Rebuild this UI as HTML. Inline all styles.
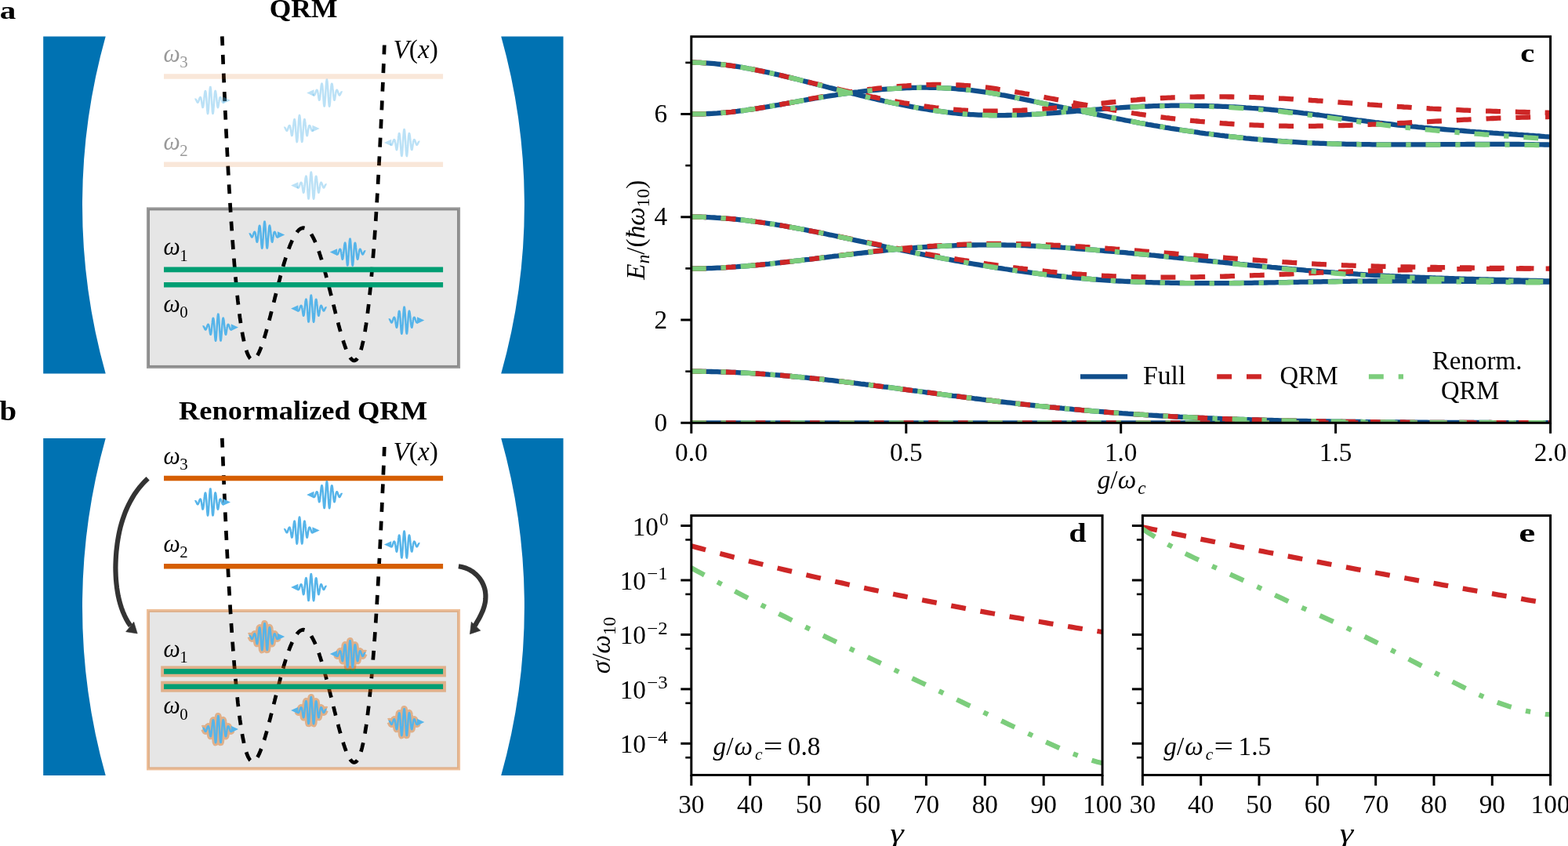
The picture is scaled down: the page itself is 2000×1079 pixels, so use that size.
<!DOCTYPE html>
<html><head><meta charset="utf-8"><title>Figure</title>
<style>html,body{margin:0;padding:0;background:#fff;overflow:hidden}svg{display:block}</style>
</head><body>
<svg width="2000" height="1079" viewBox="0 0 2000 1079" font-family='"Liberation Serif", "DejaVu Serif", serif' fill="#000">
<rect width="2000" height="1079" fill="#fff"/>
<g id="panel-a">
<path d="M55.2,46.5 L134.7,46.5 A793,793 0 0 0 134.7,476.4 L55.2,476.4 Z" fill="#0072B2"/>
<path d="M718.5,46.5 L639.2,46.5 A793,793 0 0 1 639.2,476.4 L718.5,476.4 Z" fill="#0072B2"/>
<rect x="189" y="266.4" width="396.05" height="201.5" fill="#E6E6E6" stroke="#000" stroke-opacity="0.4" stroke-width="4"/>
<path d="M283.3,46.3 L284,63 L284.6,79.3 L285.3,95.1 L285.9,110.5 L286.6,125.4 L287.2,139.9 L287.9,154 L288.5,167.8 L289.2,181.1 L289.8,194 L290.5,206.5 L291.1,218.6 L291.8,230.4 L292.4,241.7 L293.1,252.7 L293.7,263.4 L294.4,273.7 L295,283.7 L295.7,293.3 L296.3,302.5 L297,311.5 L297.6,320.1 L298.3,328.4 L298.9,336.4 L299.6,344.1 L300.2,351.4 L300.9,358.5 L301.5,365.3 L302.2,371.8 L302.8,378 L303.4,384 L304.1,389.6 L304.7,395 L305.4,400.2 L306,405.1 L306.7,409.7 L307.3,414.1 L308,418.3 L308.6,422.2 L309.3,425.9 L309.9,429.3 L310.6,432.6 L311.2,435.6 L311.9,438.4 L312.5,441.1 L313.2,443.5 L313.8,445.7 L314.5,447.7 L315.1,449.6 L315.8,451.2 L316.4,452.7 L317.1,454 L317.7,455.1 L318.4,456.1 L319,456.9 L319.7,457.6 L320.3,458.1 L321,458.4 L321.6,458.6 L322.3,458.7 L322.9,458.6 L323.6,458.4 L324.2,458.1 L324.9,457.7 L325.5,457.1 L326.2,456.4 L326.8,455.6 L327.5,454.7 L328.1,453.7 L328.8,452.6 L329.4,451.4 L330.1,450.1 L330.7,448.7 L331.3,447.3 L332,445.7 L332.6,444.1 L333.3,442.4 L333.9,440.6 L334.6,438.8 L335.2,436.8 L335.9,434.9 L336.5,432.8 L337.2,430.8 L337.8,428.6 L338.5,426.4 L339.1,424.2 L339.8,421.9 L340.4,419.6 L341.1,417.2 L341.7,414.8 L342.4,412.4 L343,409.9 L343.7,407.5 L344.3,405 L345,402.4 L345.6,399.9 L346.3,397.3 L346.9,394.8 L347.6,392.2 L348.2,389.6 L348.9,387 L349.5,384.4 L350.2,381.8 L350.8,379.2 L351.5,376.7 L352.1,374.1 L352.8,371.5 L353.4,368.9 L354.1,366.4 L354.7,363.8 L355.4,361.3 L356,358.8 L356.7,356.4 L357.3,353.9 L357.9,351.5 L358.6,349.1 L359.2,346.7 L359.9,344.4 L360.5,342 L361.2,339.8 L361.8,337.5 L362.5,335.3 L363.1,333.2 L363.8,331 L364.4,328.9 L365.1,326.9 L365.7,324.9 L366.4,323 L367,321.1 L367.7,319.2 L368.3,317.4 L369,315.6 L369.6,313.9 L370.3,312.3 L370.9,310.7 L371.6,309.2 L372.2,307.7 L372.9,306.2 L373.5,304.9 L374.2,303.6 L374.8,302.3 L375.5,301.1 L376.1,300 L376.8,298.9 L377.4,297.9 L378.1,297 L378.7,296.1 L379.4,295.3 L380,294.5 L380.7,293.9 L381.3,293.2 L382,292.7 L382.6,292.2 L383.3,291.8 L383.9,291.4 L384.6,291.2 L385.2,290.9 L385.8,290.8 L386.5,290.7 L387.1,290.7 L387.8,290.8 L388.4,290.9 L389.1,291.1 L389.7,291.3 L390.4,291.7 L391,292 L391.7,292.5 L392.3,293 L393,293.6 L393.6,294.3 L394.3,295 L394.9,295.8 L395.6,296.6 L396.2,297.6 L396.9,298.5 L397.5,299.6 L398.2,300.7 L398.8,301.9 L399.5,303.1 L400.1,304.4 L400.8,305.7 L401.4,307.1 L402.1,308.6 L402.7,310.1 L403.4,311.7 L404,313.3 L404.7,315 L405.3,316.8 L406,318.6 L406.6,320.4 L407.3,322.3 L407.9,324.2 L408.6,326.2 L409.2,328.2 L409.9,330.3 L410.5,332.4 L411.2,334.6 L411.8,336.8 L412.5,339 L413.1,341.3 L413.7,343.6 L414.4,345.9 L415,348.3 L415.7,350.7 L416.3,353.1 L417,355.6 L417.6,358 L418.3,360.5 L418.9,363.1 L419.6,365.6 L420.2,368.1 L420.9,370.7 L421.5,373.3 L422.2,375.9 L422.8,378.5 L423.5,381.1 L424.1,383.7 L424.8,386.3 L425.4,388.9 L426.1,391.5 L426.7,394.1 L427.4,396.7 L428,399.3 L428.7,401.8 L429.3,404.4 L430,406.9 L430.6,409.4 L431.3,411.9 L431.9,414.3 L432.6,416.8 L433.2,419.1 L433.9,421.5 L434.5,423.8 L435.2,426.1 L435.8,428.3 L436.5,430.5 L437.1,432.6 L437.8,434.7 L438.4,436.7 L439.1,438.7 L439.7,440.6 L440.3,442.4 L441,444.2 L441.6,445.9 L442.3,447.5 L442.9,449 L443.6,450.4 L444.2,451.8 L444.9,453 L445.5,454.2 L446.2,455.3 L446.8,456.3 L447.5,457.1 L448.1,457.9 L448.8,458.5 L449.4,459 L450.1,459.4 L450.7,459.7 L451.4,459.9 L452,459.9 L452.7,459.8 L453.3,459.5 L454,459.1 L454.6,458.5 L455.3,457.8 L455.9,457 L456.6,455.9 L457.2,454.7 L457.9,453.4 L458.5,451.8 L459.2,450.1 L459.8,448.2 L460.5,446.1 L461.1,443.8 L461.8,441.3 L462.4,438.6 L463.1,435.7 L463.7,432.6 L464.4,429.2 L465,425.7 L465.7,421.9 L466.3,417.9 L467,413.6 L467.6,409.1 L468.2,404.4 L468.9,399.4 L469.5,394.2 L470.2,388.6 L470.8,382.9 L471.5,376.8 L472.1,370.5 L472.8,363.9 L473.4,357 L474.1,349.8 L474.7,342.3 L475.4,334.5 L476,326.3 L476.7,317.9 L477.3,309.2 L478,300.1 L478.6,290.7 L479.3,280.9 L479.9,270.8 L480.6,260.4 L481.2,249.6 L481.9,238.4 L482.5,226.9 L483.2,215 L483.8,202.7 L484.5,190 L485.1,176.9 L485.8,163.5 L486.4,149.6 L487.1,135.3 L487.7,120.6 L488.4,105.5 L489,89.9 L489.7,73.9 L490.3,57.5" fill="none" stroke="#000" stroke-width="4.7" stroke-dasharray="11.9 11.75"/>
<line x1="209" x2="565.1" y1="97.5" y2="97.5" stroke="#D55E00" stroke-opacity="0.15" stroke-width="6.6"/>
<line x1="209" x2="565.1" y1="209.8" y2="209.8" stroke="#D55E00" stroke-opacity="0.15" stroke-width="6.6"/>
<line x1="209" x2="565.1" y1="343.9" y2="343.9" stroke="#009E73" stroke-width="6.6"/>
<line x1="209" x2="565.1" y1="363.2" y2="363.2" stroke="#009E73" stroke-width="6.6"/>
<path d="M248.6,126.8 L248.8,126.7 L249.1,126.7 L249.3,126.7 L249.6,126.8 L249.8,127 L250.1,127.3 L250.3,127.7 L250.6,128.2 L250.8,128.7 L251.1,129.3 L251.3,129.8 L251.6,130.2 L251.8,130.5 L252.1,130.7 L252.3,130.7 L252.6,130.5 L252.8,130.1 L253.1,129.6 L253.3,129 L253.6,128.2 L253.8,127.5 L254.1,126.7 L254.3,125.9 L254.6,125.3 L254.8,124.7 L255.1,124.3 L255.3,124.1 L255.6,124 L255.8,124.1 L256,124.5 L256.3,125.1 L256.5,125.9 L256.8,127.2 L257,128.6 L257.3,130.3 L257.5,132.1 L257.8,133.8 L258,135.3 L258.3,136.4 L258.5,137 L258.8,137 L259,136.5 L259.3,135.4 L259.5,133.8 L259.8,131.8 L260,129.4 L260.3,126.9 L260.5,124.4 L260.8,122 L261,119.8 L261.3,118 L261.5,116.7 L261.8,116.1 L262,116 L262.3,116.6 L262.5,117.8 L262.8,119.7 L263,122.3 L263.3,125.5 L263.5,129 L263.7,132.7 L264,136.3 L264.2,139.6 L264.5,142.3 L264.7,144.1 L265,145 L265.2,144.7 L265.5,143.5 L265.7,141.4 L266,138.5 L266.2,135 L266.5,131.1 L266.7,127 L267,123 L267.2,119.2 L267.5,116 L267.7,113.4 L268,111.7 L268.2,110.9 L268.5,111 L268.7,112.2 L269,114.2 L269.2,117 L269.5,120.5 L269.7,124.3 L270,128.4 L270.2,132.5 L270.5,136.2 L270.7,139.6 L270.9,142.2 L271.2,144 L271.4,144.9 L271.7,144.8 L271.9,143.6 L272.2,141.5 L272.4,138.6 L272.7,135.1 L272.9,131.4 L273.2,127.8 L273.4,124.4 L273.7,121.4 L273.9,119 L274.2,117.3 L274.4,116.3 L274.7,115.9 L274.9,116.2 L275.2,117.1 L275.4,118.6 L275.7,120.5 L275.9,122.8 L276.2,125.2 L276.4,127.8 L276.7,130.2 L276.9,132.5 L277.2,134.4 L277.4,135.8 L277.7,136.7 L277.9,137.1 L278.2,136.8 L278.4,136 L278.6,134.8 L278.9,133.2 L279.1,131.5 L279.4,129.7 L279.6,128.1 L279.9,126.7 L280.1,125.6 L280.4,124.8 L280.6,124.3 L280.9,124.1 L281.1,124 L281.4,124.2 L281.6,124.4 L281.9,124.9 L282.1,125.5 L282.4,126.2 L282.6,126.9 L282.9,127.7 L283.1,128.5 L283.4,129.2 L283.6,129.8 L283.9,130.3 L284.1,130.6 L284.4,130.7 L284.6,130.7 L284.9,130.5 L285.1,130.1 L285.4,129.6 L285.6,129.1" fill="none" stroke="#56B4E9" stroke-opacity="0.4" stroke-width="2.5" stroke-linejoin="round" stroke-linecap="butt"/><path d="M284.7,123.6 L294,127.9 L284.7,132.2Z" fill="#56B4E9" fill-opacity="0.4"/>
<path d="M436.6,117.5 L436.4,117.4 L436.1,117.4 L435.9,117.4 L435.6,117.5 L435.4,117.7 L435.1,118 L434.9,118.4 L434.6,118.9 L434.4,119.4 L434.1,120 L433.9,120.5 L433.6,120.9 L433.4,121.2 L433.1,121.4 L432.9,121.4 L432.6,121.2 L432.4,120.8 L432.1,120.3 L431.9,119.7 L431.6,118.9 L431.4,118.2 L431.1,117.4 L430.9,116.6 L430.6,116 L430.4,115.4 L430.1,115 L429.9,114.8 L429.6,114.7 L429.4,114.8 L429.2,115.2 L428.9,115.8 L428.7,116.6 L428.4,117.9 L428.2,119.3 L427.9,121 L427.7,122.8 L427.4,124.5 L427.2,126 L426.9,127.1 L426.7,127.7 L426.4,127.7 L426.2,127.2 L425.9,126.1 L425.7,124.5 L425.4,122.5 L425.2,120.1 L424.9,117.6 L424.7,115.1 L424.4,112.7 L424.2,110.5 L423.9,108.7 L423.7,107.4 L423.4,106.8 L423.2,106.7 L422.9,107.3 L422.7,108.5 L422.4,110.4 L422.2,113 L421.9,116.2 L421.7,119.7 L421.5,123.4 L421.2,127 L421,130.3 L420.7,133 L420.5,134.8 L420.2,135.7 L420,135.4 L419.7,134.2 L419.5,132.1 L419.2,129.2 L419,125.7 L418.7,121.8 L418.5,117.7 L418.2,113.7 L418,109.9 L417.7,106.7 L417.5,104.1 L417.2,102.4 L417,101.6 L416.7,101.7 L416.5,102.9 L416.2,104.9 L416,107.7 L415.7,111.2 L415.5,115 L415.2,119.1 L415,123.2 L414.7,126.9 L414.5,130.3 L414.3,132.9 L414,134.7 L413.8,135.6 L413.5,135.5 L413.3,134.3 L413,132.2 L412.8,129.3 L412.5,125.8 L412.3,122.1 L412,118.5 L411.8,115.1 L411.5,112.1 L411.3,109.7 L411,108 L410.8,107 L410.5,106.6 L410.3,106.9 L410,107.8 L409.8,109.3 L409.5,111.2 L409.3,113.5 L409,115.9 L408.8,118.5 L408.5,120.9 L408.3,123.2 L408,125.1 L407.8,126.5 L407.5,127.4 L407.3,127.8 L407,127.5 L406.8,126.7 L406.6,125.5 L406.3,123.9 L406.1,122.2 L405.8,120.4 L405.6,118.8 L405.3,117.4 L405.1,116.3 L404.8,115.5 L404.6,115 L404.3,114.8 L404.1,114.7 L403.8,114.9 L403.6,115.1 L403.3,115.6 L403.1,116.2 L402.8,116.9 L402.6,117.6 L402.3,118.4 L402.1,119.2 L401.8,119.9 L401.6,120.5 L401.3,121 L401.1,121.3 L400.8,121.4 L400.6,121.4 L400.3,121.2 L400.1,120.8 L399.8,120.3 L399.6,119.8" fill="none" stroke="#56B4E9" stroke-opacity="0.4" stroke-width="2.5" stroke-linejoin="round" stroke-linecap="butt"/><path d="M400.5,114.3 L391.2,118.6 L400.5,122.9Z" fill="#56B4E9" fill-opacity="0.4"/>
<path d="M362.3,162.9 L362.5,162.8 L362.8,162.8 L363,162.8 L363.3,162.9 L363.5,163.1 L363.8,163.4 L364,163.8 L364.3,164.3 L364.5,164.8 L364.8,165.4 L365,165.9 L365.3,166.3 L365.5,166.6 L365.8,166.8 L366,166.8 L366.3,166.6 L366.5,166.2 L366.8,165.7 L367,165.1 L367.3,164.3 L367.5,163.6 L367.8,162.8 L368,162 L368.3,161.4 L368.5,160.8 L368.8,160.4 L369,160.2 L369.3,160.1 L369.5,160.2 L369.7,160.6 L370,161.2 L370.2,162 L370.5,163.3 L370.7,164.7 L371,166.4 L371.2,168.2 L371.5,169.9 L371.7,171.4 L372,172.5 L372.2,173.1 L372.5,173.1 L372.7,172.6 L373,171.5 L373.2,169.9 L373.5,167.9 L373.7,165.5 L374,163 L374.2,160.5 L374.5,158.1 L374.7,155.9 L375,154.1 L375.2,152.8 L375.5,152.2 L375.7,152.1 L376,152.7 L376.2,153.9 L376.5,155.8 L376.7,158.4 L377,161.6 L377.2,165.1 L377.4,168.8 L377.7,172.4 L377.9,175.7 L378.2,178.4 L378.4,180.2 L378.7,181.1 L378.9,180.8 L379.2,179.6 L379.4,177.5 L379.7,174.6 L379.9,171.1 L380.2,167.2 L380.4,163.1 L380.7,159.1 L380.9,155.3 L381.2,152.1 L381.4,149.5 L381.7,147.8 L381.9,147 L382.2,147.1 L382.4,148.3 L382.7,150.3 L382.9,153.1 L383.2,156.6 L383.4,160.4 L383.7,164.5 L383.9,168.6 L384.2,172.3 L384.4,175.7 L384.6,178.3 L384.9,180.1 L385.1,181 L385.4,180.9 L385.6,179.7 L385.9,177.6 L386.1,174.7 L386.4,171.2 L386.6,167.5 L386.9,163.9 L387.1,160.5 L387.4,157.5 L387.6,155.1 L387.9,153.4 L388.1,152.4 L388.4,152 L388.6,152.3 L388.9,153.2 L389.1,154.7 L389.4,156.6 L389.6,158.9 L389.9,161.3 L390.1,163.9 L390.4,166.3 L390.6,168.6 L390.9,170.5 L391.1,171.9 L391.4,172.8 L391.6,173.2 L391.9,172.9 L392.1,172.1 L392.3,170.9 L392.6,169.3 L392.8,167.6 L393.1,165.8 L393.3,164.2 L393.6,162.8 L393.8,161.7 L394.1,160.9 L394.3,160.4 L394.6,160.2 L394.8,160.1 L395.1,160.3 L395.3,160.5 L395.6,161 L395.8,161.6 L396.1,162.3 L396.3,163 L396.6,163.8 L396.8,164.6 L397.1,165.3 L397.3,165.9 L397.6,166.4 L397.8,166.7 L398.1,166.8 L398.3,166.8 L398.6,166.6 L398.8,166.2 L399.1,165.7 L399.3,165.2" fill="none" stroke="#56B4E9" stroke-opacity="0.4" stroke-width="2.5" stroke-linejoin="round" stroke-linecap="butt"/><path d="M398.4,159.7 L407.7,164 L398.4,168.3Z" fill="#56B4E9" fill-opacity="0.4"/>
<path d="M535.3,180.9 L535.1,180.8 L534.8,180.8 L534.6,180.8 L534.3,180.9 L534.1,181.1 L533.8,181.4 L533.6,181.8 L533.3,182.3 L533.1,182.8 L532.8,183.4 L532.6,183.9 L532.3,184.3 L532.1,184.6 L531.8,184.8 L531.6,184.8 L531.3,184.6 L531.1,184.2 L530.8,183.7 L530.6,183.1 L530.3,182.3 L530.1,181.6 L529.8,180.8 L529.6,180 L529.3,179.4 L529.1,178.8 L528.8,178.4 L528.6,178.2 L528.3,178.1 L528.1,178.2 L527.9,178.6 L527.6,179.2 L527.4,180 L527.1,181.3 L526.9,182.7 L526.6,184.4 L526.4,186.2 L526.1,187.9 L525.9,189.4 L525.6,190.5 L525.4,191.1 L525.1,191.1 L524.9,190.6 L524.6,189.5 L524.4,187.9 L524.1,185.9 L523.9,183.5 L523.6,181 L523.4,178.5 L523.1,176.1 L522.9,173.9 L522.6,172.1 L522.4,170.8 L522.1,170.2 L521.9,170.1 L521.6,170.7 L521.4,171.9 L521.1,173.8 L520.9,176.4 L520.6,179.6 L520.4,183.1 L520.2,186.8 L519.9,190.4 L519.7,193.7 L519.4,196.4 L519.2,198.2 L518.9,199.1 L518.7,198.8 L518.4,197.6 L518.2,195.5 L517.9,192.6 L517.7,189.1 L517.4,185.2 L517.2,181.1 L516.9,177.1 L516.7,173.3 L516.4,170.1 L516.2,167.5 L515.9,165.8 L515.7,165 L515.4,165.1 L515.2,166.3 L514.9,168.3 L514.7,171.1 L514.4,174.6 L514.2,178.4 L513.9,182.5 L513.7,186.6 L513.4,190.3 L513.2,193.7 L513,196.3 L512.7,198.1 L512.5,199 L512.2,198.9 L512,197.7 L511.7,195.6 L511.5,192.7 L511.2,189.2 L511,185.5 L510.7,181.9 L510.5,178.5 L510.2,175.5 L510,173.1 L509.7,171.4 L509.5,170.4 L509.2,170 L509,170.3 L508.7,171.2 L508.5,172.7 L508.2,174.6 L508,176.9 L507.7,179.3 L507.5,181.9 L507.2,184.3 L507,186.6 L506.7,188.5 L506.5,189.9 L506.2,190.8 L506,191.2 L505.7,190.9 L505.5,190.1 L505.3,188.9 L505,187.3 L504.8,185.6 L504.5,183.8 L504.3,182.2 L504,180.8 L503.8,179.7 L503.5,178.9 L503.3,178.4 L503,178.2 L502.8,178.1 L502.5,178.3 L502.3,178.5 L502,179 L501.8,179.6 L501.5,180.3 L501.3,181 L501,181.8 L500.8,182.6 L500.5,183.3 L500.3,183.9 L500,184.4 L499.8,184.7 L499.5,184.8 L499.3,184.8 L499,184.6 L498.8,184.2 L498.5,183.7 L498.3,183.2" fill="none" stroke="#56B4E9" stroke-opacity="0.4" stroke-width="2.5" stroke-linejoin="round" stroke-linecap="butt"/><path d="M499.2,177.7 L489.9,182 L499.2,186.3Z" fill="#56B4E9" fill-opacity="0.4"/>
<path d="M416.5,235.5 L416.3,235.4 L416,235.4 L415.8,235.4 L415.5,235.5 L415.3,235.7 L415,236 L414.8,236.4 L414.5,236.9 L414.3,237.4 L414,238 L413.8,238.5 L413.5,238.9 L413.3,239.2 L413,239.4 L412.8,239.4 L412.5,239.2 L412.3,238.8 L412,238.3 L411.8,237.7 L411.5,236.9 L411.3,236.2 L411,235.4 L410.8,234.6 L410.5,234 L410.3,233.4 L410,233 L409.8,232.8 L409.5,232.7 L409.3,232.8 L409.1,233.2 L408.8,233.8 L408.6,234.6 L408.3,235.9 L408.1,237.3 L407.8,239 L407.6,240.8 L407.3,242.5 L407.1,244 L406.8,245.1 L406.6,245.7 L406.3,245.7 L406.1,245.2 L405.8,244.1 L405.6,242.5 L405.3,240.5 L405.1,238.1 L404.8,235.6 L404.6,233.1 L404.3,230.7 L404.1,228.5 L403.8,226.7 L403.6,225.4 L403.3,224.8 L403.1,224.7 L402.8,225.3 L402.6,226.5 L402.3,228.4 L402.1,231 L401.8,234.2 L401.6,237.7 L401.4,241.4 L401.1,245 L400.9,248.3 L400.6,251 L400.4,252.8 L400.1,253.7 L399.9,253.4 L399.6,252.2 L399.4,250.1 L399.1,247.2 L398.9,243.7 L398.6,239.8 L398.4,235.7 L398.1,231.7 L397.9,227.9 L397.6,224.7 L397.4,222.1 L397.1,220.4 L396.9,219.6 L396.6,219.7 L396.4,220.9 L396.1,222.9 L395.9,225.7 L395.6,229.2 L395.4,233 L395.1,237.1 L394.9,241.2 L394.6,244.9 L394.4,248.3 L394.2,250.9 L393.9,252.7 L393.7,253.6 L393.4,253.5 L393.2,252.3 L392.9,250.2 L392.7,247.3 L392.4,243.8 L392.2,240.1 L391.9,236.5 L391.7,233.1 L391.4,230.1 L391.2,227.7 L390.9,226 L390.7,225 L390.4,224.6 L390.2,224.9 L389.9,225.8 L389.7,227.3 L389.4,229.2 L389.2,231.5 L388.9,233.9 L388.7,236.5 L388.4,238.9 L388.2,241.2 L387.9,243.1 L387.7,244.5 L387.4,245.4 L387.2,245.8 L386.9,245.5 L386.7,244.7 L386.5,243.5 L386.2,241.9 L386,240.2 L385.7,238.4 L385.5,236.8 L385.2,235.4 L385,234.3 L384.7,233.5 L384.5,233 L384.2,232.8 L384,232.7 L383.7,232.9 L383.5,233.1 L383.2,233.6 L383,234.2 L382.7,234.9 L382.5,235.6 L382.2,236.4 L382,237.2 L381.7,237.9 L381.5,238.5 L381.2,239 L381,239.3 L380.7,239.4 L380.5,239.4 L380.2,239.2 L380,238.8 L379.7,238.3 L379.5,237.8" fill="none" stroke="#56B4E9" stroke-opacity="0.4" stroke-width="2.5" stroke-linejoin="round" stroke-linecap="butt"/><path d="M380.4,232.3 L371.1,236.6 L380.4,240.9Z" fill="#56B4E9" fill-opacity="0.4"/>
<path d="M317.8,298.5 L318,298.4 L318.3,298.4 L318.5,298.4 L318.8,298.5 L319,298.7 L319.3,299 L319.5,299.4 L319.8,299.9 L320,300.4 L320.3,301 L320.5,301.5 L320.8,301.9 L321,302.2 L321.3,302.4 L321.5,302.4 L321.8,302.2 L322,301.8 L322.3,301.3 L322.5,300.7 L322.8,299.9 L323,299.2 L323.3,298.4 L323.5,297.6 L323.8,297 L324,296.4 L324.3,296 L324.5,295.8 L324.8,295.7 L325,295.8 L325.2,296.2 L325.5,296.8 L325.7,297.6 L326,298.9 L326.2,300.3 L326.5,302 L326.7,303.8 L327,305.5 L327.2,307 L327.5,308.1 L327.7,308.7 L328,308.7 L328.2,308.2 L328.5,307.1 L328.7,305.5 L329,303.5 L329.2,301.1 L329.5,298.6 L329.7,296.1 L330,293.7 L330.2,291.5 L330.5,289.7 L330.7,288.4 L331,287.8 L331.2,287.7 L331.5,288.3 L331.7,289.5 L332,291.4 L332.2,294 L332.5,297.2 L332.7,300.7 L332.9,304.4 L333.2,308 L333.4,311.3 L333.7,314 L333.9,315.8 L334.2,316.7 L334.4,316.4 L334.7,315.2 L334.9,313.1 L335.2,310.2 L335.4,306.7 L335.7,302.8 L335.9,298.7 L336.2,294.7 L336.4,290.9 L336.7,287.7 L336.9,285.1 L337.2,283.4 L337.4,282.6 L337.7,282.7 L337.9,283.9 L338.2,285.9 L338.4,288.7 L338.7,292.2 L338.9,296 L339.2,300.1 L339.4,304.2 L339.7,307.9 L339.9,311.3 L340.1,313.9 L340.4,315.7 L340.6,316.6 L340.9,316.5 L341.1,315.3 L341.4,313.2 L341.6,310.3 L341.9,306.8 L342.1,303.1 L342.4,299.5 L342.6,296.1 L342.9,293.1 L343.1,290.7 L343.4,289 L343.6,288 L343.9,287.6 L344.1,287.9 L344.4,288.8 L344.6,290.3 L344.9,292.2 L345.1,294.5 L345.4,296.9 L345.6,299.5 L345.9,301.9 L346.1,304.2 L346.4,306.1 L346.6,307.5 L346.9,308.4 L347.1,308.8 L347.4,308.5 L347.6,307.7 L347.8,306.5 L348.1,304.9 L348.3,303.2 L348.6,301.4 L348.8,299.8 L349.1,298.4 L349.3,297.3 L349.6,296.5 L349.8,296 L350.1,295.8 L350.3,295.7 L350.6,295.9 L350.8,296.1 L351.1,296.6 L351.3,297.2 L351.6,297.9 L351.8,298.6 L352.1,299.4 L352.3,300.2 L352.6,300.9 L352.8,301.5 L353.1,302 L353.3,302.3 L353.6,302.4 L353.8,302.4 L354.1,302.2 L354.3,301.8 L354.6,301.3 L354.8,300.8" fill="none" stroke="#56B4E9" stroke-width="2.5" stroke-linejoin="round" stroke-linecap="butt"/><path d="M353.9,295.3 L363.2,299.6 L353.9,303.9Z" fill="#56B4E9"/>
<path d="M466.2,320.5 L466,320.4 L465.7,320.4 L465.5,320.4 L465.2,320.5 L465,320.7 L464.7,321 L464.5,321.4 L464.2,321.9 L464,322.4 L463.7,323 L463.5,323.5 L463.2,323.9 L463,324.2 L462.7,324.4 L462.5,324.4 L462.2,324.2 L462,323.8 L461.7,323.3 L461.5,322.7 L461.2,321.9 L461,321.2 L460.7,320.4 L460.5,319.6 L460.2,319 L460,318.4 L459.7,318 L459.5,317.8 L459.2,317.7 L459,317.8 L458.8,318.2 L458.5,318.8 L458.3,319.6 L458,320.9 L457.8,322.3 L457.5,324 L457.3,325.8 L457,327.5 L456.8,329 L456.5,330.1 L456.3,330.7 L456,330.7 L455.8,330.2 L455.5,329.1 L455.3,327.5 L455,325.5 L454.8,323.1 L454.5,320.6 L454.3,318.1 L454,315.7 L453.8,313.5 L453.5,311.7 L453.3,310.4 L453,309.8 L452.8,309.7 L452.5,310.3 L452.3,311.5 L452,313.4 L451.8,316 L451.5,319.2 L451.3,322.7 L451.1,326.4 L450.8,330 L450.6,333.3 L450.3,336 L450.1,337.8 L449.8,338.7 L449.6,338.4 L449.3,337.2 L449.1,335.1 L448.8,332.2 L448.6,328.7 L448.3,324.8 L448.1,320.7 L447.8,316.7 L447.6,312.9 L447.3,309.7 L447.1,307.1 L446.8,305.4 L446.6,304.6 L446.3,304.7 L446.1,305.9 L445.8,307.9 L445.6,310.7 L445.3,314.2 L445.1,318 L444.8,322.1 L444.6,326.2 L444.3,329.9 L444.1,333.3 L443.9,335.9 L443.6,337.7 L443.4,338.6 L443.1,338.5 L442.9,337.3 L442.6,335.2 L442.4,332.3 L442.1,328.8 L441.9,325.1 L441.6,321.5 L441.4,318.1 L441.1,315.1 L440.9,312.7 L440.6,311 L440.4,310 L440.1,309.6 L439.9,309.9 L439.6,310.8 L439.4,312.3 L439.1,314.2 L438.9,316.5 L438.6,318.9 L438.4,321.5 L438.1,323.9 L437.9,326.2 L437.6,328.1 L437.4,329.5 L437.1,330.4 L436.9,330.8 L436.6,330.5 L436.4,329.7 L436.2,328.5 L435.9,326.9 L435.7,325.2 L435.4,323.4 L435.2,321.8 L434.9,320.4 L434.7,319.3 L434.4,318.5 L434.2,318 L433.9,317.8 L433.7,317.7 L433.4,317.9 L433.2,318.1 L432.9,318.6 L432.7,319.2 L432.4,319.9 L432.2,320.6 L431.9,321.4 L431.7,322.2 L431.4,322.9 L431.2,323.5 L430.9,324 L430.7,324.3 L430.4,324.4 L430.2,324.4 L429.9,324.2 L429.7,323.8 L429.4,323.3 L429.2,322.8" fill="none" stroke="#56B4E9" stroke-width="2.5" stroke-linejoin="round" stroke-linecap="butt"/><path d="M430.1,317.3 L420.8,321.6 L430.1,325.9Z" fill="#56B4E9"/>
<path d="M416.5,392.5 L416.3,392.4 L416,392.4 L415.8,392.4 L415.5,392.5 L415.3,392.7 L415,393 L414.8,393.4 L414.5,393.9 L414.3,394.4 L414,395 L413.8,395.5 L413.5,395.9 L413.3,396.2 L413,396.4 L412.8,396.4 L412.5,396.2 L412.3,395.8 L412,395.3 L411.8,394.7 L411.5,393.9 L411.3,393.2 L411,392.4 L410.8,391.6 L410.5,391 L410.3,390.4 L410,390 L409.8,389.8 L409.5,389.7 L409.3,389.8 L409.1,390.2 L408.8,390.8 L408.6,391.6 L408.3,392.9 L408.1,394.3 L407.8,396 L407.6,397.8 L407.3,399.5 L407.1,401 L406.8,402.1 L406.6,402.7 L406.3,402.7 L406.1,402.2 L405.8,401.1 L405.6,399.5 L405.3,397.5 L405.1,395.1 L404.8,392.6 L404.6,390.1 L404.3,387.7 L404.1,385.5 L403.8,383.7 L403.6,382.4 L403.3,381.8 L403.1,381.7 L402.8,382.3 L402.6,383.5 L402.3,385.4 L402.1,388 L401.8,391.2 L401.6,394.7 L401.4,398.4 L401.1,402 L400.9,405.3 L400.6,408 L400.4,409.8 L400.1,410.7 L399.9,410.4 L399.6,409.2 L399.4,407.1 L399.1,404.2 L398.9,400.7 L398.6,396.8 L398.4,392.7 L398.1,388.7 L397.9,384.9 L397.6,381.7 L397.4,379.1 L397.1,377.4 L396.9,376.6 L396.6,376.7 L396.4,377.9 L396.1,379.9 L395.9,382.7 L395.6,386.2 L395.4,390 L395.1,394.1 L394.9,398.2 L394.6,401.9 L394.4,405.3 L394.2,407.9 L393.9,409.7 L393.7,410.6 L393.4,410.5 L393.2,409.3 L392.9,407.2 L392.7,404.3 L392.4,400.8 L392.2,397.1 L391.9,393.5 L391.7,390.1 L391.4,387.1 L391.2,384.7 L390.9,383 L390.7,382 L390.4,381.6 L390.2,381.9 L389.9,382.8 L389.7,384.3 L389.4,386.2 L389.2,388.5 L388.9,390.9 L388.7,393.5 L388.4,395.9 L388.2,398.2 L387.9,400.1 L387.7,401.5 L387.4,402.4 L387.2,402.8 L386.9,402.5 L386.7,401.7 L386.5,400.5 L386.2,398.9 L386,397.2 L385.7,395.4 L385.5,393.8 L385.2,392.4 L385,391.3 L384.7,390.5 L384.5,390 L384.2,389.8 L384,389.7 L383.7,389.9 L383.5,390.1 L383.2,390.6 L383,391.2 L382.7,391.9 L382.5,392.6 L382.2,393.4 L382,394.2 L381.7,394.9 L381.5,395.5 L381.2,396 L381,396.3 L380.7,396.4 L380.5,396.4 L380.2,396.2 L380,395.8 L379.7,395.3 L379.5,394.8" fill="none" stroke="#56B4E9" stroke-width="2.5" stroke-linejoin="round" stroke-linecap="butt"/><path d="M380.4,389.3 L371.1,393.6 L380.4,397.9Z" fill="#56B4E9"/>
<path d="M258.6,416.5 L258.8,416.4 L259.1,416.4 L259.3,416.4 L259.6,416.5 L259.8,416.7 L260.1,417 L260.3,417.4 L260.6,417.9 L260.8,418.4 L261.1,419 L261.3,419.5 L261.6,419.9 L261.8,420.2 L262.1,420.4 L262.3,420.4 L262.6,420.2 L262.8,419.8 L263.1,419.3 L263.3,418.7 L263.6,417.9 L263.8,417.2 L264.1,416.4 L264.3,415.6 L264.6,415 L264.8,414.4 L265.1,414 L265.3,413.8 L265.6,413.7 L265.8,413.8 L266,414.2 L266.3,414.8 L266.5,415.6 L266.8,416.9 L267,418.3 L267.3,420 L267.5,421.8 L267.8,423.5 L268,425 L268.3,426.1 L268.5,426.7 L268.8,426.7 L269,426.2 L269.3,425.1 L269.5,423.5 L269.8,421.5 L270,419.1 L270.3,416.6 L270.5,414.1 L270.8,411.7 L271,409.5 L271.3,407.7 L271.5,406.4 L271.8,405.8 L272,405.7 L272.3,406.3 L272.5,407.5 L272.8,409.4 L273,412 L273.3,415.2 L273.5,418.7 L273.7,422.4 L274,426 L274.2,429.3 L274.5,432 L274.7,433.8 L275,434.7 L275.2,434.4 L275.5,433.2 L275.7,431.1 L276,428.2 L276.2,424.7 L276.5,420.8 L276.7,416.7 L277,412.7 L277.2,408.9 L277.5,405.7 L277.7,403.1 L278,401.4 L278.2,400.6 L278.5,400.7 L278.7,401.9 L279,403.9 L279.2,406.7 L279.5,410.2 L279.7,414 L280,418.1 L280.2,422.2 L280.5,425.9 L280.7,429.3 L280.9,431.9 L281.2,433.7 L281.4,434.6 L281.7,434.5 L281.9,433.3 L282.2,431.2 L282.4,428.3 L282.7,424.8 L282.9,421.1 L283.2,417.5 L283.4,414.1 L283.7,411.1 L283.9,408.7 L284.2,407 L284.4,406 L284.7,405.6 L284.9,405.9 L285.2,406.8 L285.4,408.3 L285.7,410.2 L285.9,412.5 L286.2,414.9 L286.4,417.5 L286.7,419.9 L286.9,422.2 L287.2,424.1 L287.4,425.5 L287.7,426.4 L287.9,426.8 L288.2,426.5 L288.4,425.7 L288.6,424.5 L288.9,422.9 L289.1,421.2 L289.4,419.4 L289.6,417.8 L289.9,416.4 L290.1,415.3 L290.4,414.5 L290.6,414 L290.9,413.8 L291.1,413.7 L291.4,413.9 L291.6,414.1 L291.9,414.6 L292.1,415.2 L292.4,415.9 L292.6,416.6 L292.9,417.4 L293.1,418.2 L293.4,418.9 L293.6,419.5 L293.9,420 L294.1,420.3 L294.4,420.4 L294.6,420.4 L294.9,420.2 L295.1,419.8 L295.4,419.3 L295.6,418.8" fill="none" stroke="#56B4E9" stroke-width="2.5" stroke-linejoin="round" stroke-linecap="butt"/><path d="M294.7,413.3 L304,417.6 L294.7,421.9Z" fill="#56B4E9"/>
<path d="M495.9,407.5 L496.1,407.4 L496.4,407.4 L496.6,407.4 L496.9,407.5 L497.1,407.7 L497.4,408 L497.6,408.4 L497.9,408.9 L498.1,409.4 L498.4,410 L498.6,410.5 L498.9,410.9 L499.1,411.2 L499.4,411.4 L499.6,411.4 L499.9,411.2 L500.1,410.8 L500.4,410.3 L500.6,409.7 L500.9,408.9 L501.1,408.2 L501.4,407.4 L501.6,406.6 L501.9,406 L502.1,405.4 L502.4,405 L502.6,404.8 L502.9,404.7 L503.1,404.8 L503.3,405.2 L503.6,405.8 L503.8,406.6 L504.1,407.9 L504.3,409.3 L504.6,411 L504.8,412.8 L505.1,414.5 L505.3,416 L505.6,417.1 L505.8,417.7 L506.1,417.7 L506.3,417.2 L506.6,416.1 L506.8,414.5 L507.1,412.5 L507.3,410.1 L507.6,407.6 L507.8,405.1 L508.1,402.7 L508.3,400.5 L508.6,398.7 L508.8,397.4 L509.1,396.8 L509.3,396.7 L509.6,397.3 L509.8,398.5 L510.1,400.4 L510.3,403 L510.6,406.2 L510.8,409.7 L511,413.4 L511.3,417 L511.5,420.3 L511.8,423 L512,424.8 L512.3,425.7 L512.5,425.4 L512.8,424.2 L513,422.1 L513.3,419.2 L513.5,415.7 L513.8,411.8 L514,407.7 L514.3,403.7 L514.5,399.9 L514.8,396.7 L515,394.1 L515.3,392.4 L515.5,391.6 L515.8,391.7 L516,392.9 L516.3,394.9 L516.5,397.7 L516.8,401.2 L517,405 L517.3,409.1 L517.5,413.2 L517.8,416.9 L518,420.3 L518.2,422.9 L518.5,424.7 L518.7,425.6 L519,425.5 L519.2,424.3 L519.5,422.2 L519.7,419.3 L520,415.8 L520.2,412.1 L520.5,408.5 L520.7,405.1 L521,402.1 L521.2,399.7 L521.5,398 L521.7,397 L522,396.6 L522.2,396.9 L522.5,397.8 L522.7,399.3 L523,401.2 L523.2,403.5 L523.5,405.9 L523.7,408.5 L524,410.9 L524.2,413.2 L524.5,415.1 L524.7,416.5 L525,417.4 L525.2,417.8 L525.5,417.5 L525.7,416.7 L525.9,415.5 L526.2,413.9 L526.4,412.2 L526.7,410.4 L526.9,408.8 L527.2,407.4 L527.4,406.3 L527.7,405.5 L527.9,405 L528.2,404.8 L528.4,404.7 L528.7,404.9 L528.9,405.1 L529.2,405.6 L529.4,406.2 L529.7,406.9 L529.9,407.6 L530.2,408.4 L530.4,409.2 L530.7,409.9 L530.9,410.5 L531.2,411 L531.4,411.3 L531.7,411.4 L531.9,411.4 L532.2,411.2 L532.4,410.8 L532.7,410.3 L532.9,409.8" fill="none" stroke="#56B4E9" stroke-width="2.5" stroke-linejoin="round" stroke-linecap="butt"/><path d="M532,404.3 L541.3,408.6 L532,412.9Z" fill="#56B4E9"/>
<text x="208.6" y="79" font-size="31" font-style="italic" fill="#999" textLength="21.2" lengthAdjust="spacingAndGlyphs">ω</text>
<text x="229.3" y="86.4" font-size="20.8" fill="#999">3</text>
<text x="208.6" y="191.2" font-size="31" font-style="italic" fill="#999" textLength="21.2" lengthAdjust="spacingAndGlyphs">ω</text>
<text x="229.3" y="198.6" font-size="20.8" fill="#999">2</text>
<text x="208.6" y="325.3" font-size="31" font-style="italic" fill="#000" textLength="21.2" lengthAdjust="spacingAndGlyphs">ω</text>
<text x="229.3" y="332.7" font-size="20.8" fill="#000">1</text>
<text x="208.6" y="397.6" font-size="31" font-style="italic" fill="#000" textLength="21.2" lengthAdjust="spacingAndGlyphs">ω</text>
<text x="229.3" y="405" font-size="20.8" fill="#000">0</text>
<text x="501.5" y="74.3" font-size="33.3" fill="#000"><tspan font-style="italic">V</tspan>(<tspan font-style="italic">x</tspan>)</text>
<text x="-0.3" y="24" font-size="32" font-weight="bold" textLength="20.6" lengthAdjust="spacingAndGlyphs">a</text>
<text x="343.7" y="22.2" font-size="33.3" font-weight="bold" textLength="86.7" lengthAdjust="spacingAndGlyphs">QRM</text>
</g>
<g id="panel-b">
<path d="M55.2,559 L134.7,559 A793,793 0 0 0 134.7,988.9 L55.2,988.9 Z" fill="#0072B2"/>
<path d="M718.5,559 L639.2,559 A793,793 0 0 1 639.2,988.9 L718.5,988.9 Z" fill="#0072B2"/>
<rect x="189" y="778.9" width="396.05" height="201.5" fill="#E6E6E6" stroke="#D55E00" stroke-opacity="0.4" stroke-width="4"/>
<path d="M283.3,558.8 L284,575.5 L284.6,591.8 L285.3,607.6 L285.9,623 L286.6,637.9 L287.2,652.4 L287.9,666.5 L288.5,680.3 L289.2,693.6 L289.8,706.5 L290.5,719 L291.1,731.1 L291.8,742.9 L292.4,754.2 L293.1,765.2 L293.7,775.9 L294.4,786.2 L295,796.2 L295.7,805.8 L296.3,815 L297,824 L297.6,832.6 L298.3,840.9 L298.9,848.9 L299.6,856.6 L300.2,863.9 L300.9,871 L301.5,877.8 L302.2,884.3 L302.8,890.5 L303.4,896.5 L304.1,902.1 L304.7,907.5 L305.4,912.7 L306,917.6 L306.7,922.2 L307.3,926.6 L308,930.8 L308.6,934.7 L309.3,938.4 L309.9,941.8 L310.6,945.1 L311.2,948.1 L311.9,950.9 L312.5,953.6 L313.2,956 L313.8,958.2 L314.5,960.2 L315.1,962.1 L315.8,963.7 L316.4,965.2 L317.1,966.5 L317.7,967.6 L318.4,968.6 L319,969.4 L319.7,970.1 L320.3,970.6 L321,970.9 L321.6,971.1 L322.3,971.2 L322.9,971.1 L323.6,970.9 L324.2,970.6 L324.9,970.2 L325.5,969.6 L326.2,968.9 L326.8,968.1 L327.5,967.2 L328.1,966.2 L328.8,965.1 L329.4,963.9 L330.1,962.6 L330.7,961.2 L331.3,959.8 L332,958.2 L332.6,956.6 L333.3,954.9 L333.9,953.1 L334.6,951.3 L335.2,949.3 L335.9,947.4 L336.5,945.3 L337.2,943.3 L337.8,941.1 L338.5,938.9 L339.1,936.7 L339.8,934.4 L340.4,932.1 L341.1,929.7 L341.7,927.3 L342.4,924.9 L343,922.4 L343.7,920 L344.3,917.5 L345,914.9 L345.6,912.4 L346.3,909.8 L346.9,907.3 L347.6,904.7 L348.2,902.1 L348.9,899.5 L349.5,896.9 L350.2,894.3 L350.8,891.7 L351.5,889.2 L352.1,886.6 L352.8,884 L353.4,881.4 L354.1,878.9 L354.7,876.3 L355.4,873.8 L356,871.3 L356.7,868.9 L357.3,866.4 L357.9,864 L358.6,861.6 L359.2,859.2 L359.9,856.9 L360.5,854.5 L361.2,852.3 L361.8,850 L362.5,847.8 L363.1,845.7 L363.8,843.5 L364.4,841.4 L365.1,839.4 L365.7,837.4 L366.4,835.5 L367,833.6 L367.7,831.7 L368.3,829.9 L369,828.1 L369.6,826.4 L370.3,824.8 L370.9,823.2 L371.6,821.7 L372.2,820.2 L372.9,818.7 L373.5,817.4 L374.2,816.1 L374.8,814.8 L375.5,813.6 L376.1,812.5 L376.8,811.4 L377.4,810.4 L378.1,809.5 L378.7,808.6 L379.4,807.8 L380,807 L380.7,806.4 L381.3,805.7 L382,805.2 L382.6,804.7 L383.3,804.3 L383.9,803.9 L384.6,803.7 L385.2,803.4 L385.8,803.3 L386.5,803.2 L387.1,803.2 L387.8,803.3 L388.4,803.4 L389.1,803.6 L389.7,803.8 L390.4,804.2 L391,804.5 L391.7,805 L392.3,805.5 L393,806.1 L393.6,806.8 L394.3,807.5 L394.9,808.3 L395.6,809.1 L396.2,810.1 L396.9,811 L397.5,812.1 L398.2,813.2 L398.8,814.4 L399.5,815.6 L400.1,816.9 L400.8,818.2 L401.4,819.6 L402.1,821.1 L402.7,822.6 L403.4,824.2 L404,825.8 L404.7,827.5 L405.3,829.3 L406,831.1 L406.6,832.9 L407.3,834.8 L407.9,836.7 L408.6,838.7 L409.2,840.7 L409.9,842.8 L410.5,844.9 L411.2,847.1 L411.8,849.3 L412.5,851.5 L413.1,853.8 L413.7,856.1 L414.4,858.4 L415,860.8 L415.7,863.2 L416.3,865.6 L417,868.1 L417.6,870.5 L418.3,873 L418.9,875.6 L419.6,878.1 L420.2,880.6 L420.9,883.2 L421.5,885.8 L422.2,888.4 L422.8,891 L423.5,893.6 L424.1,896.2 L424.8,898.8 L425.4,901.4 L426.1,904 L426.7,906.6 L427.4,909.2 L428,911.8 L428.7,914.3 L429.3,916.9 L430,919.4 L430.6,921.9 L431.3,924.4 L431.9,926.8 L432.6,929.3 L433.2,931.6 L433.9,934 L434.5,936.3 L435.2,938.6 L435.8,940.8 L436.5,943 L437.1,945.1 L437.8,947.2 L438.4,949.2 L439.1,951.2 L439.7,953.1 L440.3,954.9 L441,956.7 L441.6,958.4 L442.3,960 L442.9,961.5 L443.6,962.9 L444.2,964.3 L444.9,965.5 L445.5,966.7 L446.2,967.8 L446.8,968.8 L447.5,969.6 L448.1,970.4 L448.8,971 L449.4,971.5 L450.1,971.9 L450.7,972.2 L451.4,972.4 L452,972.4 L452.7,972.3 L453.3,972 L454,971.6 L454.6,971 L455.3,970.3 L455.9,969.5 L456.6,968.4 L457.2,967.2 L457.9,965.9 L458.5,964.3 L459.2,962.6 L459.8,960.7 L460.5,958.6 L461.1,956.3 L461.8,953.8 L462.4,951.1 L463.1,948.2 L463.7,945.1 L464.4,941.7 L465,938.2 L465.7,934.4 L466.3,930.4 L467,926.1 L467.6,921.6 L468.2,916.9 L468.9,911.9 L469.5,906.7 L470.2,901.1 L470.8,895.4 L471.5,889.3 L472.1,883 L472.8,876.4 L473.4,869.5 L474.1,862.3 L474.7,854.8 L475.4,847 L476,838.8 L476.7,830.4 L477.3,821.7 L478,812.6 L478.6,803.2 L479.3,793.4 L479.9,783.3 L480.6,772.9 L481.2,762.1 L481.9,750.9 L482.5,739.4 L483.2,727.5 L483.8,715.2 L484.5,702.5 L485.1,689.4 L485.8,676 L486.4,662.1 L487.1,647.8 L487.7,633.1 L488.4,618 L489,602.4 L489.7,586.4 L490.3,570" fill="none" stroke="#000" stroke-width="4.7" stroke-dasharray="11.9 11.75"/>
<line x1="209" x2="565.1" y1="610" y2="610" stroke="#D55E00" stroke-width="6.6"/>
<line x1="209" x2="565.1" y1="722.3" y2="722.3" stroke="#D55E00" stroke-width="6.6"/>
<rect x="205.2" y="849.4" width="363.7" height="14" fill="#D55E00" fill-opacity="0.4"/>
<line x1="209" x2="565.1" y1="856.4" y2="856.4" stroke="#009E73" stroke-width="6.6"/>
<rect x="205.2" y="868.7" width="363.7" height="14" fill="#D55E00" fill-opacity="0.4"/>
<line x1="209" x2="565.1" y1="875.7" y2="875.7" stroke="#009E73" stroke-width="6.6"/>
<path d="M248.6,639.3 L248.8,639.2 L249.1,639.2 L249.3,639.2 L249.6,639.3 L249.8,639.5 L250.1,639.8 L250.3,640.2 L250.6,640.7 L250.8,641.2 L251.1,641.8 L251.3,642.3 L251.6,642.7 L251.8,643 L252.1,643.2 L252.3,643.2 L252.6,643 L252.8,642.6 L253.1,642.1 L253.3,641.5 L253.6,640.7 L253.8,640 L254.1,639.2 L254.3,638.4 L254.6,637.8 L254.8,637.2 L255.1,636.8 L255.3,636.6 L255.6,636.5 L255.8,636.6 L256,637 L256.3,637.6 L256.5,638.4 L256.8,639.7 L257,641.1 L257.3,642.8 L257.5,644.6 L257.8,646.3 L258,647.8 L258.3,648.9 L258.5,649.5 L258.8,649.5 L259,649 L259.3,647.9 L259.5,646.3 L259.8,644.3 L260,641.9 L260.3,639.4 L260.5,636.9 L260.8,634.5 L261,632.3 L261.3,630.5 L261.5,629.2 L261.8,628.6 L262,628.5 L262.3,629.1 L262.5,630.3 L262.8,632.2 L263,634.8 L263.3,638 L263.5,641.5 L263.7,645.2 L264,648.8 L264.2,652.1 L264.5,654.8 L264.7,656.6 L265,657.5 L265.2,657.2 L265.5,656 L265.7,653.9 L266,651 L266.2,647.5 L266.5,643.6 L266.7,639.5 L267,635.5 L267.2,631.7 L267.5,628.5 L267.7,625.9 L268,624.2 L268.2,623.4 L268.5,623.5 L268.7,624.7 L269,626.7 L269.2,629.5 L269.5,633 L269.7,636.8 L270,640.9 L270.2,645 L270.5,648.7 L270.7,652.1 L270.9,654.7 L271.2,656.5 L271.4,657.4 L271.7,657.3 L271.9,656.1 L272.2,654 L272.4,651.1 L272.7,647.6 L272.9,643.9 L273.2,640.3 L273.4,636.9 L273.7,633.9 L273.9,631.5 L274.2,629.8 L274.4,628.8 L274.7,628.4 L274.9,628.7 L275.2,629.6 L275.4,631.1 L275.7,633 L275.9,635.3 L276.2,637.7 L276.4,640.3 L276.7,642.7 L276.9,645 L277.2,646.9 L277.4,648.3 L277.7,649.2 L277.9,649.6 L278.2,649.3 L278.4,648.5 L278.6,647.3 L278.9,645.7 L279.1,644 L279.4,642.2 L279.6,640.6 L279.9,639.2 L280.1,638.1 L280.4,637.3 L280.6,636.8 L280.9,636.6 L281.1,636.5 L281.4,636.7 L281.6,636.9 L281.9,637.4 L282.1,638 L282.4,638.7 L282.6,639.4 L282.9,640.2 L283.1,641 L283.4,641.7 L283.6,642.3 L283.9,642.8 L284.1,643.1 L284.4,643.2 L284.6,643.2 L284.9,643 L285.1,642.6 L285.4,642.1 L285.6,641.6" fill="none" stroke="#56B4E9" stroke-width="2.5" stroke-linejoin="round" stroke-linecap="butt"/><path d="M284.7,636.1 L294,640.4 L284.7,644.7Z" fill="#56B4E9"/>
<path d="M436.6,630 L436.4,629.9 L436.1,629.9 L435.9,629.9 L435.6,630 L435.4,630.2 L435.1,630.5 L434.9,630.9 L434.6,631.4 L434.4,631.9 L434.1,632.5 L433.9,633 L433.6,633.4 L433.4,633.7 L433.1,633.9 L432.9,633.9 L432.6,633.7 L432.4,633.3 L432.1,632.8 L431.9,632.2 L431.6,631.4 L431.4,630.7 L431.1,629.9 L430.9,629.1 L430.6,628.5 L430.4,627.9 L430.1,627.5 L429.9,627.3 L429.6,627.2 L429.4,627.3 L429.2,627.7 L428.9,628.3 L428.7,629.1 L428.4,630.4 L428.2,631.8 L427.9,633.5 L427.7,635.3 L427.4,637 L427.2,638.5 L426.9,639.6 L426.7,640.2 L426.4,640.2 L426.2,639.7 L425.9,638.6 L425.7,637 L425.4,635 L425.2,632.6 L424.9,630.1 L424.7,627.6 L424.4,625.2 L424.2,623 L423.9,621.2 L423.7,619.9 L423.4,619.3 L423.2,619.2 L422.9,619.8 L422.7,621 L422.4,622.9 L422.2,625.5 L421.9,628.7 L421.7,632.2 L421.5,635.9 L421.2,639.5 L421,642.8 L420.7,645.5 L420.5,647.3 L420.2,648.2 L420,647.9 L419.7,646.7 L419.5,644.6 L419.2,641.7 L419,638.2 L418.7,634.3 L418.5,630.2 L418.2,626.2 L418,622.4 L417.7,619.2 L417.5,616.6 L417.2,614.9 L417,614.1 L416.7,614.2 L416.5,615.4 L416.2,617.4 L416,620.2 L415.7,623.7 L415.5,627.5 L415.2,631.6 L415,635.7 L414.7,639.4 L414.5,642.8 L414.3,645.4 L414,647.2 L413.8,648.1 L413.5,648 L413.3,646.8 L413,644.7 L412.8,641.8 L412.5,638.3 L412.3,634.6 L412,631 L411.8,627.6 L411.5,624.6 L411.3,622.2 L411,620.5 L410.8,619.5 L410.5,619.1 L410.3,619.4 L410,620.3 L409.8,621.8 L409.5,623.7 L409.3,626 L409,628.4 L408.8,631 L408.5,633.4 L408.3,635.7 L408,637.6 L407.8,639 L407.5,639.9 L407.3,640.3 L407,640 L406.8,639.2 L406.6,638 L406.3,636.4 L406.1,634.7 L405.8,632.9 L405.6,631.3 L405.3,629.9 L405.1,628.8 L404.8,628 L404.6,627.5 L404.3,627.3 L404.1,627.2 L403.8,627.4 L403.6,627.6 L403.3,628.1 L403.1,628.7 L402.8,629.4 L402.6,630.1 L402.3,630.9 L402.1,631.7 L401.8,632.4 L401.6,633 L401.3,633.5 L401.1,633.8 L400.8,633.9 L400.6,633.9 L400.3,633.7 L400.1,633.3 L399.8,632.8 L399.6,632.3" fill="none" stroke="#56B4E9" stroke-width="2.5" stroke-linejoin="round" stroke-linecap="butt"/><path d="M400.5,626.8 L391.2,631.1 L400.5,635.4Z" fill="#56B4E9"/>
<path d="M362.3,675.4 L362.5,675.3 L362.8,675.3 L363,675.3 L363.3,675.4 L363.5,675.6 L363.8,675.9 L364,676.3 L364.3,676.8 L364.5,677.3 L364.8,677.9 L365,678.4 L365.3,678.8 L365.5,679.1 L365.8,679.3 L366,679.3 L366.3,679.1 L366.5,678.7 L366.8,678.2 L367,677.6 L367.3,676.8 L367.5,676.1 L367.8,675.3 L368,674.5 L368.3,673.9 L368.5,673.3 L368.8,672.9 L369,672.7 L369.3,672.6 L369.5,672.7 L369.7,673.1 L370,673.7 L370.2,674.5 L370.5,675.8 L370.7,677.2 L371,678.9 L371.2,680.7 L371.5,682.4 L371.7,683.9 L372,685 L372.2,685.6 L372.5,685.6 L372.7,685.1 L373,684 L373.2,682.4 L373.5,680.4 L373.7,678 L374,675.5 L374.2,673 L374.5,670.6 L374.7,668.4 L375,666.6 L375.2,665.3 L375.5,664.7 L375.7,664.6 L376,665.2 L376.2,666.4 L376.5,668.3 L376.7,670.9 L377,674.1 L377.2,677.6 L377.4,681.3 L377.7,684.9 L377.9,688.2 L378.2,690.9 L378.4,692.7 L378.7,693.6 L378.9,693.3 L379.2,692.1 L379.4,690 L379.7,687.1 L379.9,683.6 L380.2,679.7 L380.4,675.6 L380.7,671.6 L380.9,667.8 L381.2,664.6 L381.4,662 L381.7,660.3 L381.9,659.5 L382.2,659.6 L382.4,660.8 L382.7,662.8 L382.9,665.6 L383.2,669.1 L383.4,672.9 L383.7,677 L383.9,681.1 L384.2,684.8 L384.4,688.2 L384.6,690.8 L384.9,692.6 L385.1,693.5 L385.4,693.4 L385.6,692.2 L385.9,690.1 L386.1,687.2 L386.4,683.7 L386.6,680 L386.9,676.4 L387.1,673 L387.4,670 L387.6,667.6 L387.9,665.9 L388.1,664.9 L388.4,664.5 L388.6,664.8 L388.9,665.7 L389.1,667.2 L389.4,669.1 L389.6,671.4 L389.9,673.8 L390.1,676.4 L390.4,678.8 L390.6,681.1 L390.9,683 L391.1,684.4 L391.4,685.3 L391.6,685.7 L391.9,685.4 L392.1,684.6 L392.3,683.4 L392.6,681.8 L392.8,680.1 L393.1,678.3 L393.3,676.7 L393.6,675.3 L393.8,674.2 L394.1,673.4 L394.3,672.9 L394.6,672.7 L394.8,672.6 L395.1,672.8 L395.3,673 L395.6,673.5 L395.8,674.1 L396.1,674.8 L396.3,675.5 L396.6,676.3 L396.8,677.1 L397.1,677.8 L397.3,678.4 L397.6,678.9 L397.8,679.2 L398.1,679.3 L398.3,679.3 L398.6,679.1 L398.8,678.7 L399.1,678.2 L399.3,677.7" fill="none" stroke="#56B4E9" stroke-width="2.5" stroke-linejoin="round" stroke-linecap="butt"/><path d="M398.4,672.2 L407.7,676.5 L398.4,680.8Z" fill="#56B4E9"/>
<path d="M535.3,693.4 L535.1,693.3 L534.8,693.3 L534.6,693.3 L534.3,693.4 L534.1,693.6 L533.8,693.9 L533.6,694.3 L533.3,694.8 L533.1,695.3 L532.8,695.9 L532.6,696.4 L532.3,696.8 L532.1,697.1 L531.8,697.3 L531.6,697.3 L531.3,697.1 L531.1,696.7 L530.8,696.2 L530.6,695.6 L530.3,694.8 L530.1,694.1 L529.8,693.3 L529.6,692.5 L529.3,691.9 L529.1,691.3 L528.8,690.9 L528.6,690.7 L528.3,690.6 L528.1,690.7 L527.9,691.1 L527.6,691.7 L527.4,692.5 L527.1,693.8 L526.9,695.2 L526.6,696.9 L526.4,698.7 L526.1,700.4 L525.9,701.9 L525.6,703 L525.4,703.6 L525.1,703.6 L524.9,703.1 L524.6,702 L524.4,700.4 L524.1,698.4 L523.9,696 L523.6,693.5 L523.4,691 L523.1,688.6 L522.9,686.4 L522.6,684.6 L522.4,683.3 L522.1,682.7 L521.9,682.6 L521.6,683.2 L521.4,684.4 L521.1,686.3 L520.9,688.9 L520.6,692.1 L520.4,695.6 L520.2,699.3 L519.9,702.9 L519.7,706.2 L519.4,708.9 L519.2,710.7 L518.9,711.6 L518.7,711.3 L518.4,710.1 L518.2,708 L517.9,705.1 L517.7,701.6 L517.4,697.7 L517.2,693.6 L516.9,689.6 L516.7,685.8 L516.4,682.6 L516.2,680 L515.9,678.3 L515.7,677.5 L515.4,677.6 L515.2,678.8 L514.9,680.8 L514.7,683.6 L514.4,687.1 L514.2,690.9 L513.9,695 L513.7,699.1 L513.4,702.8 L513.2,706.2 L513,708.8 L512.7,710.6 L512.5,711.5 L512.2,711.4 L512,710.2 L511.7,708.1 L511.5,705.2 L511.2,701.7 L511,698 L510.7,694.4 L510.5,691 L510.2,688 L510,685.6 L509.7,683.9 L509.5,682.9 L509.2,682.5 L509,682.8 L508.7,683.7 L508.5,685.2 L508.2,687.1 L508,689.4 L507.7,691.8 L507.5,694.4 L507.2,696.8 L507,699.1 L506.7,701 L506.5,702.4 L506.2,703.3 L506,703.7 L505.7,703.4 L505.5,702.6 L505.3,701.4 L505,699.8 L504.8,698.1 L504.5,696.3 L504.3,694.7 L504,693.3 L503.8,692.2 L503.5,691.4 L503.3,690.9 L503,690.7 L502.8,690.6 L502.5,690.8 L502.3,691 L502,691.5 L501.8,692.1 L501.5,692.8 L501.3,693.5 L501,694.3 L500.8,695.1 L500.5,695.8 L500.3,696.4 L500,696.9 L499.8,697.2 L499.5,697.3 L499.3,697.3 L499,697.1 L498.8,696.7 L498.5,696.2 L498.3,695.7" fill="none" stroke="#56B4E9" stroke-width="2.5" stroke-linejoin="round" stroke-linecap="butt"/><path d="M499.2,690.2 L489.9,694.5 L499.2,698.8Z" fill="#56B4E9"/>
<path d="M416.5,748 L416.3,747.9 L416,747.9 L415.8,747.9 L415.5,748 L415.3,748.2 L415,748.5 L414.8,748.9 L414.5,749.4 L414.3,749.9 L414,750.5 L413.8,751 L413.5,751.4 L413.3,751.7 L413,751.9 L412.8,751.9 L412.5,751.7 L412.3,751.3 L412,750.8 L411.8,750.2 L411.5,749.4 L411.3,748.7 L411,747.9 L410.8,747.1 L410.5,746.5 L410.3,745.9 L410,745.5 L409.8,745.3 L409.5,745.2 L409.3,745.3 L409.1,745.7 L408.8,746.3 L408.6,747.1 L408.3,748.4 L408.1,749.8 L407.8,751.5 L407.6,753.3 L407.3,755 L407.1,756.5 L406.8,757.6 L406.6,758.2 L406.3,758.2 L406.1,757.7 L405.8,756.6 L405.6,755 L405.3,753 L405.1,750.6 L404.8,748.1 L404.6,745.6 L404.3,743.2 L404.1,741 L403.8,739.2 L403.6,737.9 L403.3,737.3 L403.1,737.2 L402.8,737.8 L402.6,739 L402.3,740.9 L402.1,743.5 L401.8,746.7 L401.6,750.2 L401.4,753.9 L401.1,757.5 L400.9,760.8 L400.6,763.5 L400.4,765.3 L400.1,766.2 L399.9,765.9 L399.6,764.7 L399.4,762.6 L399.1,759.7 L398.9,756.2 L398.6,752.3 L398.4,748.2 L398.1,744.2 L397.9,740.4 L397.6,737.2 L397.4,734.6 L397.1,732.9 L396.9,732.1 L396.6,732.2 L396.4,733.4 L396.1,735.4 L395.9,738.2 L395.6,741.7 L395.4,745.5 L395.1,749.6 L394.9,753.7 L394.6,757.4 L394.4,760.8 L394.2,763.4 L393.9,765.2 L393.7,766.1 L393.4,766 L393.2,764.8 L392.9,762.7 L392.7,759.8 L392.4,756.3 L392.2,752.6 L391.9,749 L391.7,745.6 L391.4,742.6 L391.2,740.2 L390.9,738.5 L390.7,737.5 L390.4,737.1 L390.2,737.4 L389.9,738.3 L389.7,739.8 L389.4,741.7 L389.2,744 L388.9,746.4 L388.7,749 L388.4,751.4 L388.2,753.7 L387.9,755.6 L387.7,757 L387.4,757.9 L387.2,758.3 L386.9,758 L386.7,757.2 L386.5,756 L386.2,754.4 L386,752.7 L385.7,750.9 L385.5,749.3 L385.2,747.9 L385,746.8 L384.7,746 L384.5,745.5 L384.2,745.3 L384,745.2 L383.7,745.4 L383.5,745.6 L383.2,746.1 L383,746.7 L382.7,747.4 L382.5,748.1 L382.2,748.9 L382,749.7 L381.7,750.4 L381.5,751 L381.2,751.5 L381,751.8 L380.7,751.9 L380.5,751.9 L380.2,751.7 L380,751.3 L379.7,750.8 L379.5,750.3" fill="none" stroke="#56B4E9" stroke-width="2.5" stroke-linejoin="round" stroke-linecap="butt"/><path d="M380.4,744.8 L371.1,749.1 L380.4,753.4Z" fill="#56B4E9"/>
<path d="M317.8,811 L318,810.9 L318.3,810.9 L318.5,810.9 L318.8,811 L319,811.2 L319.3,811.5 L319.5,811.9 L319.8,812.4 L320,812.9 L320.3,813.5 L320.5,814 L320.8,814.4 L321,814.7 L321.3,814.9 L321.5,814.9 L321.8,814.7 L322,814.3 L322.3,813.8 L322.5,813.2 L322.8,812.4 L323,811.7 L323.3,810.9 L323.5,810.1 L323.8,809.5 L324,808.9 L324.3,808.5 L324.5,808.3 L324.8,808.2 L325,808.3 L325.2,808.7 L325.5,809.3 L325.7,810.1 L326,811.4 L326.2,812.8 L326.5,814.5 L326.7,816.3 L327,818 L327.2,819.5 L327.5,820.6 L327.7,821.2 L328,821.2 L328.2,820.7 L328.5,819.6 L328.7,818 L329,816 L329.2,813.6 L329.5,811.1 L329.7,808.6 L330,806.2 L330.2,804 L330.5,802.2 L330.7,800.9 L331,800.3 L331.2,800.2 L331.5,800.8 L331.7,802 L332,803.9 L332.2,806.5 L332.5,809.7 L332.7,813.2 L332.9,816.9 L333.2,820.5 L333.4,823.8 L333.7,826.5 L333.9,828.3 L334.2,829.2 L334.4,828.9 L334.7,827.7 L334.9,825.6 L335.2,822.7 L335.4,819.2 L335.7,815.3 L335.9,811.2 L336.2,807.2 L336.4,803.4 L336.7,800.2 L336.9,797.6 L337.2,795.9 L337.4,795.1 L337.7,795.2 L337.9,796.4 L338.2,798.4 L338.4,801.2 L338.7,804.7 L338.9,808.5 L339.2,812.6 L339.4,816.7 L339.7,820.4 L339.9,823.8 L340.1,826.4 L340.4,828.2 L340.6,829.1 L340.9,829 L341.1,827.8 L341.4,825.7 L341.6,822.8 L341.9,819.3 L342.1,815.6 L342.4,812 L342.6,808.6 L342.9,805.6 L343.1,803.2 L343.4,801.5 L343.6,800.5 L343.9,800.1 L344.1,800.4 L344.4,801.3 L344.6,802.8 L344.9,804.7 L345.1,807 L345.4,809.4 L345.6,812 L345.9,814.4 L346.1,816.7 L346.4,818.6 L346.6,820 L346.9,820.9 L347.1,821.3 L347.4,821 L347.6,820.2 L347.8,819 L348.1,817.4 L348.3,815.7 L348.6,813.9 L348.8,812.3 L349.1,810.9 L349.3,809.8 L349.6,809 L349.8,808.5 L350.1,808.3 L350.3,808.2 L350.6,808.4 L350.8,808.6 L351.1,809.1 L351.3,809.7 L351.6,810.4 L351.8,811.1 L352.1,811.9 L352.3,812.7 L352.6,813.4 L352.8,814 L353.1,814.5 L353.3,814.8 L353.6,814.9 L353.8,814.9 L354.1,814.7 L354.3,814.3 L354.6,813.8 L354.8,813.3" fill="none" stroke="#D55E00" stroke-opacity="0.4" stroke-width="8.2" stroke-linejoin="round" stroke-linecap="butt"/>
<path d="M317.8,811 L318,810.9 L318.3,810.9 L318.5,810.9 L318.8,811 L319,811.2 L319.3,811.5 L319.5,811.9 L319.8,812.4 L320,812.9 L320.3,813.5 L320.5,814 L320.8,814.4 L321,814.7 L321.3,814.9 L321.5,814.9 L321.8,814.7 L322,814.3 L322.3,813.8 L322.5,813.2 L322.8,812.4 L323,811.7 L323.3,810.9 L323.5,810.1 L323.8,809.5 L324,808.9 L324.3,808.5 L324.5,808.3 L324.8,808.2 L325,808.3 L325.2,808.7 L325.5,809.3 L325.7,810.1 L326,811.4 L326.2,812.8 L326.5,814.5 L326.7,816.3 L327,818 L327.2,819.5 L327.5,820.6 L327.7,821.2 L328,821.2 L328.2,820.7 L328.5,819.6 L328.7,818 L329,816 L329.2,813.6 L329.5,811.1 L329.7,808.6 L330,806.2 L330.2,804 L330.5,802.2 L330.7,800.9 L331,800.3 L331.2,800.2 L331.5,800.8 L331.7,802 L332,803.9 L332.2,806.5 L332.5,809.7 L332.7,813.2 L332.9,816.9 L333.2,820.5 L333.4,823.8 L333.7,826.5 L333.9,828.3 L334.2,829.2 L334.4,828.9 L334.7,827.7 L334.9,825.6 L335.2,822.7 L335.4,819.2 L335.7,815.3 L335.9,811.2 L336.2,807.2 L336.4,803.4 L336.7,800.2 L336.9,797.6 L337.2,795.9 L337.4,795.1 L337.7,795.2 L337.9,796.4 L338.2,798.4 L338.4,801.2 L338.7,804.7 L338.9,808.5 L339.2,812.6 L339.4,816.7 L339.7,820.4 L339.9,823.8 L340.1,826.4 L340.4,828.2 L340.6,829.1 L340.9,829 L341.1,827.8 L341.4,825.7 L341.6,822.8 L341.9,819.3 L342.1,815.6 L342.4,812 L342.6,808.6 L342.9,805.6 L343.1,803.2 L343.4,801.5 L343.6,800.5 L343.9,800.1 L344.1,800.4 L344.4,801.3 L344.6,802.8 L344.9,804.7 L345.1,807 L345.4,809.4 L345.6,812 L345.9,814.4 L346.1,816.7 L346.4,818.6 L346.6,820 L346.9,820.9 L347.1,821.3 L347.4,821 L347.6,820.2 L347.8,819 L348.1,817.4 L348.3,815.7 L348.6,813.9 L348.8,812.3 L349.1,810.9 L349.3,809.8 L349.6,809 L349.8,808.5 L350.1,808.3 L350.3,808.2 L350.6,808.4 L350.8,808.6 L351.1,809.1 L351.3,809.7 L351.6,810.4 L351.8,811.1 L352.1,811.9 L352.3,812.7 L352.6,813.4 L352.8,814 L353.1,814.5 L353.3,814.8 L353.6,814.9 L353.8,814.9 L354.1,814.7 L354.3,814.3 L354.6,813.8 L354.8,813.3" fill="none" stroke="#56B4E9" stroke-width="2.5" stroke-linejoin="round" stroke-linecap="butt"/><path d="M353.9,807.8 L363.2,812.1 L353.9,816.4Z" fill="#56B4E9"/>
<path d="M466.2,833 L466,832.9 L465.7,832.9 L465.5,832.9 L465.2,833 L465,833.2 L464.7,833.5 L464.5,833.9 L464.2,834.4 L464,834.9 L463.7,835.5 L463.5,836 L463.2,836.4 L463,836.7 L462.7,836.9 L462.5,836.9 L462.2,836.7 L462,836.3 L461.7,835.8 L461.5,835.2 L461.2,834.4 L461,833.7 L460.7,832.9 L460.5,832.1 L460.2,831.5 L460,830.9 L459.7,830.5 L459.5,830.3 L459.2,830.2 L459,830.3 L458.8,830.7 L458.5,831.3 L458.3,832.1 L458,833.4 L457.8,834.8 L457.5,836.5 L457.3,838.3 L457,840 L456.8,841.5 L456.5,842.6 L456.3,843.2 L456,843.2 L455.8,842.7 L455.5,841.6 L455.3,840 L455,838 L454.8,835.6 L454.5,833.1 L454.3,830.6 L454,828.2 L453.8,826 L453.5,824.2 L453.3,822.9 L453,822.3 L452.8,822.2 L452.5,822.8 L452.3,824 L452,825.9 L451.8,828.5 L451.5,831.7 L451.3,835.2 L451.1,838.9 L450.8,842.5 L450.6,845.8 L450.3,848.5 L450.1,850.3 L449.8,851.2 L449.6,850.9 L449.3,849.7 L449.1,847.6 L448.8,844.7 L448.6,841.2 L448.3,837.3 L448.1,833.2 L447.8,829.2 L447.6,825.4 L447.3,822.2 L447.1,819.6 L446.8,817.9 L446.6,817.1 L446.3,817.2 L446.1,818.4 L445.8,820.4 L445.6,823.2 L445.3,826.7 L445.1,830.5 L444.8,834.6 L444.6,838.7 L444.3,842.4 L444.1,845.8 L443.9,848.4 L443.6,850.2 L443.4,851.1 L443.1,851 L442.9,849.8 L442.6,847.7 L442.4,844.8 L442.1,841.3 L441.9,837.6 L441.6,834 L441.4,830.6 L441.1,827.6 L440.9,825.2 L440.6,823.5 L440.4,822.5 L440.1,822.1 L439.9,822.4 L439.6,823.3 L439.4,824.8 L439.1,826.7 L438.9,829 L438.6,831.4 L438.4,834 L438.1,836.4 L437.9,838.7 L437.6,840.6 L437.4,842 L437.1,842.9 L436.9,843.3 L436.6,843 L436.4,842.2 L436.2,841 L435.9,839.4 L435.7,837.7 L435.4,835.9 L435.2,834.3 L434.9,832.9 L434.7,831.8 L434.4,831 L434.2,830.5 L433.9,830.3 L433.7,830.2 L433.4,830.4 L433.2,830.6 L432.9,831.1 L432.7,831.7 L432.4,832.4 L432.2,833.1 L431.9,833.9 L431.7,834.7 L431.4,835.4 L431.2,836 L430.9,836.5 L430.7,836.8 L430.4,836.9 L430.2,836.9 L429.9,836.7 L429.7,836.3 L429.4,835.8 L429.2,835.3" fill="none" stroke="#D55E00" stroke-opacity="0.4" stroke-width="8.2" stroke-linejoin="round" stroke-linecap="butt"/>
<path d="M466.2,833 L466,832.9 L465.7,832.9 L465.5,832.9 L465.2,833 L465,833.2 L464.7,833.5 L464.5,833.9 L464.2,834.4 L464,834.9 L463.7,835.5 L463.5,836 L463.2,836.4 L463,836.7 L462.7,836.9 L462.5,836.9 L462.2,836.7 L462,836.3 L461.7,835.8 L461.5,835.2 L461.2,834.4 L461,833.7 L460.7,832.9 L460.5,832.1 L460.2,831.5 L460,830.9 L459.7,830.5 L459.5,830.3 L459.2,830.2 L459,830.3 L458.8,830.7 L458.5,831.3 L458.3,832.1 L458,833.4 L457.8,834.8 L457.5,836.5 L457.3,838.3 L457,840 L456.8,841.5 L456.5,842.6 L456.3,843.2 L456,843.2 L455.8,842.7 L455.5,841.6 L455.3,840 L455,838 L454.8,835.6 L454.5,833.1 L454.3,830.6 L454,828.2 L453.8,826 L453.5,824.2 L453.3,822.9 L453,822.3 L452.8,822.2 L452.5,822.8 L452.3,824 L452,825.9 L451.8,828.5 L451.5,831.7 L451.3,835.2 L451.1,838.9 L450.8,842.5 L450.6,845.8 L450.3,848.5 L450.1,850.3 L449.8,851.2 L449.6,850.9 L449.3,849.7 L449.1,847.6 L448.8,844.7 L448.6,841.2 L448.3,837.3 L448.1,833.2 L447.8,829.2 L447.6,825.4 L447.3,822.2 L447.1,819.6 L446.8,817.9 L446.6,817.1 L446.3,817.2 L446.1,818.4 L445.8,820.4 L445.6,823.2 L445.3,826.7 L445.1,830.5 L444.8,834.6 L444.6,838.7 L444.3,842.4 L444.1,845.8 L443.9,848.4 L443.6,850.2 L443.4,851.1 L443.1,851 L442.9,849.8 L442.6,847.7 L442.4,844.8 L442.1,841.3 L441.9,837.6 L441.6,834 L441.4,830.6 L441.1,827.6 L440.9,825.2 L440.6,823.5 L440.4,822.5 L440.1,822.1 L439.9,822.4 L439.6,823.3 L439.4,824.8 L439.1,826.7 L438.9,829 L438.6,831.4 L438.4,834 L438.1,836.4 L437.9,838.7 L437.6,840.6 L437.4,842 L437.1,842.9 L436.9,843.3 L436.6,843 L436.4,842.2 L436.2,841 L435.9,839.4 L435.7,837.7 L435.4,835.9 L435.2,834.3 L434.9,832.9 L434.7,831.8 L434.4,831 L434.2,830.5 L433.9,830.3 L433.7,830.2 L433.4,830.4 L433.2,830.6 L432.9,831.1 L432.7,831.7 L432.4,832.4 L432.2,833.1 L431.9,833.9 L431.7,834.7 L431.4,835.4 L431.2,836 L430.9,836.5 L430.7,836.8 L430.4,836.9 L430.2,836.9 L429.9,836.7 L429.7,836.3 L429.4,835.8 L429.2,835.3" fill="none" stroke="#56B4E9" stroke-width="2.5" stroke-linejoin="round" stroke-linecap="butt"/><path d="M430.1,829.8 L420.8,834.1 L430.1,838.4Z" fill="#56B4E9"/>
<path d="M416.5,905 L416.3,904.9 L416,904.9 L415.8,904.9 L415.5,905 L415.3,905.2 L415,905.5 L414.8,905.9 L414.5,906.4 L414.3,906.9 L414,907.5 L413.8,908 L413.5,908.4 L413.3,908.7 L413,908.9 L412.8,908.9 L412.5,908.7 L412.3,908.3 L412,907.8 L411.8,907.2 L411.5,906.4 L411.3,905.7 L411,904.9 L410.8,904.1 L410.5,903.5 L410.3,902.9 L410,902.5 L409.8,902.3 L409.5,902.2 L409.3,902.3 L409.1,902.7 L408.8,903.3 L408.6,904.1 L408.3,905.4 L408.1,906.8 L407.8,908.5 L407.6,910.3 L407.3,912 L407.1,913.5 L406.8,914.6 L406.6,915.2 L406.3,915.2 L406.1,914.7 L405.8,913.6 L405.6,912 L405.3,910 L405.1,907.6 L404.8,905.1 L404.6,902.6 L404.3,900.2 L404.1,898 L403.8,896.2 L403.6,894.9 L403.3,894.3 L403.1,894.2 L402.8,894.8 L402.6,896 L402.3,897.9 L402.1,900.5 L401.8,903.7 L401.6,907.2 L401.4,910.9 L401.1,914.5 L400.9,917.8 L400.6,920.5 L400.4,922.3 L400.1,923.2 L399.9,922.9 L399.6,921.7 L399.4,919.6 L399.1,916.7 L398.9,913.2 L398.6,909.3 L398.4,905.2 L398.1,901.2 L397.9,897.4 L397.6,894.2 L397.4,891.6 L397.1,889.9 L396.9,889.1 L396.6,889.2 L396.4,890.4 L396.1,892.4 L395.9,895.2 L395.6,898.7 L395.4,902.5 L395.1,906.6 L394.9,910.7 L394.6,914.4 L394.4,917.8 L394.2,920.4 L393.9,922.2 L393.7,923.1 L393.4,923 L393.2,921.8 L392.9,919.7 L392.7,916.8 L392.4,913.3 L392.2,909.6 L391.9,906 L391.7,902.6 L391.4,899.6 L391.2,897.2 L390.9,895.5 L390.7,894.5 L390.4,894.1 L390.2,894.4 L389.9,895.3 L389.7,896.8 L389.4,898.7 L389.2,901 L388.9,903.4 L388.7,906 L388.4,908.4 L388.2,910.7 L387.9,912.6 L387.7,914 L387.4,914.9 L387.2,915.3 L386.9,915 L386.7,914.2 L386.5,913 L386.2,911.4 L386,909.7 L385.7,907.9 L385.5,906.3 L385.2,904.9 L385,903.8 L384.7,903 L384.5,902.5 L384.2,902.3 L384,902.2 L383.7,902.4 L383.5,902.6 L383.2,903.1 L383,903.7 L382.7,904.4 L382.5,905.1 L382.2,905.9 L382,906.7 L381.7,907.4 L381.5,908 L381.2,908.5 L381,908.8 L380.7,908.9 L380.5,908.9 L380.2,908.7 L380,908.3 L379.7,907.8 L379.5,907.3" fill="none" stroke="#D55E00" stroke-opacity="0.4" stroke-width="8.2" stroke-linejoin="round" stroke-linecap="butt"/>
<path d="M416.5,905 L416.3,904.9 L416,904.9 L415.8,904.9 L415.5,905 L415.3,905.2 L415,905.5 L414.8,905.9 L414.5,906.4 L414.3,906.9 L414,907.5 L413.8,908 L413.5,908.4 L413.3,908.7 L413,908.9 L412.8,908.9 L412.5,908.7 L412.3,908.3 L412,907.8 L411.8,907.2 L411.5,906.4 L411.3,905.7 L411,904.9 L410.8,904.1 L410.5,903.5 L410.3,902.9 L410,902.5 L409.8,902.3 L409.5,902.2 L409.3,902.3 L409.1,902.7 L408.8,903.3 L408.6,904.1 L408.3,905.4 L408.1,906.8 L407.8,908.5 L407.6,910.3 L407.3,912 L407.1,913.5 L406.8,914.6 L406.6,915.2 L406.3,915.2 L406.1,914.7 L405.8,913.6 L405.6,912 L405.3,910 L405.1,907.6 L404.8,905.1 L404.6,902.6 L404.3,900.2 L404.1,898 L403.8,896.2 L403.6,894.9 L403.3,894.3 L403.1,894.2 L402.8,894.8 L402.6,896 L402.3,897.9 L402.1,900.5 L401.8,903.7 L401.6,907.2 L401.4,910.9 L401.1,914.5 L400.9,917.8 L400.6,920.5 L400.4,922.3 L400.1,923.2 L399.9,922.9 L399.6,921.7 L399.4,919.6 L399.1,916.7 L398.9,913.2 L398.6,909.3 L398.4,905.2 L398.1,901.2 L397.9,897.4 L397.6,894.2 L397.4,891.6 L397.1,889.9 L396.9,889.1 L396.6,889.2 L396.4,890.4 L396.1,892.4 L395.9,895.2 L395.6,898.7 L395.4,902.5 L395.1,906.6 L394.9,910.7 L394.6,914.4 L394.4,917.8 L394.2,920.4 L393.9,922.2 L393.7,923.1 L393.4,923 L393.2,921.8 L392.9,919.7 L392.7,916.8 L392.4,913.3 L392.2,909.6 L391.9,906 L391.7,902.6 L391.4,899.6 L391.2,897.2 L390.9,895.5 L390.7,894.5 L390.4,894.1 L390.2,894.4 L389.9,895.3 L389.7,896.8 L389.4,898.7 L389.2,901 L388.9,903.4 L388.7,906 L388.4,908.4 L388.2,910.7 L387.9,912.6 L387.7,914 L387.4,914.9 L387.2,915.3 L386.9,915 L386.7,914.2 L386.5,913 L386.2,911.4 L386,909.7 L385.7,907.9 L385.5,906.3 L385.2,904.9 L385,903.8 L384.7,903 L384.5,902.5 L384.2,902.3 L384,902.2 L383.7,902.4 L383.5,902.6 L383.2,903.1 L383,903.7 L382.7,904.4 L382.5,905.1 L382.2,905.9 L382,906.7 L381.7,907.4 L381.5,908 L381.2,908.5 L381,908.8 L380.7,908.9 L380.5,908.9 L380.2,908.7 L380,908.3 L379.7,907.8 L379.5,907.3" fill="none" stroke="#56B4E9" stroke-width="2.5" stroke-linejoin="round" stroke-linecap="butt"/><path d="M380.4,901.8 L371.1,906.1 L380.4,910.4Z" fill="#56B4E9"/>
<path d="M258.6,929 L258.8,928.9 L259.1,928.9 L259.3,928.9 L259.6,929 L259.8,929.2 L260.1,929.5 L260.3,929.9 L260.6,930.4 L260.8,930.9 L261.1,931.5 L261.3,932 L261.6,932.4 L261.8,932.7 L262.1,932.9 L262.3,932.9 L262.6,932.7 L262.8,932.3 L263.1,931.8 L263.3,931.2 L263.6,930.4 L263.8,929.7 L264.1,928.9 L264.3,928.1 L264.6,927.5 L264.8,926.9 L265.1,926.5 L265.3,926.3 L265.6,926.2 L265.8,926.3 L266,926.7 L266.3,927.3 L266.5,928.1 L266.8,929.4 L267,930.8 L267.3,932.5 L267.5,934.3 L267.8,936 L268,937.5 L268.3,938.6 L268.5,939.2 L268.8,939.2 L269,938.7 L269.3,937.6 L269.5,936 L269.8,934 L270,931.6 L270.3,929.1 L270.5,926.6 L270.8,924.2 L271,922 L271.3,920.2 L271.5,918.9 L271.8,918.3 L272,918.2 L272.3,918.8 L272.5,920 L272.8,921.9 L273,924.5 L273.3,927.7 L273.5,931.2 L273.7,934.9 L274,938.5 L274.2,941.8 L274.5,944.5 L274.7,946.3 L275,947.2 L275.2,946.9 L275.5,945.7 L275.7,943.6 L276,940.7 L276.2,937.2 L276.5,933.3 L276.7,929.2 L277,925.2 L277.2,921.4 L277.5,918.2 L277.7,915.6 L278,913.9 L278.2,913.1 L278.5,913.2 L278.7,914.4 L279,916.4 L279.2,919.2 L279.5,922.7 L279.7,926.5 L280,930.6 L280.2,934.7 L280.5,938.4 L280.7,941.8 L280.9,944.4 L281.2,946.2 L281.4,947.1 L281.7,947 L281.9,945.8 L282.2,943.7 L282.4,940.8 L282.7,937.3 L282.9,933.6 L283.2,930 L283.4,926.6 L283.7,923.6 L283.9,921.2 L284.2,919.5 L284.4,918.5 L284.7,918.1 L284.9,918.4 L285.2,919.3 L285.4,920.8 L285.7,922.7 L285.9,925 L286.2,927.4 L286.4,930 L286.7,932.4 L286.9,934.7 L287.2,936.6 L287.4,938 L287.7,938.9 L287.9,939.3 L288.2,939 L288.4,938.2 L288.6,937 L288.9,935.4 L289.1,933.7 L289.4,931.9 L289.6,930.3 L289.9,928.9 L290.1,927.8 L290.4,927 L290.6,926.5 L290.9,926.3 L291.1,926.2 L291.4,926.4 L291.6,926.6 L291.9,927.1 L292.1,927.7 L292.4,928.4 L292.6,929.1 L292.9,929.9 L293.1,930.7 L293.4,931.4 L293.6,932 L293.9,932.5 L294.1,932.8 L294.4,932.9 L294.6,932.9 L294.9,932.7 L295.1,932.3 L295.4,931.8 L295.6,931.3" fill="none" stroke="#D55E00" stroke-opacity="0.4" stroke-width="8.2" stroke-linejoin="round" stroke-linecap="butt"/>
<path d="M258.6,929 L258.8,928.9 L259.1,928.9 L259.3,928.9 L259.6,929 L259.8,929.2 L260.1,929.5 L260.3,929.9 L260.6,930.4 L260.8,930.9 L261.1,931.5 L261.3,932 L261.6,932.4 L261.8,932.7 L262.1,932.9 L262.3,932.9 L262.6,932.7 L262.8,932.3 L263.1,931.8 L263.3,931.2 L263.6,930.4 L263.8,929.7 L264.1,928.9 L264.3,928.1 L264.6,927.5 L264.8,926.9 L265.1,926.5 L265.3,926.3 L265.6,926.2 L265.8,926.3 L266,926.7 L266.3,927.3 L266.5,928.1 L266.8,929.4 L267,930.8 L267.3,932.5 L267.5,934.3 L267.8,936 L268,937.5 L268.3,938.6 L268.5,939.2 L268.8,939.2 L269,938.7 L269.3,937.6 L269.5,936 L269.8,934 L270,931.6 L270.3,929.1 L270.5,926.6 L270.8,924.2 L271,922 L271.3,920.2 L271.5,918.9 L271.8,918.3 L272,918.2 L272.3,918.8 L272.5,920 L272.8,921.9 L273,924.5 L273.3,927.7 L273.5,931.2 L273.7,934.9 L274,938.5 L274.2,941.8 L274.5,944.5 L274.7,946.3 L275,947.2 L275.2,946.9 L275.5,945.7 L275.7,943.6 L276,940.7 L276.2,937.2 L276.5,933.3 L276.7,929.2 L277,925.2 L277.2,921.4 L277.5,918.2 L277.7,915.6 L278,913.9 L278.2,913.1 L278.5,913.2 L278.7,914.4 L279,916.4 L279.2,919.2 L279.5,922.7 L279.7,926.5 L280,930.6 L280.2,934.7 L280.5,938.4 L280.7,941.8 L280.9,944.4 L281.2,946.2 L281.4,947.1 L281.7,947 L281.9,945.8 L282.2,943.7 L282.4,940.8 L282.7,937.3 L282.9,933.6 L283.2,930 L283.4,926.6 L283.7,923.6 L283.9,921.2 L284.2,919.5 L284.4,918.5 L284.7,918.1 L284.9,918.4 L285.2,919.3 L285.4,920.8 L285.7,922.7 L285.9,925 L286.2,927.4 L286.4,930 L286.7,932.4 L286.9,934.7 L287.2,936.6 L287.4,938 L287.7,938.9 L287.9,939.3 L288.2,939 L288.4,938.2 L288.6,937 L288.9,935.4 L289.1,933.7 L289.4,931.9 L289.6,930.3 L289.9,928.9 L290.1,927.8 L290.4,927 L290.6,926.5 L290.9,926.3 L291.1,926.2 L291.4,926.4 L291.6,926.6 L291.9,927.1 L292.1,927.7 L292.4,928.4 L292.6,929.1 L292.9,929.9 L293.1,930.7 L293.4,931.4 L293.6,932 L293.9,932.5 L294.1,932.8 L294.4,932.9 L294.6,932.9 L294.9,932.7 L295.1,932.3 L295.4,931.8 L295.6,931.3" fill="none" stroke="#56B4E9" stroke-width="2.5" stroke-linejoin="round" stroke-linecap="butt"/><path d="M294.7,925.8 L304,930.1 L294.7,934.4Z" fill="#56B4E9"/>
<path d="M495.9,920 L496.1,919.9 L496.4,919.9 L496.6,919.9 L496.9,920 L497.1,920.2 L497.4,920.5 L497.6,920.9 L497.9,921.4 L498.1,921.9 L498.4,922.5 L498.6,923 L498.9,923.4 L499.1,923.7 L499.4,923.9 L499.6,923.9 L499.9,923.7 L500.1,923.3 L500.4,922.8 L500.6,922.2 L500.9,921.4 L501.1,920.7 L501.4,919.9 L501.6,919.1 L501.9,918.5 L502.1,917.9 L502.4,917.5 L502.6,917.3 L502.9,917.2 L503.1,917.3 L503.3,917.7 L503.6,918.3 L503.8,919.1 L504.1,920.4 L504.3,921.8 L504.6,923.5 L504.8,925.3 L505.1,927 L505.3,928.5 L505.6,929.6 L505.8,930.2 L506.1,930.2 L506.3,929.7 L506.6,928.6 L506.8,927 L507.1,925 L507.3,922.6 L507.6,920.1 L507.8,917.6 L508.1,915.2 L508.3,913 L508.6,911.2 L508.8,909.9 L509.1,909.3 L509.3,909.2 L509.6,909.8 L509.8,911 L510.1,912.9 L510.3,915.5 L510.6,918.7 L510.8,922.2 L511,925.9 L511.3,929.5 L511.5,932.8 L511.8,935.5 L512,937.3 L512.3,938.2 L512.5,937.9 L512.8,936.7 L513,934.6 L513.3,931.7 L513.5,928.2 L513.8,924.3 L514,920.2 L514.3,916.2 L514.5,912.4 L514.8,909.2 L515,906.6 L515.3,904.9 L515.5,904.1 L515.8,904.2 L516,905.4 L516.3,907.4 L516.5,910.2 L516.8,913.7 L517,917.5 L517.3,921.6 L517.5,925.7 L517.8,929.4 L518,932.8 L518.2,935.4 L518.5,937.2 L518.7,938.1 L519,938 L519.2,936.8 L519.5,934.7 L519.7,931.8 L520,928.3 L520.2,924.6 L520.5,921 L520.7,917.6 L521,914.6 L521.2,912.2 L521.5,910.5 L521.7,909.5 L522,909.1 L522.2,909.4 L522.5,910.3 L522.7,911.8 L523,913.7 L523.2,916 L523.5,918.4 L523.7,921 L524,923.4 L524.2,925.7 L524.5,927.6 L524.7,929 L525,929.9 L525.2,930.3 L525.5,930 L525.7,929.2 L525.9,928 L526.2,926.4 L526.4,924.7 L526.7,922.9 L526.9,921.3 L527.2,919.9 L527.4,918.8 L527.7,918 L527.9,917.5 L528.2,917.3 L528.4,917.2 L528.7,917.4 L528.9,917.6 L529.2,918.1 L529.4,918.7 L529.7,919.4 L529.9,920.1 L530.2,920.9 L530.4,921.7 L530.7,922.4 L530.9,923 L531.2,923.5 L531.4,923.8 L531.7,923.9 L531.9,923.9 L532.2,923.7 L532.4,923.3 L532.7,922.8 L532.9,922.3" fill="none" stroke="#D55E00" stroke-opacity="0.4" stroke-width="8.2" stroke-linejoin="round" stroke-linecap="butt"/>
<path d="M495.9,920 L496.1,919.9 L496.4,919.9 L496.6,919.9 L496.9,920 L497.1,920.2 L497.4,920.5 L497.6,920.9 L497.9,921.4 L498.1,921.9 L498.4,922.5 L498.6,923 L498.9,923.4 L499.1,923.7 L499.4,923.9 L499.6,923.9 L499.9,923.7 L500.1,923.3 L500.4,922.8 L500.6,922.2 L500.9,921.4 L501.1,920.7 L501.4,919.9 L501.6,919.1 L501.9,918.5 L502.1,917.9 L502.4,917.5 L502.6,917.3 L502.9,917.2 L503.1,917.3 L503.3,917.7 L503.6,918.3 L503.8,919.1 L504.1,920.4 L504.3,921.8 L504.6,923.5 L504.8,925.3 L505.1,927 L505.3,928.5 L505.6,929.6 L505.8,930.2 L506.1,930.2 L506.3,929.7 L506.6,928.6 L506.8,927 L507.1,925 L507.3,922.6 L507.6,920.1 L507.8,917.6 L508.1,915.2 L508.3,913 L508.6,911.2 L508.8,909.9 L509.1,909.3 L509.3,909.2 L509.6,909.8 L509.8,911 L510.1,912.9 L510.3,915.5 L510.6,918.7 L510.8,922.2 L511,925.9 L511.3,929.5 L511.5,932.8 L511.8,935.5 L512,937.3 L512.3,938.2 L512.5,937.9 L512.8,936.7 L513,934.6 L513.3,931.7 L513.5,928.2 L513.8,924.3 L514,920.2 L514.3,916.2 L514.5,912.4 L514.8,909.2 L515,906.6 L515.3,904.9 L515.5,904.1 L515.8,904.2 L516,905.4 L516.3,907.4 L516.5,910.2 L516.8,913.7 L517,917.5 L517.3,921.6 L517.5,925.7 L517.8,929.4 L518,932.8 L518.2,935.4 L518.5,937.2 L518.7,938.1 L519,938 L519.2,936.8 L519.5,934.7 L519.7,931.8 L520,928.3 L520.2,924.6 L520.5,921 L520.7,917.6 L521,914.6 L521.2,912.2 L521.5,910.5 L521.7,909.5 L522,909.1 L522.2,909.4 L522.5,910.3 L522.7,911.8 L523,913.7 L523.2,916 L523.5,918.4 L523.7,921 L524,923.4 L524.2,925.7 L524.5,927.6 L524.7,929 L525,929.9 L525.2,930.3 L525.5,930 L525.7,929.2 L525.9,928 L526.2,926.4 L526.4,924.7 L526.7,922.9 L526.9,921.3 L527.2,919.9 L527.4,918.8 L527.7,918 L527.9,917.5 L528.2,917.3 L528.4,917.2 L528.7,917.4 L528.9,917.6 L529.2,918.1 L529.4,918.7 L529.7,919.4 L529.9,920.1 L530.2,920.9 L530.4,921.7 L530.7,922.4 L530.9,923 L531.2,923.5 L531.4,923.8 L531.7,923.9 L531.9,923.9 L532.2,923.7 L532.4,923.3 L532.7,922.8 L532.9,922.3" fill="none" stroke="#56B4E9" stroke-width="2.5" stroke-linejoin="round" stroke-linecap="butt"/><path d="M532,916.8 L541.3,921.1 L532,925.4Z" fill="#56B4E9"/>
<text x="208.6" y="591.5" font-size="31" font-style="italic" fill="#000" textLength="21.2" lengthAdjust="spacingAndGlyphs">ω</text>
<text x="229.3" y="598.9" font-size="20.8" fill="#000">3</text>
<text x="208.6" y="703.7" font-size="31" font-style="italic" fill="#000" textLength="21.2" lengthAdjust="spacingAndGlyphs">ω</text>
<text x="229.3" y="711.1" font-size="20.8" fill="#000">2</text>
<text x="208.6" y="837.8" font-size="31" font-style="italic" fill="#000" textLength="21.2" lengthAdjust="spacingAndGlyphs">ω</text>
<text x="229.3" y="845.2" font-size="20.8" fill="#000">1</text>
<text x="208.6" y="910.1" font-size="31" font-style="italic" fill="#000" textLength="21.2" lengthAdjust="spacingAndGlyphs">ω</text>
<text x="229.3" y="917.5" font-size="20.8" fill="#000">0</text>
<text x="501.5" y="586.8" font-size="33.3" fill="#000"><tspan font-style="italic">V</tspan>(<tspan font-style="italic">x</tspan>)</text>
<text x="-0.4" y="536" font-size="35" font-weight="bold" textLength="21.6" lengthAdjust="spacingAndGlyphs">b</text>
<text x="228" y="534.8" font-size="33.3" font-weight="bold" textLength="317.1" lengthAdjust="spacingAndGlyphs">Renormalized QRM</text>
<path d="M188.6,610.3 L184.8,613.9 L181.3,617.7 L177.9,621.6 L174.8,625.7 L171.8,630 L169.1,634.4 L166.5,638.9 L164.1,643.5 L161.9,648.2 L159.9,653 L158.1,657.9 L156.4,662.8 L154.9,667.7 L153.5,672.7 L152.3,677.8 L151.3,682.8 L150.4,688 L149.6,693.1 L149,698.2 L148.4,703.4 L148,708.6 L147.7,713.7 L147.5,718.9 L147.4,724.1 L147.5,729.3 L147.7,734.5 L148,739.6 L148.5,744.8 L149.1,749.9 L149.9,755.1 L150.8,760.2 L152,765.2 L153.3,770.2 L154.9,775.2 L156.7,780.1 L158.7,784.8 L161,789.5 L163.6,794 L166.5,798.3" fill="none" stroke="#333333" stroke-width="6.2"/>
<path d="M160.6,805.7 L170.7,793.2 L175.2,808 Z" fill="#333333" stroke="#333333" stroke-width="0.6" stroke-linejoin="miter"/>
<path d="M584.9,722.3 L587.4,722.7 L589.8,723.2 L592.2,723.9 L594.5,724.7 L596.8,725.7 L599.1,726.8 L601.2,728.1 L603.3,729.4 L605.3,731 L607.1,732.6 L608.9,734.3 L610.6,736.2 L612.1,738.1 L613.5,740.2 L614.8,742.3 L615.9,744.6 L616.9,746.9 L617.7,749.2 L618.4,751.6 L618.9,754.1 L619.2,756.6 L619.4,759 L619.4,761.5 L619.3,764 L619.1,766.5 L618.7,769 L618.1,771.4 L617.5,773.8 L616.7,776.2 L615.9,778.5 L614.9,780.8 L613.9,783 L612.8,785.3 L611.7,787.5 L610.5,789.7 L609.3,791.8 L608,794 L606.8,796.2 L605.6,798.3" fill="none" stroke="#333333" stroke-width="6.2"/>
<path d="M601.3,793.2 L612.8,804.2 L599.4,808.7 Z" fill="#333333" stroke="#333333" stroke-width="0.6" stroke-linejoin="miter"/>
</g>
<clipPath id="clipc"><rect x="881.8" y="46.7" width="1095.8" height="492.6"/></clipPath>
<g clip-path="url(#clipc)" fill="none" stroke-width="6.3">
<path d="M881.8,539.3L885.5,539.3L889.1,539.3L892.8,539.3L896.5,539.3L900.1,539.3L903.8,539.3L907.5,539.3L911.1,539.3L914.8,539.3L918.4,539.3L922.1,539.3L925.8,539.3L929.4,539.3L933.1,539.3L936.8,539.3L940.4,539.3L944.1,539.3L947.8,539.3L951.4,539.3L955.1,539.3L958.8,539.3L962.4,539.3L966.1,539.3L969.8,539.3L973.4,539.3L977.1,539.3L980.8,539.3L984.4,539.3L988.1,539.3L991.7,539.3L995.4,539.3L999.1,539.3L1002.7,539.3L1006.4,539.3L1010.1,539.3L1013.7,539.3L1017.4,539.3L1021.1,539.3L1024.7,539.3L1028.4,539.3L1032.1,539.3L1035.7,539.3L1039.4,539.3L1043.1,539.3L1046.7,539.3L1050.4,539.3L1054,539.3L1057.7,539.3L1061.4,539.3L1065,539.3L1068.7,539.3L1072.4,539.3L1076,539.3L1079.7,539.3L1083.4,539.3L1087,539.3L1090.7,539.3L1094.4,539.3L1098,539.3L1101.7,539.3L1105.4,539.3L1109,539.3L1112.7,539.3L1116.4,539.3L1120,539.3L1123.7,539.3L1127.3,539.3L1131,539.3L1134.7,539.3L1138.3,539.3L1142,539.3L1145.7,539.3L1149.3,539.3L1153,539.3L1156.7,539.3L1160.3,539.3L1164,539.3L1167.7,539.3L1171.3,539.3L1175,539.3L1178.7,539.3L1182.3,539.3L1186,539.3L1189.7,539.3L1193.3,539.3L1197,539.3L1200.6,539.3L1204.3,539.3L1208,539.3L1211.6,539.3L1215.3,539.3L1219,539.3L1222.6,539.3L1226.3,539.3L1230,539.3L1233.6,539.3L1237.3,539.3L1241,539.3L1244.6,539.3L1248.3,539.3L1252,539.3L1255.6,539.3L1259.3,539.3L1262.9,539.3L1266.6,539.3L1270.3,539.3L1273.9,539.3L1277.6,539.3L1281.3,539.3L1284.9,539.3L1288.6,539.3L1292.3,539.3L1295.9,539.3L1299.6,539.3L1303.3,539.3L1306.9,539.3L1310.6,539.3L1314.3,539.3L1317.9,539.3L1321.6,539.3L1325.3,539.3L1328.9,539.3L1332.6,539.3L1336.2,539.3L1339.9,539.3L1343.6,539.3L1347.2,539.3L1350.9,539.3L1354.6,539.3L1358.2,539.3L1361.9,539.3L1365.6,539.3L1369.2,539.3L1372.9,539.3L1376.6,539.3L1380.2,539.3L1383.9,539.3L1387.6,539.3L1391.2,539.3L1394.9,539.3L1398.5,539.3L1402.2,539.3L1405.9,539.3L1409.5,539.3L1413.2,539.3L1416.9,539.3L1420.5,539.3L1424.2,539.3L1427.9,539.3L1431.5,539.3L1435.2,539.3L1438.9,539.3L1442.5,539.3L1446.2,539.3L1449.9,539.3L1453.5,539.3L1457.2,539.3L1460.9,539.3L1464.5,539.3L1468.2,539.3L1471.8,539.3L1475.5,539.3L1479.2,539.3L1482.8,539.3L1486.5,539.3L1490.2,539.3L1493.8,539.3L1497.5,539.3L1501.2,539.3L1504.8,539.3L1508.5,539.3L1512.2,539.3L1515.8,539.3L1519.5,539.3L1523.2,539.3L1526.8,539.3L1530.5,539.3L1534.1,539.3L1537.8,539.3L1541.5,539.3L1545.1,539.3L1548.8,539.3L1552.5,539.3L1556.1,539.3L1559.8,539.3L1563.5,539.3L1567.1,539.3L1570.8,539.3L1574.5,539.3L1578.1,539.3L1581.8,539.3L1585.5,539.3L1589.1,539.3L1592.8,539.3L1596.5,539.3L1600.1,539.3L1603.8,539.3L1607.4,539.3L1611.1,539.3L1614.8,539.3L1618.4,539.3L1622.1,539.3L1625.8,539.3L1629.4,539.3L1633.1,539.3L1636.8,539.3L1640.4,539.3L1644.1,539.3L1647.8,539.3L1651.4,539.3L1655.1,539.3L1658.8,539.3L1662.4,539.3L1666.1,539.3L1669.7,539.3L1673.4,539.3L1677.1,539.3L1680.7,539.3L1684.4,539.3L1688.1,539.3L1691.7,539.3L1695.4,539.3L1699.1,539.3L1702.7,539.3L1706.4,539.3L1710.1,539.3L1713.7,539.3L1717.4,539.3L1721.1,539.3L1724.7,539.3L1728.4,539.3L1732.1,539.3L1735.7,539.3L1739.4,539.3L1743,539.3L1746.7,539.3L1750.4,539.3L1754,539.3L1757.7,539.3L1761.4,539.3L1765,539.3L1768.7,539.3L1772.4,539.3L1776,539.3L1779.7,539.3L1783.4,539.3L1787,539.3L1790.7,539.3L1794.4,539.3L1798,539.3L1801.7,539.3L1805.4,539.3L1809,539.3L1812.7,539.3L1816.3,539.3L1820,539.3L1823.7,539.3L1827.3,539.3L1831,539.3L1834.7,539.3L1838.3,539.3L1842,539.3L1845.7,539.3L1849.3,539.3L1853,539.3L1856.7,539.3L1860.3,539.3L1864,539.3L1867.7,539.3L1871.3,539.3L1875,539.3L1878.6,539.3L1882.3,539.3L1886,539.3L1889.6,539.3L1893.3,539.3L1897,539.3L1900.6,539.3L1904.3,539.3L1908,539.3L1911.6,539.3L1915.3,539.3L1919,539.3L1922.6,539.3L1926.3,539.3L1930,539.3L1933.6,539.3L1937.3,539.3L1941,539.3L1944.6,539.3L1948.3,539.3L1951.9,539.3L1955.6,539.3L1959.3,539.3L1962.9,539.3L1966.6,539.3L1970.3,539.3L1973.9,539.3L1977.6,539.3" stroke="#104E8B"/>
<path d="M881.8,473.7L885.5,473.7L889.1,473.7L892.8,473.7L896.5,473.8L900.1,473.8L903.8,473.9L907.5,474L911.1,474.1L914.8,474.1L918.4,474.3L922.1,474.4L925.8,474.5L929.4,474.6L933.1,474.8L936.8,474.9L940.4,475.1L944.1,475.3L947.8,475.5L951.4,475.7L955.1,475.9L958.8,476.1L962.4,476.3L966.1,476.5L969.8,476.8L973.4,477L977.1,477.3L980.8,477.6L984.4,477.8L988.1,478.1L991.7,478.4L995.4,478.7L999.1,479L1002.7,479.3L1006.4,479.6L1010.1,480L1013.7,480.3L1017.4,480.7L1021.1,481L1024.7,481.4L1028.4,481.7L1032.1,482.1L1035.7,482.5L1039.4,482.8L1043.1,483.2L1046.7,483.6L1050.4,484L1054,484.4L1057.7,484.8L1061.4,485.2L1065,485.6L1068.7,486.1L1072.4,486.5L1076,486.9L1079.7,487.4L1083.4,487.8L1087,488.2L1090.7,488.7L1094.4,489.1L1098,489.6L1101.7,490L1105.4,490.5L1109,490.9L1112.7,491.4L1116.4,491.9L1120,492.3L1123.7,492.8L1127.3,493.3L1131,493.7L1134.7,494.2L1138.3,494.7L1142,495.2L1145.7,495.7L1149.3,496.1L1153,496.6L1156.7,497.1L1160.3,497.6L1164,498.1L1167.7,498.5L1171.3,499L1175,499.5L1178.7,500L1182.3,500.5L1186,500.9L1189.7,501.4L1193.3,501.9L1197,502.4L1200.6,502.9L1204.3,503.3L1208,503.8L1211.6,504.3L1215.3,504.8L1219,505.2L1222.6,505.7L1226.3,506.2L1230,506.6L1233.6,507.1L1237.3,507.5L1241,508L1244.6,508.5L1248.3,508.9L1252,509.4L1255.6,509.8L1259.3,510.3L1262.9,510.7L1266.6,511.1L1270.3,511.6L1273.9,512L1277.6,512.5L1281.3,512.9L1284.9,513.3L1288.6,513.7L1292.3,514.1L1295.9,514.6L1299.6,515L1303.3,515.4L1306.9,515.8L1310.6,516.2L1314.3,516.6L1317.9,517L1321.6,517.4L1325.3,517.8L1328.9,518.1L1332.6,518.5L1336.2,518.9L1339.9,519.3L1343.6,519.6L1347.2,520L1350.9,520.3L1354.6,520.7L1358.2,521L1361.9,521.4L1365.6,521.7L1369.2,522.1L1372.9,522.4L1376.6,522.7L1380.2,523.1L1383.9,523.4L1387.6,523.7L1391.2,524L1394.9,524.3L1398.5,524.6L1402.2,524.9L1405.9,525.2L1409.5,525.5L1413.2,525.8L1416.9,526.1L1420.5,526.4L1424.2,526.6L1427.9,526.9L1431.5,527.2L1435.2,527.4L1438.9,527.7L1442.5,527.9L1446.2,528.2L1449.9,528.4L1453.5,528.7L1457.2,528.9L1460.9,529.1L1464.5,529.4L1468.2,529.6L1471.8,529.8L1475.5,530L1479.2,530.3L1482.8,530.5L1486.5,530.7L1490.2,530.9L1493.8,531.1L1497.5,531.3L1501.2,531.5L1504.8,531.7L1508.5,531.8L1512.2,532L1515.8,532.2L1519.5,532.4L1523.2,532.5L1526.8,532.7L1530.5,532.9L1534.1,533L1537.8,533.2L1541.5,533.4L1545.1,533.5L1548.8,533.7L1552.5,533.8L1556.1,533.9L1559.8,534.1L1563.5,534.2L1567.1,534.4L1570.8,534.5L1574.5,534.6L1578.1,534.7L1581.8,534.9L1585.5,535L1589.1,535.1L1592.8,535.2L1596.5,535.3L1600.1,535.4L1603.8,535.5L1607.4,535.6L1611.1,535.7L1614.8,535.8L1618.4,535.9L1622.1,536L1625.8,536.1L1629.4,536.2L1633.1,536.3L1636.8,536.4L1640.4,536.5L1644.1,536.6L1647.8,536.6L1651.4,536.7L1655.1,536.8L1658.8,536.9L1662.4,536.9L1666.1,537L1669.7,537.1L1673.4,537.1L1677.1,537.2L1680.7,537.3L1684.4,537.3L1688.1,537.4L1691.7,537.5L1695.4,537.5L1699.1,537.6L1702.7,537.6L1706.4,537.7L1710.1,537.7L1713.7,537.8L1717.4,537.8L1721.1,537.9L1724.7,537.9L1728.4,538L1732.1,538L1735.7,538L1739.4,538.1L1743,538.1L1746.7,538.2L1750.4,538.2L1754,538.2L1757.7,538.3L1761.4,538.3L1765,538.3L1768.7,538.4L1772.4,538.4L1776,538.4L1779.7,538.5L1783.4,538.5L1787,538.5L1790.7,538.5L1794.4,538.6L1798,538.6L1801.7,538.6L1805.4,538.6L1809,538.7L1812.7,538.7L1816.3,538.7L1820,538.7L1823.7,538.8L1827.3,538.8L1831,538.8L1834.7,538.8L1838.3,538.8L1842,538.8L1845.7,538.9L1849.3,538.9L1853,538.9L1856.7,538.9L1860.3,538.9L1864,538.9L1867.7,538.9L1871.3,539L1875,539L1878.6,539L1882.3,539L1886,539L1889.6,539L1893.3,539L1897,539L1900.6,539L1904.3,539.1L1908,539.1L1911.6,539.1L1915.3,539.1L1919,539.1L1922.6,539.1L1926.3,539.1L1930,539.1L1933.6,539.1L1937.3,539.1L1941,539.1L1944.6,539.1L1948.3,539.2L1951.9,539.2L1955.6,539.2L1959.3,539.2L1962.9,539.2L1966.6,539.2L1970.3,539.2L1973.9,539.2L1977.6,539.2" stroke="#104E8B"/>
<path d="M881.8,342.7L885.5,342.7L889.1,342.6L892.8,342.5L896.5,342.5L900.1,342.3L903.8,342.2L907.5,342.1L911.1,341.9L914.8,341.7L918.4,341.6L922.1,341.4L925.8,341.1L929.4,340.9L933.1,340.7L936.8,340.4L940.4,340.2L944.1,339.9L947.8,339.6L951.4,339.3L955.1,339L958.8,338.7L962.4,338.3L966.1,338L969.8,337.7L973.4,337.3L977.1,336.9L980.8,336.6L984.4,336.2L988.1,335.8L991.7,335.4L995.4,335L999.1,334.6L1002.7,334.2L1006.4,333.8L1010.1,333.4L1013.7,332.9L1017.4,332.5L1021.1,332.1L1024.7,331.6L1028.4,331.2L1032.1,330.8L1035.7,330.3L1039.4,329.9L1043.1,329.4L1046.7,329L1050.4,328.5L1054,328.1L1057.7,327.6L1061.4,327.2L1065,326.7L1068.7,326.3L1072.4,325.8L1076,325.4L1079.7,324.9L1083.4,324.5L1087,324.1L1090.7,323.6L1094.4,323.2L1098,322.8L1101.7,322.4L1105.4,322L1109,321.5L1112.7,321.1L1116.4,320.7L1120,320.4L1123.7,320L1127.3,319.6L1131,319.2L1134.7,318.9L1138.3,318.5L1142,318.2L1145.7,317.8L1149.3,317.5L1153,317.2L1156.7,316.9L1160.3,316.6L1164,316.3L1167.7,316L1171.3,315.7L1175,315.5L1178.7,315.2L1182.3,315L1186,314.8L1189.7,314.5L1193.3,314.3L1197,314.1L1200.6,313.9L1204.3,313.8L1208,313.6L1211.6,313.4L1215.3,313.3L1219,313.1L1222.6,313L1226.3,312.9L1230,312.8L1233.6,312.7L1237.3,312.6L1241,312.5L1244.6,312.5L1248.3,312.4L1252,312.4L1255.6,312.4L1259.3,312.3L1262.9,312.3L1266.6,312.3L1270.3,312.4L1273.9,312.4L1277.6,312.4L1281.3,312.5L1284.9,312.6L1288.6,312.6L1292.3,312.7L1295.9,312.8L1299.6,312.9L1303.3,313L1306.9,313.2L1310.6,313.3L1314.3,313.5L1317.9,313.6L1321.6,313.8L1325.3,314L1328.9,314.2L1332.6,314.3L1336.2,314.6L1339.9,314.8L1343.6,315L1347.2,315.2L1350.9,315.4L1354.6,315.7L1358.2,315.9L1361.9,316.2L1365.6,316.4L1369.2,316.7L1372.9,317L1376.6,317.3L1380.2,317.5L1383.9,317.8L1387.6,318.1L1391.2,318.4L1394.9,318.7L1398.5,319L1402.2,319.3L1405.9,319.6L1409.5,320L1413.2,320.3L1416.9,320.6L1420.5,320.9L1424.2,321.2L1427.9,321.6L1431.5,321.9L1435.2,322.2L1438.9,322.6L1442.5,322.9L1446.2,323.3L1449.9,323.6L1453.5,324L1457.2,324.3L1460.9,324.7L1464.5,325L1468.2,325.4L1471.8,325.7L1475.5,326.1L1479.2,326.5L1482.8,326.8L1486.5,327.2L1490.2,327.6L1493.8,327.9L1497.5,328.3L1501.2,328.7L1504.8,329L1508.5,329.4L1512.2,329.8L1515.8,330.2L1519.5,330.5L1523.2,330.9L1526.8,331.3L1530.5,331.7L1534.1,332L1537.8,332.4L1541.5,332.8L1545.1,333.2L1548.8,333.5L1552.5,333.9L1556.1,334.3L1559.8,334.6L1563.5,335L1567.1,335.4L1570.8,335.8L1574.5,336.1L1578.1,336.5L1581.8,336.9L1585.5,337.2L1589.1,337.6L1592.8,338L1596.5,338.3L1600.1,338.7L1603.8,339L1607.4,339.4L1611.1,339.7L1614.8,340.1L1618.4,340.4L1622.1,340.8L1625.8,341.1L1629.4,341.5L1633.1,341.8L1636.8,342.2L1640.4,342.5L1644.1,342.8L1647.8,343.2L1651.4,343.5L1655.1,343.8L1658.8,344.1L1662.4,344.4L1666.1,344.8L1669.7,345.1L1673.4,345.4L1677.1,345.7L1680.7,346L1684.4,346.3L1688.1,346.6L1691.7,346.8L1695.4,347.1L1699.1,347.4L1702.7,347.7L1706.4,347.9L1710.1,348.2L1713.7,348.5L1717.4,348.7L1721.1,349L1724.7,349.2L1728.4,349.4L1732.1,349.7L1735.7,349.9L1739.4,350.1L1743,350.4L1746.7,350.6L1750.4,350.8L1754,351L1757.7,351.2L1761.4,351.4L1765,351.6L1768.7,351.8L1772.4,352L1776,352.1L1779.7,352.3L1783.4,352.5L1787,352.7L1790.7,352.8L1794.4,353L1798,353.2L1801.7,353.3L1805.4,353.5L1809,353.6L1812.7,353.8L1816.3,353.9L1820,354.1L1823.7,354.2L1827.3,354.3L1831,354.5L1834.7,354.6L1838.3,354.7L1842,354.9L1845.7,355L1849.3,355.1L1853,355.2L1856.7,355.3L1860.3,355.4L1864,355.6L1867.7,355.7L1871.3,355.8L1875,355.9L1878.6,356L1882.3,356.1L1886,356.2L1889.6,356.3L1893.3,356.4L1897,356.5L1900.6,356.6L1904.3,356.7L1908,356.8L1911.6,356.9L1915.3,357L1919,357L1922.6,357.1L1926.3,357.2L1930,357.3L1933.6,357.4L1937.3,357.5L1941,357.6L1944.6,357.7L1948.3,357.7L1951.9,357.8L1955.6,357.9L1959.3,358L1962.9,358.1L1966.6,358.2L1970.3,358.3L1973.9,358.3L1977.6,358.4" stroke="#104E8B"/>
<path d="M881.8,276.6L885.5,276.6L889.1,276.7L892.8,276.7L896.5,276.9L900.1,277L903.8,277.1L907.5,277.3L911.1,277.5L914.8,277.8L918.4,278L922.1,278.3L925.8,278.6L929.4,278.9L933.1,279.2L936.8,279.5L940.4,279.9L944.1,280.3L947.8,280.7L951.4,281.1L955.1,281.6L958.8,282L962.4,282.5L966.1,283L969.8,283.5L973.4,284L977.1,284.5L980.8,285.1L984.4,285.7L988.1,286.2L991.7,286.8L995.4,287.4L999.1,288L1002.7,288.7L1006.4,289.3L1010.1,290L1013.7,290.6L1017.4,291.3L1021.1,292L1024.7,292.7L1028.4,293.4L1032.1,294.1L1035.7,294.8L1039.4,295.5L1043.1,296.3L1046.7,297L1050.4,297.7L1054,298.5L1057.7,299.3L1061.4,300L1065,300.8L1068.7,301.6L1072.4,302.3L1076,303.1L1079.7,303.9L1083.4,304.7L1087,305.5L1090.7,306.3L1094.4,307.1L1098,307.9L1101.7,308.7L1105.4,309.5L1109,310.3L1112.7,311.1L1116.4,311.8L1120,312.6L1123.7,313.4L1127.3,314.2L1131,315L1134.7,315.8L1138.3,316.6L1142,317.3L1145.7,318.1L1149.3,318.9L1153,319.7L1156.7,320.4L1160.3,321.2L1164,321.9L1167.7,322.7L1171.3,323.4L1175,324.1L1178.7,324.9L1182.3,325.6L1186,326.3L1189.7,327L1193.3,327.7L1197,328.4L1200.6,329.1L1204.3,329.8L1208,330.5L1211.6,331.2L1215.3,331.9L1219,332.6L1222.6,333.2L1226.3,333.9L1230,334.5L1233.6,335.2L1237.3,335.8L1241,336.5L1244.6,337.1L1248.3,337.7L1252,338.3L1255.6,338.9L1259.3,339.5L1262.9,340.1L1266.6,340.7L1270.3,341.3L1273.9,341.9L1277.6,342.4L1281.3,343L1284.9,343.5L1288.6,344.1L1292.3,344.6L1295.9,345.1L1299.6,345.7L1303.3,346.2L1306.9,346.7L1310.6,347.2L1314.3,347.7L1317.9,348.2L1321.6,348.6L1325.3,349.1L1328.9,349.6L1332.6,350L1336.2,350.4L1339.9,350.9L1343.6,351.3L1347.2,351.7L1350.9,352.1L1354.6,352.5L1358.2,352.9L1361.9,353.3L1365.6,353.6L1369.2,354L1372.9,354.4L1376.6,354.7L1380.2,355L1383.9,355.4L1387.6,355.7L1391.2,356L1394.9,356.3L1398.5,356.5L1402.2,356.8L1405.9,357.1L1409.5,357.3L1413.2,357.6L1416.9,357.8L1420.5,358L1424.2,358.3L1427.9,358.5L1431.5,358.7L1435.2,358.9L1438.9,359L1442.5,359.2L1446.2,359.4L1449.9,359.5L1453.5,359.7L1457.2,359.8L1460.9,359.9L1464.5,360.1L1468.2,360.2L1471.8,360.3L1475.5,360.4L1479.2,360.5L1482.8,360.6L1486.5,360.7L1490.2,360.7L1493.8,360.8L1497.5,360.9L1501.2,360.9L1504.8,361L1508.5,361L1512.2,361.1L1515.8,361.1L1519.5,361.1L1523.2,361.2L1526.8,361.2L1530.5,361.2L1534.1,361.2L1537.8,361.2L1541.5,361.2L1545.1,361.2L1548.8,361.2L1552.5,361.2L1556.1,361.2L1559.8,361.2L1563.5,361.1L1567.1,361.1L1570.8,361.1L1574.5,361L1578.1,361L1581.8,361L1585.5,360.9L1589.1,360.9L1592.8,360.8L1596.5,360.8L1600.1,360.7L1603.8,360.7L1607.4,360.6L1611.1,360.6L1614.8,360.5L1618.4,360.4L1622.1,360.4L1625.8,360.3L1629.4,360.2L1633.1,360.2L1636.8,360.1L1640.4,360.1L1644.1,360L1647.8,359.9L1651.4,359.9L1655.1,359.8L1658.8,359.7L1662.4,359.7L1666.1,359.6L1669.7,359.5L1673.4,359.5L1677.1,359.4L1680.7,359.3L1684.4,359.3L1688.1,359.2L1691.7,359.1L1695.4,359.1L1699.1,359L1702.7,359L1706.4,358.9L1710.1,358.9L1713.7,358.8L1717.4,358.8L1721.1,358.8L1724.7,358.7L1728.4,358.7L1732.1,358.6L1735.7,358.6L1739.4,358.6L1743,358.6L1746.7,358.5L1750.4,358.5L1754,358.5L1757.7,358.5L1761.4,358.5L1765,358.5L1768.7,358.4L1772.4,358.4L1776,358.4L1779.7,358.4L1783.4,358.4L1787,358.4L1790.7,358.4L1794.4,358.4L1798,358.4L1801.7,358.4L1805.4,358.5L1809,358.5L1812.7,358.5L1816.3,358.5L1820,358.5L1823.7,358.5L1827.3,358.5L1831,358.6L1834.7,358.6L1838.3,358.6L1842,358.6L1845.7,358.6L1849.3,358.7L1853,358.7L1856.7,358.7L1860.3,358.7L1864,358.8L1867.7,358.8L1871.3,358.8L1875,358.9L1878.6,358.9L1882.3,358.9L1886,359L1889.6,359L1893.3,359L1897,359L1900.6,359.1L1904.3,359.1L1908,359.1L1911.6,359.2L1915.3,359.2L1919,359.2L1922.6,359.3L1926.3,359.3L1930,359.3L1933.6,359.4L1937.3,359.4L1941,359.4L1944.6,359.5L1948.3,359.5L1951.9,359.5L1955.6,359.6L1959.3,359.6L1962.9,359.6L1966.6,359.7L1970.3,359.7L1973.9,359.7L1977.6,359.7" stroke="#104E8B"/>
<path d="M881.8,145.3L885.5,145.4L889.1,145.4L892.8,145.3L896.5,145.3L900.1,145.2L903.8,145L907.5,144.9L911.1,144.6L914.8,144.4L918.4,144.1L922.1,143.8L925.8,143.5L929.4,143.1L933.1,142.8L936.8,142.3L940.4,141.9L944.1,141.4L947.8,141L951.4,140.5L955.1,139.9L958.8,139.4L962.4,138.9L966.1,138.3L969.8,137.7L973.4,137.1L977.1,136.5L980.8,135.9L984.4,135.2L988.1,134.6L991.7,134L995.4,133.3L999.1,132.6L1002.7,132L1006.4,131.3L1010.1,130.7L1013.7,130L1017.4,129.3L1021.1,128.7L1024.7,128L1028.4,127.3L1032.1,126.7L1035.7,126.1L1039.4,125.4L1043.1,124.8L1046.7,124.2L1050.4,123.6L1054,123L1057.7,122.4L1061.4,121.8L1065,121.3L1068.7,120.7L1072.4,120.2L1076,119.7L1079.7,119.2L1083.4,118.7L1087,118.2L1090.7,117.7L1094.4,117.3L1098,116.8L1101.7,116.4L1105.4,116L1109,115.6L1112.7,115.2L1116.4,114.9L1120,114.5L1123.7,114.2L1127.3,113.9L1131,113.6L1134.7,113.4L1138.3,113.1L1142,112.9L1145.7,112.7L1149.3,112.5L1153,112.3L1156.7,112.2L1160.3,112L1164,111.9L1167.7,111.8L1171.3,111.8L1175,111.7L1178.7,111.7L1182.3,111.7L1186,111.8L1189.7,111.8L1193.3,111.9L1197,112L1200.6,112.1L1204.3,112.3L1208,112.5L1211.6,112.7L1215.3,112.9L1219,113.2L1222.6,113.5L1226.3,113.8L1230,114.1L1233.6,114.5L1237.3,114.9L1241,115.3L1244.6,115.8L1248.3,116.3L1252,116.8L1255.6,117.3L1259.3,117.9L1262.9,118.5L1266.6,119.1L1270.3,119.7L1273.9,120.4L1277.6,121.1L1281.3,121.7L1284.9,122.4L1288.6,123.1L1292.3,123.9L1295.9,124.6L1299.6,125.3L1303.3,126.1L1306.9,126.9L1310.6,127.6L1314.3,128.4L1317.9,129.2L1321.6,130L1325.3,130.8L1328.9,131.5L1332.6,132.3L1336.2,133.1L1339.9,133.9L1343.6,134.6L1347.2,135.4L1350.9,136.2L1354.6,136.9L1358.2,137.7L1361.9,138.4L1365.6,139.2L1369.2,139.9L1372.9,140.7L1376.6,141.4L1380.2,142.2L1383.9,142.9L1387.6,143.6L1391.2,144.4L1394.9,145.1L1398.5,145.9L1402.2,146.6L1405.9,147.4L1409.5,148.1L1413.2,148.8L1416.9,149.6L1420.5,150.3L1424.2,151.1L1427.9,151.8L1431.5,152.5L1435.2,153.3L1438.9,154L1442.5,154.7L1446.2,155.4L1449.9,156.1L1453.5,156.8L1457.2,157.4L1460.9,158.1L1464.5,158.8L1468.2,159.4L1471.8,160.1L1475.5,160.7L1479.2,161.3L1482.8,161.9L1486.5,162.6L1490.2,163.2L1493.8,163.8L1497.5,164.3L1501.2,164.9L1504.8,165.5L1508.5,166.1L1512.2,166.6L1515.8,167.2L1519.5,167.7L1523.2,168.2L1526.8,168.7L1530.5,169.3L1534.1,169.8L1537.8,170.3L1541.5,170.7L1545.1,171.2L1548.8,171.7L1552.5,172.1L1556.1,172.6L1559.8,173L1563.5,173.5L1567.1,173.9L1570.8,174.3L1574.5,174.7L1578.1,175.1L1581.8,175.5L1585.5,175.9L1589.1,176.3L1592.8,176.6L1596.5,177L1600.1,177.3L1603.8,177.7L1607.4,178L1611.1,178.3L1614.8,178.6L1618.4,178.9L1622.1,179.2L1625.8,179.5L1629.4,179.8L1633.1,180L1636.8,180.3L1640.4,180.5L1644.1,180.8L1647.8,181L1651.4,181.2L1655.1,181.4L1658.8,181.6L1662.4,181.8L1666.1,182L1669.7,182.2L1673.4,182.3L1677.1,182.5L1680.7,182.6L1684.4,182.8L1688.1,182.9L1691.7,183.1L1695.4,183.2L1699.1,183.3L1702.7,183.4L1706.4,183.5L1710.1,183.6L1713.7,183.7L1717.4,183.8L1721.1,183.8L1724.7,183.9L1728.4,184L1732.1,184L1735.7,184.1L1739.4,184.2L1743,184.2L1746.7,184.2L1750.4,184.3L1754,184.3L1757.7,184.3L1761.4,184.4L1765,184.4L1768.7,184.4L1772.4,184.4L1776,184.4L1779.7,184.4L1783.4,184.4L1787,184.4L1790.7,184.4L1794.4,184.4L1798,184.4L1801.7,184.4L1805.4,184.4L1809,184.4L1812.7,184.4L1816.3,184.4L1820,184.3L1823.7,184.3L1827.3,184.3L1831,184.3L1834.7,184.3L1838.3,184.2L1842,184.2L1845.7,184.2L1849.3,184.2L1853,184.1L1856.7,184.1L1860.3,184.1L1864,184.1L1867.7,184.1L1871.3,184L1875,184L1878.6,184L1882.3,184L1886,184L1889.6,184L1893.3,184L1897,183.9L1900.6,183.9L1904.3,183.9L1908,183.9L1911.6,183.9L1915.3,183.9L1919,183.9L1922.6,184L1926.3,184L1930,184L1933.6,184L1937.3,184L1941,184.1L1944.6,184.1L1948.3,184.1L1951.9,184.2L1955.6,184.2L1959.3,184.3L1962.9,184.3L1966.6,184.4L1970.3,184.5L1973.9,184.5L1977.6,184.6" stroke="#104E8B"/>
<path d="M881.8,79.6L885.5,79.6L889.1,79.8L892.8,79.9L896.5,80.1L900.1,80.3L903.8,80.6L907.5,80.9L911.1,81.2L914.8,81.6L918.4,82L922.1,82.4L925.8,82.8L929.4,83.3L933.1,83.8L936.8,84.4L940.4,84.9L944.1,85.5L947.8,86.1L951.4,86.8L955.1,87.5L958.8,88.1L962.4,88.8L966.1,89.6L969.8,90.3L973.4,91.1L977.1,91.9L980.8,92.7L984.4,93.5L988.1,94.3L991.7,95.1L995.4,96L999.1,96.9L1002.7,97.7L1006.4,98.6L1010.1,99.5L1013.7,100.4L1017.4,101.3L1021.1,102.3L1024.7,103.2L1028.4,104.1L1032.1,105.1L1035.7,106L1039.4,107L1043.1,107.9L1046.7,108.8L1050.4,109.8L1054,110.7L1057.7,111.7L1061.4,112.6L1065,113.6L1068.7,114.5L1072.4,115.4L1076,116.4L1079.7,117.3L1083.4,118.2L1087,119.1L1090.7,120L1094.4,121L1098,121.9L1101.7,122.7L1105.4,123.6L1109,124.5L1112.7,125.4L1116.4,126.2L1120,127.1L1123.7,127.9L1127.3,128.8L1131,129.6L1134.7,130.4L1138.3,131.2L1142,132L1145.7,132.7L1149.3,133.5L1153,134.2L1156.7,134.9L1160.3,135.6L1164,136.3L1167.7,137L1171.3,137.7L1175,138.3L1178.7,138.9L1182.3,139.5L1186,140.1L1189.7,140.7L1193.3,141.2L1197,141.7L1200.6,142.2L1204.3,142.7L1208,143.2L1211.6,143.6L1215.3,144L1219,144.4L1222.6,144.8L1226.3,145.1L1230,145.4L1233.6,145.7L1237.3,146L1241,146.2L1244.6,146.4L1248.3,146.6L1252,146.7L1255.6,146.8L1259.3,146.9L1262.9,147L1266.6,147.1L1270.3,147.1L1273.9,147.1L1277.6,147.1L1281.3,147.1L1284.9,147L1288.6,146.9L1292.3,146.8L1295.9,146.7L1299.6,146.6L1303.3,146.5L1306.9,146.3L1310.6,146.1L1314.3,146L1317.9,145.8L1321.6,145.6L1325.3,145.3L1328.9,145.1L1332.6,144.9L1336.2,144.6L1339.9,144.3L1343.6,144.1L1347.2,143.8L1350.9,143.5L1354.6,143.2L1358.2,142.9L1361.9,142.6L1365.6,142.3L1369.2,142L1372.9,141.7L1376.6,141.4L1380.2,141.1L1383.9,140.8L1387.6,140.5L1391.2,140.2L1394.9,139.9L1398.5,139.6L1402.2,139.3L1405.9,139L1409.5,138.7L1413.2,138.4L1416.9,138.2L1420.5,137.9L1424.2,137.6L1427.9,137.4L1431.5,137.1L1435.2,136.9L1438.9,136.7L1442.5,136.5L1446.2,136.3L1449.9,136.1L1453.5,135.9L1457.2,135.7L1460.9,135.6L1464.5,135.5L1468.2,135.3L1471.8,135.2L1475.5,135.1L1479.2,135L1482.8,134.9L1486.5,134.9L1490.2,134.8L1493.8,134.7L1497.5,134.7L1501.2,134.7L1504.8,134.7L1508.5,134.7L1512.2,134.7L1515.8,134.7L1519.5,134.7L1523.2,134.8L1526.8,134.8L1530.5,134.9L1534.1,135L1537.8,135L1541.5,135.1L1545.1,135.2L1548.8,135.4L1552.5,135.5L1556.1,135.6L1559.8,135.8L1563.5,135.9L1567.1,136.1L1570.8,136.3L1574.5,136.5L1578.1,136.7L1581.8,136.9L1585.5,137.1L1589.1,137.4L1592.8,137.6L1596.5,137.9L1600.1,138.1L1603.8,138.4L1607.4,138.7L1611.1,139L1614.8,139.3L1618.4,139.6L1622.1,140L1625.8,140.3L1629.4,140.7L1633.1,141L1636.8,141.4L1640.4,141.8L1644.1,142.2L1647.8,142.6L1651.4,143L1655.1,143.4L1658.8,143.8L1662.4,144.3L1666.1,144.7L1669.7,145.2L1673.4,145.6L1677.1,146.1L1680.7,146.5L1684.4,147L1688.1,147.5L1691.7,148L1695.4,148.4L1699.1,148.9L1702.7,149.4L1706.4,149.9L1710.1,150.4L1713.7,150.9L1717.4,151.3L1721.1,151.8L1724.7,152.3L1728.4,152.8L1732.1,153.3L1735.7,153.7L1739.4,154.2L1743,154.7L1746.7,155.1L1750.4,155.6L1754,156.1L1757.7,156.5L1761.4,157L1765,157.4L1768.7,157.8L1772.4,158.2L1776,158.6L1779.7,159.1L1783.4,159.5L1787,159.8L1790.7,160.2L1794.4,160.6L1798,161L1801.7,161.4L1805.4,161.7L1809,162.1L1812.7,162.4L1816.3,162.8L1820,163.1L1823.7,163.4L1827.3,163.8L1831,164.1L1834.7,164.4L1838.3,164.7L1842,165L1845.7,165.3L1849.3,165.6L1853,165.9L1856.7,166.2L1860.3,166.5L1864,166.7L1867.7,167L1871.3,167.3L1875,167.6L1878.6,167.8L1882.3,168.1L1886,168.3L1889.6,168.6L1893.3,168.8L1897,169.1L1900.6,169.3L1904.3,169.6L1908,169.8L1911.6,170.1L1915.3,170.3L1919,170.6L1922.6,170.8L1926.3,171L1930,171.3L1933.6,171.5L1937.3,171.8L1941,172L1944.6,172.3L1948.3,172.5L1951.9,172.8L1955.6,173L1959.3,173.3L1962.9,173.5L1966.6,173.8L1970.3,174.1L1973.9,174.3L1977.6,174.6" stroke="#104E8B"/>
<path d="M881.8,539.3L885.5,539.3L889.1,539.3L892.8,539.3L896.5,539.3L900.1,539.3L903.8,539.3L907.5,539.3L911.1,539.3L914.8,539.3L918.4,539.3L922.1,539.3L925.8,539.3L929.4,539.3L933.1,539.3L936.8,539.3L940.4,539.3L944.1,539.3L947.8,539.3L951.4,539.3L955.1,539.3L958.8,539.3L962.4,539.3L966.1,539.3L969.8,539.3L973.4,539.3L977.1,539.3L980.8,539.3L984.4,539.3L988.1,539.3L991.7,539.3L995.4,539.3L999.1,539.3L1002.7,539.3L1006.4,539.3L1010.1,539.3L1013.7,539.3L1017.4,539.3L1021.1,539.3L1024.7,539.3L1028.4,539.3L1032.1,539.3L1035.7,539.3L1039.4,539.3L1043.1,539.3L1046.7,539.3L1050.4,539.3L1054,539.3L1057.7,539.3L1061.4,539.3L1065,539.3L1068.7,539.3L1072.4,539.3L1076,539.3L1079.7,539.3L1083.4,539.3L1087,539.3L1090.7,539.3L1094.4,539.3L1098,539.3L1101.7,539.3L1105.4,539.3L1109,539.3L1112.7,539.3L1116.4,539.3L1120,539.3L1123.7,539.3L1127.3,539.3L1131,539.3L1134.7,539.3L1138.3,539.3L1142,539.3L1145.7,539.3L1149.3,539.3L1153,539.3L1156.7,539.3L1160.3,539.3L1164,539.3L1167.7,539.3L1171.3,539.3L1175,539.3L1178.7,539.3L1182.3,539.3L1186,539.3L1189.7,539.3L1193.3,539.3L1197,539.3L1200.6,539.3L1204.3,539.3L1208,539.3L1211.6,539.3L1215.3,539.3L1219,539.3L1222.6,539.3L1226.3,539.3L1230,539.3L1233.6,539.3L1237.3,539.3L1241,539.3L1244.6,539.3L1248.3,539.3L1252,539.3L1255.6,539.3L1259.3,539.3L1262.9,539.3L1266.6,539.3L1270.3,539.3L1273.9,539.3L1277.6,539.3L1281.3,539.3L1284.9,539.3L1288.6,539.3L1292.3,539.3L1295.9,539.3L1299.6,539.3L1303.3,539.3L1306.9,539.3L1310.6,539.3L1314.3,539.3L1317.9,539.3L1321.6,539.3L1325.3,539.3L1328.9,539.3L1332.6,539.3L1336.2,539.3L1339.9,539.3L1343.6,539.3L1347.2,539.3L1350.9,539.3L1354.6,539.3L1358.2,539.3L1361.9,539.3L1365.6,539.3L1369.2,539.3L1372.9,539.3L1376.6,539.3L1380.2,539.3L1383.9,539.3L1387.6,539.3L1391.2,539.3L1394.9,539.3L1398.5,539.3L1402.2,539.3L1405.9,539.3L1409.5,539.3L1413.2,539.3L1416.9,539.3L1420.5,539.3L1424.2,539.3L1427.9,539.3L1431.5,539.3L1435.2,539.3L1438.9,539.3L1442.5,539.3L1446.2,539.3L1449.9,539.3L1453.5,539.3L1457.2,539.3L1460.9,539.3L1464.5,539.3L1468.2,539.3L1471.8,539.3L1475.5,539.3L1479.2,539.3L1482.8,539.3L1486.5,539.3L1490.2,539.3L1493.8,539.3L1497.5,539.3L1501.2,539.3L1504.8,539.3L1508.5,539.3L1512.2,539.3L1515.8,539.3L1519.5,539.3L1523.2,539.3L1526.8,539.3L1530.5,539.3L1534.1,539.3L1537.8,539.3L1541.5,539.3L1545.1,539.3L1548.8,539.3L1552.5,539.3L1556.1,539.3L1559.8,539.3L1563.5,539.3L1567.1,539.3L1570.8,539.3L1574.5,539.3L1578.1,539.3L1581.8,539.3L1585.5,539.3L1589.1,539.3L1592.8,539.3L1596.5,539.3L1600.1,539.3L1603.8,539.3L1607.4,539.3L1611.1,539.3L1614.8,539.3L1618.4,539.3L1622.1,539.3L1625.8,539.3L1629.4,539.3L1633.1,539.3L1636.8,539.3L1640.4,539.3L1644.1,539.3L1647.8,539.3L1651.4,539.3L1655.1,539.3L1658.8,539.3L1662.4,539.3L1666.1,539.3L1669.7,539.3L1673.4,539.3L1677.1,539.3L1680.7,539.3L1684.4,539.3L1688.1,539.3L1691.7,539.3L1695.4,539.3L1699.1,539.3L1702.7,539.3L1706.4,539.3L1710.1,539.3L1713.7,539.3L1717.4,539.3L1721.1,539.3L1724.7,539.3L1728.4,539.3L1732.1,539.3L1735.7,539.3L1739.4,539.3L1743,539.3L1746.7,539.3L1750.4,539.3L1754,539.3L1757.7,539.3L1761.4,539.3L1765,539.3L1768.7,539.3L1772.4,539.3L1776,539.3L1779.7,539.3L1783.4,539.3L1787,539.3L1790.7,539.3L1794.4,539.3L1798,539.3L1801.7,539.3L1805.4,539.3L1809,539.3L1812.7,539.3L1816.3,539.3L1820,539.3L1823.7,539.3L1827.3,539.3L1831,539.3L1834.7,539.3L1838.3,539.3L1842,539.3L1845.7,539.3L1849.3,539.3L1853,539.3L1856.7,539.3L1860.3,539.3L1864,539.3L1867.7,539.3L1871.3,539.3L1875,539.3L1878.6,539.3L1882.3,539.3L1886,539.3L1889.6,539.3L1893.3,539.3L1897,539.3L1900.6,539.3L1904.3,539.3L1908,539.3L1911.6,539.3L1915.3,539.3L1919,539.3L1922.6,539.3L1926.3,539.3L1930,539.3L1933.6,539.3L1937.3,539.3L1941,539.3L1944.6,539.3L1948.3,539.3L1951.9,539.3L1955.6,539.3L1959.3,539.3L1962.9,539.3L1966.6,539.3L1970.3,539.3L1973.9,539.3L1977.6,539.3" stroke="#CD2626" stroke-dasharray="18.9 18.9"/>
<path d="M881.8,473.7L885.5,473.7L889.1,473.7L892.8,473.7L896.5,473.8L900.1,473.8L903.8,473.9L907.5,474L911.1,474.1L914.8,474.1L918.4,474.3L922.1,474.4L925.8,474.5L929.4,474.6L933.1,474.8L936.8,474.9L940.4,475.1L944.1,475.3L947.8,475.5L951.4,475.7L955.1,475.9L958.8,476.1L962.4,476.3L966.1,476.5L969.8,476.8L973.4,477L977.1,477.3L980.8,477.6L984.4,477.8L988.1,478.1L991.7,478.4L995.4,478.7L999.1,479L1002.7,479.3L1006.4,479.6L1010.1,480L1013.7,480.3L1017.4,480.7L1021.1,481L1024.7,481.4L1028.4,481.7L1032.1,482.1L1035.7,482.5L1039.4,482.8L1043.1,483.2L1046.7,483.6L1050.4,484L1054,484.4L1057.7,484.8L1061.4,485.2L1065,485.6L1068.7,486.1L1072.4,486.5L1076,486.9L1079.7,487.4L1083.4,487.8L1087,488.2L1090.7,488.7L1094.4,489.1L1098,489.6L1101.7,490L1105.4,490.5L1109,490.9L1112.7,491.4L1116.4,491.9L1120,492.3L1123.7,492.8L1127.3,493.3L1131,493.7L1134.7,494.2L1138.3,494.7L1142,495.2L1145.7,495.7L1149.3,496.1L1153,496.6L1156.7,497.1L1160.3,497.6L1164,498.1L1167.7,498.5L1171.3,499L1175,499.5L1178.7,500L1182.3,500.5L1186,500.9L1189.7,501.4L1193.3,501.9L1197,502.4L1200.6,502.9L1204.3,503.3L1208,503.8L1211.6,504.3L1215.3,504.8L1219,505.2L1222.6,505.7L1226.3,506.2L1230,506.6L1233.6,507.1L1237.3,507.5L1241,508L1244.6,508.5L1248.3,508.9L1252,509.4L1255.6,509.8L1259.3,510.3L1262.9,510.7L1266.6,511.1L1270.3,511.6L1273.9,512L1277.6,512.5L1281.3,512.9L1284.9,513.3L1288.6,513.7L1292.3,514.1L1295.9,514.6L1299.6,515L1303.3,515.4L1306.9,515.8L1310.6,516.2L1314.3,516.6L1317.9,517L1321.6,517.4L1325.3,517.8L1328.9,518.1L1332.6,518.5L1336.2,518.9L1339.9,519.3L1343.6,519.6L1347.2,520L1350.9,520.3L1354.6,520.7L1358.2,521L1361.9,521.4L1365.6,521.7L1369.2,522.1L1372.9,522.4L1376.6,522.7L1380.2,523.1L1383.9,523.4L1387.6,523.7L1391.2,524L1394.9,524.3L1398.5,524.6L1402.2,524.9L1405.9,525.2L1409.5,525.5L1413.2,525.8L1416.9,526.1L1420.5,526.4L1424.2,526.6L1427.9,526.9L1431.5,527.2L1435.2,527.4L1438.9,527.7L1442.5,527.9L1446.2,528.2L1449.9,528.4L1453.5,528.7L1457.2,528.9L1460.9,529.1L1464.5,529.4L1468.2,529.6L1471.8,529.8L1475.5,530L1479.2,530.3L1482.8,530.5L1486.5,530.7L1490.2,530.9L1493.8,531.1L1497.5,531.3L1501.2,531.5L1504.8,531.7L1508.5,531.8L1512.2,532L1515.8,532.2L1519.5,532.4L1523.2,532.5L1526.8,532.7L1530.5,532.9L1534.1,533L1537.8,533.2L1541.5,533.4L1545.1,533.5L1548.8,533.7L1552.5,533.8L1556.1,533.9L1559.8,534.1L1563.5,534.2L1567.1,534.4L1570.8,534.5L1574.5,534.6L1578.1,534.7L1581.8,534.9L1585.5,535L1589.1,535.1L1592.8,535.2L1596.5,535.3L1600.1,535.4L1603.8,535.5L1607.4,535.6L1611.1,535.7L1614.8,535.8L1618.4,535.9L1622.1,536L1625.8,536.1L1629.4,536.2L1633.1,536.3L1636.8,536.4L1640.4,536.5L1644.1,536.6L1647.8,536.6L1651.4,536.7L1655.1,536.8L1658.8,536.9L1662.4,536.9L1666.1,537L1669.7,537.1L1673.4,537.1L1677.1,537.2L1680.7,537.3L1684.4,537.3L1688.1,537.4L1691.7,537.5L1695.4,537.5L1699.1,537.6L1702.7,537.6L1706.4,537.7L1710.1,537.7L1713.7,537.8L1717.4,537.8L1721.1,537.9L1724.7,537.9L1728.4,538L1732.1,538L1735.7,538L1739.4,538.1L1743,538.1L1746.7,538.2L1750.4,538.2L1754,538.2L1757.7,538.3L1761.4,538.3L1765,538.3L1768.7,538.4L1772.4,538.4L1776,538.4L1779.7,538.5L1783.4,538.5L1787,538.5L1790.7,538.5L1794.4,538.6L1798,538.6L1801.7,538.6L1805.4,538.6L1809,538.7L1812.7,538.7L1816.3,538.7L1820,538.7L1823.7,538.8L1827.3,538.8L1831,538.8L1834.7,538.8L1838.3,538.8L1842,538.8L1845.7,538.9L1849.3,538.9L1853,538.9L1856.7,538.9L1860.3,538.9L1864,538.9L1867.7,538.9L1871.3,539L1875,539L1878.6,539L1882.3,539L1886,539L1889.6,539L1893.3,539L1897,539L1900.6,539L1904.3,539.1L1908,539.1L1911.6,539.1L1915.3,539.1L1919,539.1L1922.6,539.1L1926.3,539.1L1930,539.1L1933.6,539.1L1937.3,539.1L1941,539.1L1944.6,539.1L1948.3,539.2L1951.9,539.2L1955.6,539.2L1959.3,539.2L1962.9,539.2L1966.6,539.2L1970.3,539.2L1973.9,539.2L1977.6,539.2" stroke="#CD2626" stroke-dasharray="18.9 18.9"/>
<path d="M881.8,342.7L885.5,342.7L889.1,342.6L892.8,342.5L896.5,342.5L900.1,342.3L903.8,342.2L907.5,342.1L911.1,341.9L914.8,341.7L918.4,341.6L922.1,341.4L925.8,341.1L929.4,340.9L933.1,340.7L936.8,340.4L940.4,340.2L944.1,339.9L947.8,339.6L951.4,339.3L955.1,339L958.8,338.7L962.4,338.3L966.1,338L969.8,337.7L973.4,337.3L977.1,336.9L980.8,336.6L984.4,336.2L988.1,335.8L991.7,335.4L995.4,335L999.1,334.6L1002.7,334.2L1006.4,333.8L1010.1,333.4L1013.7,332.9L1017.4,332.5L1021.1,332L1024.7,331.6L1028.4,331.2L1032.1,330.7L1035.7,330.3L1039.4,329.8L1043.1,329.3L1046.7,328.9L1050.4,328.4L1054,328L1057.7,327.5L1061.4,327L1065,326.6L1068.7,326.1L1072.4,325.7L1076,325.2L1079.7,324.8L1083.4,324.3L1087,323.8L1090.7,323.4L1094.4,323L1098,322.5L1101.7,322.1L1105.4,321.7L1109,321.2L1112.7,320.8L1116.4,320.4L1120,320L1123.7,319.6L1127.3,319.2L1131,318.8L1134.7,318.4L1138.3,318L1142,317.7L1145.7,317.3L1149.3,317L1153,316.6L1156.7,316.3L1160.3,316L1164,315.7L1167.7,315.4L1171.3,315.1L1175,314.8L1178.7,314.5L1182.3,314.3L1186,314L1189.7,313.8L1193.3,313.5L1197,313.3L1200.6,313.1L1204.3,312.9L1208,312.7L1211.6,312.5L1215.3,312.3L1219,312.1L1222.6,312L1226.3,311.8L1230,311.7L1233.6,311.6L1237.3,311.4L1241,311.3L1244.6,311.2L1248.3,311.2L1252,311.1L1255.6,311L1259.3,311L1262.9,310.9L1266.6,310.9L1270.3,310.9L1273.9,310.9L1277.6,310.9L1281.3,310.9L1284.9,310.9L1288.6,311L1292.3,311L1295.9,311.1L1299.6,311.1L1303.3,311.2L1306.9,311.3L1310.6,311.4L1314.3,311.5L1317.9,311.6L1321.6,311.7L1325.3,311.9L1328.9,312L1332.6,312.2L1336.2,312.3L1339.9,312.5L1343.6,312.7L1347.2,312.8L1350.9,313L1354.6,313.2L1358.2,313.4L1361.9,313.6L1365.6,313.8L1369.2,314L1372.9,314.3L1376.6,314.5L1380.2,314.7L1383.9,315L1387.6,315.2L1391.2,315.4L1394.9,315.7L1398.5,315.9L1402.2,316.2L1405.9,316.4L1409.5,316.7L1413.2,317L1416.9,317.2L1420.5,317.5L1424.2,317.8L1427.9,318L1431.5,318.3L1435.2,318.6L1438.9,318.9L1442.5,319.1L1446.2,319.4L1449.9,319.7L1453.5,320L1457.2,320.3L1460.9,320.6L1464.5,320.9L1468.2,321.1L1471.8,321.4L1475.5,321.7L1479.2,322L1482.8,322.3L1486.5,322.6L1490.2,322.9L1493.8,323.2L1497.5,323.5L1501.2,323.8L1504.8,324.1L1508.5,324.4L1512.2,324.7L1515.8,325L1519.5,325.3L1523.2,325.6L1526.8,325.9L1530.5,326.2L1534.1,326.5L1537.8,326.8L1541.5,327.1L1545.1,327.4L1548.8,327.7L1552.5,328L1556.1,328.3L1559.8,328.5L1563.5,328.8L1567.1,329.1L1570.8,329.4L1574.5,329.7L1578.1,330L1581.8,330.3L1585.5,330.5L1589.1,330.8L1592.8,331.1L1596.5,331.4L1600.1,331.6L1603.8,331.9L1607.4,332.2L1611.1,332.4L1614.8,332.7L1618.4,332.9L1622.1,333.2L1625.8,333.4L1629.4,333.7L1633.1,333.9L1636.8,334.2L1640.4,334.4L1644.1,334.6L1647.8,334.9L1651.4,335.1L1655.1,335.3L1658.8,335.5L1662.4,335.8L1666.1,336L1669.7,336.2L1673.4,336.4L1677.1,336.6L1680.7,336.8L1684.4,337L1688.1,337.1L1691.7,337.3L1695.4,337.5L1699.1,337.7L1702.7,337.8L1706.4,338L1710.1,338.1L1713.7,338.3L1717.4,338.4L1721.1,338.6L1724.7,338.7L1728.4,338.8L1732.1,339L1735.7,339.1L1739.4,339.2L1743,339.3L1746.7,339.4L1750.4,339.5L1754,339.6L1757.7,339.7L1761.4,339.8L1765,339.9L1768.7,340L1772.4,340.1L1776,340.1L1779.7,340.2L1783.4,340.3L1787,340.4L1790.7,340.4L1794.4,340.5L1798,340.5L1801.7,340.6L1805.4,340.7L1809,340.7L1812.7,340.8L1816.3,340.8L1820,340.9L1823.7,340.9L1827.3,341L1831,341L1834.7,341.1L1838.3,341.1L1842,341.2L1845.7,341.2L1849.3,341.2L1853,341.3L1856.7,341.3L1860.3,341.4L1864,341.4L1867.7,341.4L1871.3,341.5L1875,341.5L1878.6,341.6L1882.3,341.6L1886,341.6L1889.6,341.7L1893.3,341.7L1897,341.8L1900.6,341.8L1904.3,341.8L1908,341.9L1911.6,341.9L1915.3,342L1919,342L1922.6,342L1926.3,342.1L1930,342.1L1933.6,342.2L1937.3,342.2L1941,342.2L1944.6,342.3L1948.3,342.3L1951.9,342.4L1955.6,342.4L1959.3,342.5L1962.9,342.5L1966.6,342.6L1970.3,342.6L1973.9,342.7L1977.6,342.7" stroke="#CD2626" stroke-dasharray="18.9 18.9"/>
<path d="M881.8,276.6L885.5,276.6L889.1,276.7L892.8,276.7L896.5,276.9L900.1,277L903.8,277.1L907.5,277.3L911.1,277.5L914.8,277.8L918.4,278L922.1,278.3L925.8,278.6L929.4,278.9L933.1,279.2L936.8,279.5L940.4,279.9L944.1,280.3L947.8,280.7L951.4,281.1L955.1,281.6L958.8,282L962.4,282.5L966.1,283L969.8,283.5L973.4,284L977.1,284.5L980.8,285.1L984.4,285.7L988.1,286.2L991.7,286.8L995.4,287.4L999.1,288L1002.7,288.7L1006.4,289.3L1010.1,290L1013.7,290.6L1017.4,291.3L1021.1,292L1024.7,292.7L1028.4,293.4L1032.1,294.1L1035.7,294.8L1039.4,295.5L1043.1,296.2L1046.7,296.9L1050.4,297.6L1054,298.4L1057.7,299.1L1061.4,299.8L1065,300.6L1068.7,301.3L1072.4,302.1L1076,302.8L1079.7,303.6L1083.4,304.3L1087,305.1L1090.7,305.8L1094.4,306.6L1098,307.3L1101.7,308.1L1105.4,308.8L1109,309.6L1112.7,310.3L1116.4,311.1L1120,311.8L1123.7,312.6L1127.3,313.3L1131,314.1L1134.7,314.8L1138.3,315.6L1142,316.3L1145.7,317L1149.3,317.7L1153,318.4L1156.7,319.2L1160.3,319.9L1164,320.6L1167.7,321.2L1171.3,321.9L1175,322.6L1178.7,323.3L1182.3,324L1186,324.6L1189.7,325.3L1193.3,325.9L1197,326.6L1200.6,327.2L1204.3,327.9L1208,328.5L1211.6,329.1L1215.3,329.8L1219,330.4L1222.6,331L1226.3,331.6L1230,332.2L1233.6,332.7L1237.3,333.3L1241,333.9L1244.6,334.5L1248.3,335L1252,335.6L1255.6,336.1L1259.3,336.7L1262.9,337.2L1266.6,337.7L1270.3,338.2L1273.9,338.7L1277.6,339.2L1281.3,339.7L1284.9,340.2L1288.6,340.7L1292.3,341.2L1295.9,341.6L1299.6,342.1L1303.3,342.5L1306.9,343L1310.6,343.4L1314.3,343.8L1317.9,344.3L1321.6,344.7L1325.3,345.1L1328.9,345.4L1332.6,345.8L1336.2,346.2L1339.9,346.6L1343.6,346.9L1347.2,347.3L1350.9,347.6L1354.6,347.9L1358.2,348.3L1361.9,348.6L1365.6,348.9L1369.2,349.2L1372.9,349.5L1376.6,349.7L1380.2,350L1383.9,350.2L1387.6,350.5L1391.2,350.7L1394.9,351L1398.5,351.2L1402.2,351.4L1405.9,351.6L1409.5,351.8L1413.2,351.9L1416.9,352.1L1420.5,352.3L1424.2,352.4L1427.9,352.5L1431.5,352.7L1435.2,352.8L1438.9,352.9L1442.5,353L1446.2,353.1L1449.9,353.2L1453.5,353.3L1457.2,353.3L1460.9,353.4L1464.5,353.4L1468.2,353.5L1471.8,353.5L1475.5,353.6L1479.2,353.6L1482.8,353.6L1486.5,353.6L1490.2,353.6L1493.8,353.6L1497.5,353.6L1501.2,353.6L1504.8,353.6L1508.5,353.5L1512.2,353.5L1515.8,353.5L1519.5,353.4L1523.2,353.4L1526.8,353.3L1530.5,353.2L1534.1,353.2L1537.8,353.1L1541.5,353L1545.1,352.9L1548.8,352.8L1552.5,352.8L1556.1,352.7L1559.8,352.6L1563.5,352.5L1567.1,352.4L1570.8,352.2L1574.5,352.1L1578.1,352L1581.8,351.9L1585.5,351.8L1589.1,351.6L1592.8,351.5L1596.5,351.4L1600.1,351.2L1603.8,351.1L1607.4,351L1611.1,350.8L1614.8,350.7L1618.4,350.5L1622.1,350.4L1625.8,350.2L1629.4,350.1L1633.1,349.9L1636.8,349.8L1640.4,349.6L1644.1,349.5L1647.8,349.3L1651.4,349.1L1655.1,349L1658.8,348.8L1662.4,348.7L1666.1,348.5L1669.7,348.4L1673.4,348.2L1677.1,348.1L1680.7,347.9L1684.4,347.7L1688.1,347.6L1691.7,347.4L1695.4,347.3L1699.1,347.2L1702.7,347L1706.4,346.9L1710.1,346.7L1713.7,346.6L1717.4,346.5L1721.1,346.3L1724.7,346.2L1728.4,346.1L1732.1,346L1735.7,345.8L1739.4,345.7L1743,345.6L1746.7,345.5L1750.4,345.4L1754,345.3L1757.7,345.2L1761.4,345.1L1765,345L1768.7,344.9L1772.4,344.8L1776,344.7L1779.7,344.6L1783.4,344.5L1787,344.4L1790.7,344.4L1794.4,344.3L1798,344.2L1801.7,344.1L1805.4,344L1809,344L1812.7,343.9L1816.3,343.8L1820,343.8L1823.7,343.7L1827.3,343.7L1831,343.6L1834.7,343.5L1838.3,343.5L1842,343.4L1845.7,343.4L1849.3,343.3L1853,343.3L1856.7,343.3L1860.3,343.2L1864,343.2L1867.7,343.1L1871.3,343.1L1875,343.1L1878.6,343L1882.3,343L1886,343L1889.6,342.9L1893.3,342.9L1897,342.9L1900.6,342.8L1904.3,342.8L1908,342.8L1911.6,342.8L1915.3,342.8L1919,342.7L1922.6,342.7L1926.3,342.7L1930,342.7L1933.6,342.7L1937.3,342.7L1941,342.6L1944.6,342.6L1948.3,342.6L1951.9,342.6L1955.6,342.6L1959.3,342.6L1962.9,342.6L1966.6,342.6L1970.3,342.6L1973.9,342.6L1977.6,342.6" stroke="#CD2626" stroke-dasharray="18.9 18.9"/>
<path d="M881.8,145.3L885.5,145.4L889.1,145.4L892.8,145.3L896.5,145.3L900.1,145.2L903.8,145L907.5,144.9L911.1,144.6L914.8,144.4L918.4,144.1L922.1,143.8L925.8,143.5L929.4,143.1L933.1,142.8L936.8,142.3L940.4,141.9L944.1,141.4L947.8,141L951.4,140.5L955.1,139.9L958.8,139.4L962.4,138.9L966.1,138.3L969.8,137.7L973.4,137.1L977.1,136.5L980.8,135.9L984.4,135.2L988.1,134.6L991.7,134L995.4,133.3L999.1,132.6L1002.7,132L1006.4,131.3L1010.1,130.6L1013.7,129.9L1017.4,129.2L1021.1,128.5L1024.7,127.8L1028.4,127.1L1032.1,126.4L1035.7,125.7L1039.4,125L1043.1,124.4L1046.7,123.7L1050.4,123L1054,122.4L1057.7,121.8L1061.4,121.1L1065,120.5L1068.7,119.9L1072.4,119.3L1076,118.7L1079.7,118.1L1083.4,117.6L1087,117L1090.7,116.5L1094.4,116L1098,115.5L1101.7,115L1105.4,114.5L1109,114L1112.7,113.6L1116.4,113.1L1120,112.7L1123.7,112.3L1127.3,111.9L1131,111.5L1134.7,111.1L1138.3,110.8L1142,110.5L1145.7,110.2L1149.3,109.9L1153,109.6L1156.7,109.4L1160.3,109.1L1164,108.9L1167.7,108.7L1171.3,108.5L1175,108.4L1178.7,108.3L1182.3,108.2L1186,108.1L1189.7,108L1193.3,108L1197,107.9L1200.6,108L1204.3,108L1208,108L1211.6,108.1L1215.3,108.2L1219,108.4L1222.6,108.5L1226.3,108.7L1230,109L1233.6,109.2L1237.3,109.5L1241,109.8L1244.6,110.1L1248.3,110.5L1252,110.9L1255.6,111.3L1259.3,111.7L1262.9,112.2L1266.6,112.7L1270.3,113.2L1273.9,113.8L1277.6,114.3L1281.3,114.9L1284.9,115.5L1288.6,116.1L1292.3,116.7L1295.9,117.3L1299.6,118L1303.3,118.6L1306.9,119.3L1310.6,119.9L1314.3,120.6L1317.9,121.3L1321.6,122L1325.3,122.7L1328.9,123.4L1332.6,124.1L1336.2,124.8L1339.9,125.5L1343.6,126.2L1347.2,126.9L1350.9,127.6L1354.6,128.3L1358.2,129L1361.9,129.7L1365.6,130.4L1369.2,131.1L1372.9,131.8L1376.6,132.5L1380.2,133.1L1383.9,133.8L1387.6,134.5L1391.2,135.1L1394.9,135.8L1398.5,136.4L1402.2,137.1L1405.9,137.7L1409.5,138.4L1413.2,139L1416.9,139.7L1420.5,140.3L1424.2,140.9L1427.9,141.5L1431.5,142.1L1435.2,142.7L1438.9,143.3L1442.5,143.9L1446.2,144.5L1449.9,145L1453.5,145.6L1457.2,146.1L1460.9,146.7L1464.5,147.2L1468.2,147.7L1471.8,148.2L1475.5,148.7L1479.2,149.2L1482.8,149.6L1486.5,150.1L1490.2,150.5L1493.8,151L1497.5,151.4L1501.2,151.8L1504.8,152.3L1508.5,152.7L1512.2,153.1L1515.8,153.4L1519.5,153.8L1523.2,154.2L1526.8,154.5L1530.5,154.9L1534.1,155.2L1537.8,155.5L1541.5,155.9L1545.1,156.2L1548.8,156.5L1552.5,156.7L1556.1,157L1559.8,157.3L1563.5,157.5L1567.1,157.8L1570.8,158L1574.5,158.3L1578.1,158.5L1581.8,158.7L1585.5,158.9L1589.1,159.1L1592.8,159.3L1596.5,159.4L1600.1,159.6L1603.8,159.7L1607.4,159.9L1611.1,160L1614.8,160.1L1618.4,160.3L1622.1,160.4L1625.8,160.5L1629.4,160.5L1633.1,160.6L1636.8,160.7L1640.4,160.7L1644.1,160.8L1647.8,160.8L1651.4,160.8L1655.1,160.9L1658.8,160.9L1662.4,160.9L1666.1,160.9L1669.7,160.8L1673.4,160.8L1677.1,160.8L1680.7,160.7L1684.4,160.7L1688.1,160.6L1691.7,160.6L1695.4,160.5L1699.1,160.4L1702.7,160.3L1706.4,160.2L1710.1,160.1L1713.7,160L1717.4,159.9L1721.1,159.8L1724.7,159.7L1728.4,159.6L1732.1,159.4L1735.7,159.3L1739.4,159.2L1743,159L1746.7,158.9L1750.4,158.7L1754,158.6L1757.7,158.4L1761.4,158.2L1765,158.1L1768.7,157.9L1772.4,157.7L1776,157.5L1779.7,157.4L1783.4,157.2L1787,157L1790.7,156.8L1794.4,156.6L1798,156.4L1801.7,156.2L1805.4,156L1809,155.9L1812.7,155.7L1816.3,155.5L1820,155.3L1823.7,155.1L1827.3,154.9L1831,154.7L1834.7,154.5L1838.3,154.3L1842,154.1L1845.7,153.9L1849.3,153.7L1853,153.5L1856.7,153.3L1860.3,153.1L1864,152.9L1867.7,152.7L1871.3,152.6L1875,152.4L1878.6,152.2L1882.3,152L1886,151.8L1889.6,151.7L1893.3,151.5L1897,151.3L1900.6,151.2L1904.3,151L1908,150.9L1911.6,150.7L1915.3,150.6L1919,150.4L1922.6,150.3L1926.3,150.2L1930,150L1933.6,149.9L1937.3,149.8L1941,149.7L1944.6,149.6L1948.3,149.5L1951.9,149.4L1955.6,149.3L1959.3,149.2L1962.9,149.1L1966.6,149.1L1970.3,149L1973.9,149L1977.6,148.9" stroke="#CD2626" stroke-dasharray="18.9 18.9"/>
<path d="M881.8,79.6L885.5,79.6L889.1,79.8L892.8,79.9L896.5,80.1L900.1,80.3L903.8,80.6L907.5,80.9L911.1,81.2L914.8,81.6L918.4,82L922.1,82.4L925.8,82.8L929.4,83.3L933.1,83.8L936.8,84.4L940.4,84.9L944.1,85.5L947.8,86.1L951.4,86.8L955.1,87.5L958.8,88.1L962.4,88.8L966.1,89.6L969.8,90.3L973.4,91.1L977.1,91.9L980.8,92.7L984.4,93.5L988.1,94.3L991.7,95.1L995.4,96L999.1,96.9L1002.7,97.7L1006.4,98.6L1010.1,99.5L1013.7,100.4L1017.4,101.3L1021.1,102.3L1024.7,103.2L1028.4,104L1032.1,104.9L1035.7,105.8L1039.4,106.7L1043.1,107.5L1046.7,108.4L1050.4,109.3L1054,110.2L1057.7,111L1061.4,111.9L1065,112.8L1068.7,113.6L1072.4,114.5L1076,115.3L1079.7,116.2L1083.4,117L1087,117.8L1090.7,118.7L1094.4,119.5L1098,120.3L1101.7,121.1L1105.4,121.9L1109,122.7L1112.7,123.5L1116.4,124.2L1120,125L1123.7,125.7L1127.3,126.5L1131,127.2L1134.7,127.9L1138.3,128.6L1142,129.3L1145.7,130L1149.3,130.6L1153,131.3L1156.7,131.9L1160.3,132.5L1164,133.1L1167.7,133.7L1171.3,134.3L1175,134.8L1178.7,135.4L1182.3,135.9L1186,136.4L1189.7,136.8L1193.3,137.3L1197,137.7L1200.6,138.2L1204.3,138.6L1208,138.9L1211.6,139.3L1215.3,139.6L1219,139.9L1222.6,140.2L1226.3,140.5L1230,140.7L1233.6,140.9L1237.3,141.1L1241,141.3L1244.6,141.4L1248.3,141.5L1252,141.6L1255.6,141.6L1259.3,141.7L1262.9,141.7L1266.6,141.7L1270.3,141.7L1273.9,141.6L1277.6,141.6L1281.3,141.5L1284.9,141.4L1288.6,141.3L1292.3,141.2L1295.9,141L1299.6,140.8L1303.3,140.7L1306.9,140.5L1310.6,140.3L1314.3,140L1317.9,139.8L1321.6,139.6L1325.3,139.3L1328.9,139L1332.6,138.7L1336.2,138.4L1339.9,138.1L1343.6,137.8L1347.2,137.5L1350.9,137.2L1354.6,136.8L1358.2,136.5L1361.9,136.2L1365.6,135.8L1369.2,135.4L1372.9,135.1L1376.6,134.7L1380.2,134.3L1383.9,134L1387.6,133.6L1391.2,133.2L1394.9,132.8L1398.5,132.4L1402.2,132L1405.9,131.7L1409.5,131.3L1413.2,130.9L1416.9,130.5L1420.5,130.1L1424.2,129.8L1427.9,129.4L1431.5,129L1435.2,128.7L1438.9,128.3L1442.5,128L1446.2,127.7L1449.9,127.4L1453.5,127L1457.2,126.7L1460.9,126.5L1464.5,126.2L1468.2,125.9L1471.8,125.7L1475.5,125.4L1479.2,125.2L1482.8,125L1486.5,124.8L1490.2,124.6L1493.8,124.5L1497.5,124.3L1501.2,124.2L1504.8,124.1L1508.5,123.9L1512.2,123.8L1515.8,123.7L1519.5,123.7L1523.2,123.6L1526.8,123.5L1530.5,123.5L1534.1,123.4L1537.8,123.4L1541.5,123.4L1545.1,123.4L1548.8,123.4L1552.5,123.4L1556.1,123.4L1559.8,123.4L1563.5,123.4L1567.1,123.5L1570.8,123.5L1574.5,123.6L1578.1,123.7L1581.8,123.7L1585.5,123.8L1589.1,123.9L1592.8,124L1596.5,124.1L1600.1,124.2L1603.8,124.3L1607.4,124.5L1611.1,124.6L1614.8,124.7L1618.4,124.9L1622.1,125L1625.8,125.2L1629.4,125.4L1633.1,125.6L1636.8,125.7L1640.4,125.9L1644.1,126.1L1647.8,126.3L1651.4,126.6L1655.1,126.8L1658.8,127L1662.4,127.2L1666.1,127.5L1669.7,127.7L1673.4,128L1677.1,128.2L1680.7,128.5L1684.4,128.7L1688.1,129L1691.7,129.2L1695.4,129.5L1699.1,129.8L1702.7,130L1706.4,130.3L1710.1,130.6L1713.7,130.9L1717.4,131.1L1721.1,131.4L1724.7,131.7L1728.4,132L1732.1,132.3L1735.7,132.5L1739.4,132.8L1743,133.1L1746.7,133.4L1750.4,133.6L1754,133.9L1757.7,134.2L1761.4,134.4L1765,134.7L1768.7,135L1772.4,135.2L1776,135.5L1779.7,135.7L1783.4,136L1787,136.2L1790.7,136.5L1794.4,136.7L1798,136.9L1801.7,137.2L1805.4,137.4L1809,137.6L1812.7,137.8L1816.3,138L1820,138.2L1823.7,138.5L1827.3,138.7L1831,138.8L1834.7,139L1838.3,139.2L1842,139.4L1845.7,139.6L1849.3,139.8L1853,139.9L1856.7,140.1L1860.3,140.2L1864,140.4L1867.7,140.6L1871.3,140.7L1875,140.8L1878.6,141L1882.3,141.1L1886,141.2L1889.6,141.4L1893.3,141.5L1897,141.6L1900.6,141.7L1904.3,141.9L1908,142L1911.6,142.1L1915.3,142.2L1919,142.3L1922.6,142.4L1926.3,142.5L1930,142.6L1933.6,142.7L1937.3,142.8L1941,142.9L1944.6,143L1948.3,143.1L1951.9,143.2L1955.6,143.3L1959.3,143.4L1962.9,143.4L1966.6,143.5L1970.3,143.6L1973.9,143.7L1977.6,143.8" stroke="#CD2626" stroke-dasharray="18.9 18.9"/>
<path d="M881.8,539.3L885.5,539.3L889.1,539.3L892.8,539.3L896.5,539.3L900.1,539.3L903.8,539.3L907.5,539.3L911.1,539.3L914.8,539.3L918.4,539.3L922.1,539.3L925.8,539.3L929.4,539.3L933.1,539.3L936.8,539.3L940.4,539.3L944.1,539.3L947.8,539.3L951.4,539.3L955.1,539.3L958.8,539.3L962.4,539.3L966.1,539.3L969.8,539.3L973.4,539.3L977.1,539.3L980.8,539.3L984.4,539.3L988.1,539.3L991.7,539.3L995.4,539.3L999.1,539.3L1002.7,539.3L1006.4,539.3L1010.1,539.3L1013.7,539.3L1017.4,539.3L1021.1,539.3L1024.7,539.3L1028.4,539.3L1032.1,539.3L1035.7,539.3L1039.4,539.3L1043.1,539.3L1046.7,539.3L1050.4,539.3L1054,539.3L1057.7,539.3L1061.4,539.3L1065,539.3L1068.7,539.3L1072.4,539.3L1076,539.3L1079.7,539.3L1083.4,539.3L1087,539.3L1090.7,539.3L1094.4,539.3L1098,539.3L1101.7,539.3L1105.4,539.3L1109,539.3L1112.7,539.3L1116.4,539.3L1120,539.3L1123.7,539.3L1127.3,539.3L1131,539.3L1134.7,539.3L1138.3,539.3L1142,539.3L1145.7,539.3L1149.3,539.3L1153,539.3L1156.7,539.3L1160.3,539.3L1164,539.3L1167.7,539.3L1171.3,539.3L1175,539.3L1178.7,539.3L1182.3,539.3L1186,539.3L1189.7,539.3L1193.3,539.3L1197,539.3L1200.6,539.3L1204.3,539.3L1208,539.3L1211.6,539.3L1215.3,539.3L1219,539.3L1222.6,539.3L1226.3,539.3L1230,539.3L1233.6,539.3L1237.3,539.3L1241,539.3L1244.6,539.3L1248.3,539.3L1252,539.3L1255.6,539.3L1259.3,539.3L1262.9,539.3L1266.6,539.3L1270.3,539.3L1273.9,539.3L1277.6,539.3L1281.3,539.3L1284.9,539.3L1288.6,539.3L1292.3,539.3L1295.9,539.3L1299.6,539.3L1303.3,539.3L1306.9,539.3L1310.6,539.3L1314.3,539.3L1317.9,539.3L1321.6,539.3L1325.3,539.3L1328.9,539.3L1332.6,539.3L1336.2,539.3L1339.9,539.3L1343.6,539.3L1347.2,539.3L1350.9,539.3L1354.6,539.3L1358.2,539.3L1361.9,539.3L1365.6,539.3L1369.2,539.3L1372.9,539.3L1376.6,539.3L1380.2,539.3L1383.9,539.3L1387.6,539.3L1391.2,539.3L1394.9,539.3L1398.5,539.3L1402.2,539.3L1405.9,539.3L1409.5,539.3L1413.2,539.3L1416.9,539.3L1420.5,539.3L1424.2,539.3L1427.9,539.3L1431.5,539.3L1435.2,539.3L1438.9,539.3L1442.5,539.3L1446.2,539.3L1449.9,539.3L1453.5,539.3L1457.2,539.3L1460.9,539.3L1464.5,539.3L1468.2,539.3L1471.8,539.3L1475.5,539.3L1479.2,539.3L1482.8,539.3L1486.5,539.3L1490.2,539.3L1493.8,539.3L1497.5,539.3L1501.2,539.3L1504.8,539.3L1508.5,539.3L1512.2,539.3L1515.8,539.3L1519.5,539.3L1523.2,539.3L1526.8,539.3L1530.5,539.3L1534.1,539.3L1537.8,539.3L1541.5,539.3L1545.1,539.3L1548.8,539.3L1552.5,539.3L1556.1,539.3L1559.8,539.3L1563.5,539.3L1567.1,539.3L1570.8,539.3L1574.5,539.3L1578.1,539.3L1581.8,539.3L1585.5,539.3L1589.1,539.3L1592.8,539.3L1596.5,539.3L1600.1,539.3L1603.8,539.3L1607.4,539.3L1611.1,539.3L1614.8,539.3L1618.4,539.3L1622.1,539.3L1625.8,539.3L1629.4,539.3L1633.1,539.3L1636.8,539.3L1640.4,539.3L1644.1,539.3L1647.8,539.3L1651.4,539.3L1655.1,539.3L1658.8,539.3L1662.4,539.3L1666.1,539.3L1669.7,539.3L1673.4,539.3L1677.1,539.3L1680.7,539.3L1684.4,539.3L1688.1,539.3L1691.7,539.3L1695.4,539.3L1699.1,539.3L1702.7,539.3L1706.4,539.3L1710.1,539.3L1713.7,539.3L1717.4,539.3L1721.1,539.3L1724.7,539.3L1728.4,539.3L1732.1,539.3L1735.7,539.3L1739.4,539.3L1743,539.3L1746.7,539.3L1750.4,539.3L1754,539.3L1757.7,539.3L1761.4,539.3L1765,539.3L1768.7,539.3L1772.4,539.3L1776,539.3L1779.7,539.3L1783.4,539.3L1787,539.3L1790.7,539.3L1794.4,539.3L1798,539.3L1801.7,539.3L1805.4,539.3L1809,539.3L1812.7,539.3L1816.3,539.3L1820,539.3L1823.7,539.3L1827.3,539.3L1831,539.3L1834.7,539.3L1838.3,539.3L1842,539.3L1845.7,539.3L1849.3,539.3L1853,539.3L1856.7,539.3L1860.3,539.3L1864,539.3L1867.7,539.3L1871.3,539.3L1875,539.3L1878.6,539.3L1882.3,539.3L1886,539.3L1889.6,539.3L1893.3,539.3L1897,539.3L1900.6,539.3L1904.3,539.3L1908,539.3L1911.6,539.3L1915.3,539.3L1919,539.3L1922.6,539.3L1926.3,539.3L1930,539.3L1933.6,539.3L1937.3,539.3L1941,539.3L1944.6,539.3L1948.3,539.3L1951.9,539.3L1955.6,539.3L1959.3,539.3L1962.9,539.3L1966.6,539.3L1970.3,539.3L1973.9,539.3L1977.6,539.3" stroke="#7CCD7C" stroke-dasharray="18.9 18.9 6.3 18.9"/>
<path d="M881.8,473.7L885.5,473.7L889.1,473.7L892.8,473.7L896.5,473.8L900.1,473.8L903.8,473.9L907.5,474L911.1,474.1L914.8,474.1L918.4,474.3L922.1,474.4L925.8,474.5L929.4,474.6L933.1,474.8L936.8,474.9L940.4,475.1L944.1,475.3L947.8,475.5L951.4,475.7L955.1,475.9L958.8,476.1L962.4,476.3L966.1,476.5L969.8,476.8L973.4,477L977.1,477.3L980.8,477.6L984.4,477.8L988.1,478.1L991.7,478.4L995.4,478.7L999.1,479L1002.7,479.3L1006.4,479.6L1010.1,480L1013.7,480.3L1017.4,480.7L1021.1,481L1024.7,481.4L1028.4,481.7L1032.1,482.1L1035.7,482.5L1039.4,482.8L1043.1,483.2L1046.7,483.6L1050.4,484L1054,484.4L1057.7,484.8L1061.4,485.2L1065,485.6L1068.7,486.1L1072.4,486.5L1076,486.9L1079.7,487.4L1083.4,487.8L1087,488.2L1090.7,488.7L1094.4,489.1L1098,489.6L1101.7,490L1105.4,490.5L1109,490.9L1112.7,491.4L1116.4,491.9L1120,492.3L1123.7,492.8L1127.3,493.3L1131,493.7L1134.7,494.2L1138.3,494.7L1142,495.2L1145.7,495.7L1149.3,496.1L1153,496.6L1156.7,497.1L1160.3,497.6L1164,498.1L1167.7,498.5L1171.3,499L1175,499.5L1178.7,500L1182.3,500.5L1186,500.9L1189.7,501.4L1193.3,501.9L1197,502.4L1200.6,502.9L1204.3,503.3L1208,503.8L1211.6,504.3L1215.3,504.8L1219,505.2L1222.6,505.7L1226.3,506.2L1230,506.6L1233.6,507.1L1237.3,507.5L1241,508L1244.6,508.5L1248.3,508.9L1252,509.4L1255.6,509.8L1259.3,510.3L1262.9,510.7L1266.6,511.1L1270.3,511.6L1273.9,512L1277.6,512.5L1281.3,512.9L1284.9,513.3L1288.6,513.7L1292.3,514.1L1295.9,514.6L1299.6,515L1303.3,515.4L1306.9,515.8L1310.6,516.2L1314.3,516.6L1317.9,517L1321.6,517.4L1325.3,517.8L1328.9,518.1L1332.6,518.5L1336.2,518.9L1339.9,519.3L1343.6,519.6L1347.2,520L1350.9,520.3L1354.6,520.7L1358.2,521L1361.9,521.4L1365.6,521.7L1369.2,522.1L1372.9,522.4L1376.6,522.7L1380.2,523.1L1383.9,523.4L1387.6,523.7L1391.2,524L1394.9,524.3L1398.5,524.6L1402.2,524.9L1405.9,525.2L1409.5,525.5L1413.2,525.8L1416.9,526.1L1420.5,526.4L1424.2,526.6L1427.9,526.9L1431.5,527.2L1435.2,527.4L1438.9,527.7L1442.5,527.9L1446.2,528.2L1449.9,528.4L1453.5,528.7L1457.2,528.9L1460.9,529.1L1464.5,529.4L1468.2,529.6L1471.8,529.8L1475.5,530L1479.2,530.3L1482.8,530.5L1486.5,530.7L1490.2,530.9L1493.8,531.1L1497.5,531.3L1501.2,531.5L1504.8,531.7L1508.5,531.8L1512.2,532L1515.8,532.2L1519.5,532.4L1523.2,532.5L1526.8,532.7L1530.5,532.9L1534.1,533L1537.8,533.2L1541.5,533.4L1545.1,533.5L1548.8,533.7L1552.5,533.8L1556.1,533.9L1559.8,534.1L1563.5,534.2L1567.1,534.4L1570.8,534.5L1574.5,534.6L1578.1,534.7L1581.8,534.9L1585.5,535L1589.1,535.1L1592.8,535.2L1596.5,535.3L1600.1,535.4L1603.8,535.5L1607.4,535.6L1611.1,535.7L1614.8,535.8L1618.4,535.9L1622.1,536L1625.8,536.1L1629.4,536.2L1633.1,536.3L1636.8,536.4L1640.4,536.5L1644.1,536.6L1647.8,536.6L1651.4,536.7L1655.1,536.8L1658.8,536.9L1662.4,536.9L1666.1,537L1669.7,537.1L1673.4,537.1L1677.1,537.2L1680.7,537.3L1684.4,537.3L1688.1,537.4L1691.7,537.5L1695.4,537.5L1699.1,537.6L1702.7,537.6L1706.4,537.7L1710.1,537.7L1713.7,537.8L1717.4,537.8L1721.1,537.9L1724.7,537.9L1728.4,538L1732.1,538L1735.7,538L1739.4,538.1L1743,538.1L1746.7,538.2L1750.4,538.2L1754,538.2L1757.7,538.3L1761.4,538.3L1765,538.3L1768.7,538.4L1772.4,538.4L1776,538.4L1779.7,538.5L1783.4,538.5L1787,538.5L1790.7,538.5L1794.4,538.6L1798,538.6L1801.7,538.6L1805.4,538.6L1809,538.7L1812.7,538.7L1816.3,538.7L1820,538.7L1823.7,538.8L1827.3,538.8L1831,538.8L1834.7,538.8L1838.3,538.8L1842,538.8L1845.7,538.9L1849.3,538.9L1853,538.9L1856.7,538.9L1860.3,538.9L1864,538.9L1867.7,538.9L1871.3,539L1875,539L1878.6,539L1882.3,539L1886,539L1889.6,539L1893.3,539L1897,539L1900.6,539L1904.3,539.1L1908,539.1L1911.6,539.1L1915.3,539.1L1919,539.1L1922.6,539.1L1926.3,539.1L1930,539.1L1933.6,539.1L1937.3,539.1L1941,539.1L1944.6,539.1L1948.3,539.2L1951.9,539.2L1955.6,539.2L1959.3,539.2L1962.9,539.2L1966.6,539.2L1970.3,539.2L1973.9,539.2L1977.6,539.2" stroke="#7CCD7C" stroke-dasharray="18.9 18.9 6.3 18.9"/>
<path d="M881.8,342.7L885.5,342.7L889.1,342.6L892.8,342.5L896.5,342.5L900.1,342.3L903.8,342.2L907.5,342.1L911.1,341.9L914.8,341.7L918.4,341.6L922.1,341.4L925.8,341.1L929.4,340.9L933.1,340.7L936.8,340.4L940.4,340.2L944.1,339.9L947.8,339.6L951.4,339.3L955.1,339L958.8,338.7L962.4,338.3L966.1,338L969.8,337.7L973.4,337.3L977.1,336.9L980.8,336.6L984.4,336.2L988.1,335.8L991.7,335.4L995.4,335L999.1,334.6L1002.7,334.2L1006.4,333.8L1010.1,333.4L1013.7,332.9L1017.4,332.5L1021.1,332.1L1024.7,331.6L1028.4,331.2L1032.1,330.8L1035.7,330.3L1039.4,329.9L1043.1,329.4L1046.7,329L1050.4,328.5L1054,328.1L1057.7,327.6L1061.4,327.2L1065,326.7L1068.7,326.3L1072.4,325.8L1076,325.4L1079.7,324.9L1083.4,324.5L1087,324.1L1090.7,323.6L1094.4,323.2L1098,322.8L1101.7,322.4L1105.4,322L1109,321.5L1112.7,321.1L1116.4,320.7L1120,320.4L1123.7,320L1127.3,319.6L1131,319.2L1134.7,318.9L1138.3,318.5L1142,318.2L1145.7,317.8L1149.3,317.5L1153,317.2L1156.7,316.9L1160.3,316.6L1164,316.3L1167.7,316L1171.3,315.7L1175,315.5L1178.7,315.2L1182.3,315L1186,314.8L1189.7,314.5L1193.3,314.3L1197,314.1L1200.6,313.9L1204.3,313.8L1208,313.6L1211.6,313.4L1215.3,313.3L1219,313.1L1222.6,313L1226.3,312.9L1230,312.8L1233.6,312.7L1237.3,312.6L1241,312.5L1244.6,312.5L1248.3,312.4L1252,312.4L1255.6,312.4L1259.3,312.3L1262.9,312.3L1266.6,312.3L1270.3,312.4L1273.9,312.4L1277.6,312.4L1281.3,312.5L1284.9,312.6L1288.6,312.6L1292.3,312.7L1295.9,312.8L1299.6,312.9L1303.3,313L1306.9,313.2L1310.6,313.3L1314.3,313.5L1317.9,313.6L1321.6,313.8L1325.3,314L1328.9,314.2L1332.6,314.3L1336.2,314.6L1339.9,314.8L1343.6,315L1347.2,315.2L1350.9,315.4L1354.6,315.7L1358.2,315.9L1361.9,316.2L1365.6,316.4L1369.2,316.7L1372.9,317L1376.6,317.3L1380.2,317.5L1383.9,317.8L1387.6,318.1L1391.2,318.4L1394.9,318.7L1398.5,319L1402.2,319.3L1405.9,319.6L1409.5,320L1413.2,320.3L1416.9,320.6L1420.5,320.9L1424.2,321.2L1427.9,321.6L1431.5,321.9L1435.2,322.2L1438.9,322.6L1442.5,322.9L1446.2,323.3L1449.9,323.6L1453.5,324L1457.2,324.3L1460.9,324.7L1464.5,325L1468.2,325.4L1471.8,325.7L1475.5,326.1L1479.2,326.5L1482.8,326.8L1486.5,327.2L1490.2,327.6L1493.8,328L1497.5,328.3L1501.2,328.7L1504.8,329.1L1508.5,329.5L1512.2,329.9L1515.8,330.3L1519.5,330.7L1523.2,331.1L1526.8,331.5L1530.5,331.8L1534.1,332.2L1537.8,332.6L1541.5,333L1545.1,333.4L1548.8,333.8L1552.5,334.2L1556.1,334.6L1559.8,335L1563.5,335.4L1567.1,335.7L1570.8,336.1L1574.5,336.5L1578.1,336.9L1581.8,337.3L1585.5,337.7L1589.1,338L1592.8,338.4L1596.5,338.8L1600.1,339.2L1603.8,339.5L1607.4,339.9L1611.1,340.3L1614.8,340.6L1618.4,341L1622.1,341.4L1625.8,341.7L1629.4,342.1L1633.1,342.4L1636.8,342.8L1640.4,343.1L1644.1,343.5L1647.8,343.8L1651.4,344.2L1655.1,344.5L1658.8,344.8L1662.4,345.2L1666.1,345.5L1669.7,345.8L1673.4,346.1L1677.1,346.4L1680.7,346.8L1684.4,347.1L1688.1,347.4L1691.7,347.7L1695.4,348L1699.1,348.2L1702.7,348.5L1706.4,348.8L1710.1,349.1L1713.7,349.4L1717.4,349.6L1721.1,349.9L1724.7,350.1L1728.4,350.4L1732.1,350.6L1735.7,350.9L1739.4,351.1L1743,351.3L1746.7,351.6L1750.4,351.8L1754,352L1757.7,352.2L1761.4,352.4L1765,352.6L1768.7,352.8L1772.4,353L1776,353.2L1779.7,353.4L1783.4,353.6L1787,353.7L1790.7,353.9L1794.4,354.1L1798,354.3L1801.7,354.4L1805.4,354.6L1809,354.7L1812.7,354.9L1816.3,355L1820,355.2L1823.7,355.3L1827.3,355.5L1831,355.6L1834.7,355.7L1838.3,355.9L1842,356L1845.7,356.1L1849.3,356.2L1853,356.4L1856.7,356.5L1860.3,356.6L1864,356.7L1867.7,356.8L1871.3,356.9L1875,357L1878.6,357.1L1882.3,357.2L1886,357.3L1889.6,357.4L1893.3,357.5L1897,357.6L1900.6,357.7L1904.3,357.8L1908,357.9L1911.6,358L1915.3,358.1L1919,358.2L1922.6,358.2L1926.3,358.3L1930,358.4L1933.6,358.5L1937.3,358.6L1941,358.6L1944.6,358.7L1948.3,358.8L1951.9,358.9L1955.6,358.9L1959.3,359L1962.9,359.1L1966.6,359.2L1970.3,359.3L1973.9,359.3L1977.6,359.4" stroke="#7CCD7C" stroke-dasharray="18.9 18.9 6.3 18.9"/>
<path d="M881.8,276.6L885.5,276.6L889.1,276.7L892.8,276.7L896.5,276.9L900.1,277L903.8,277.1L907.5,277.3L911.1,277.5L914.8,277.8L918.4,278L922.1,278.3L925.8,278.6L929.4,278.9L933.1,279.2L936.8,279.5L940.4,279.9L944.1,280.3L947.8,280.7L951.4,281.1L955.1,281.6L958.8,282L962.4,282.5L966.1,283L969.8,283.5L973.4,284L977.1,284.5L980.8,285.1L984.4,285.7L988.1,286.2L991.7,286.8L995.4,287.4L999.1,288L1002.7,288.7L1006.4,289.3L1010.1,290L1013.7,290.6L1017.4,291.3L1021.1,292L1024.7,292.7L1028.4,293.4L1032.1,294.1L1035.7,294.8L1039.4,295.5L1043.1,296.3L1046.7,297L1050.4,297.7L1054,298.5L1057.7,299.3L1061.4,300L1065,300.8L1068.7,301.6L1072.4,302.3L1076,303.1L1079.7,303.9L1083.4,304.7L1087,305.5L1090.7,306.3L1094.4,307.1L1098,307.9L1101.7,308.7L1105.4,309.5L1109,310.3L1112.7,311.1L1116.4,311.8L1120,312.6L1123.7,313.4L1127.3,314.2L1131,315L1134.7,315.8L1138.3,316.6L1142,317.3L1145.7,318.1L1149.3,318.9L1153,319.7L1156.7,320.4L1160.3,321.2L1164,321.9L1167.7,322.7L1171.3,323.4L1175,324.1L1178.7,324.9L1182.3,325.6L1186,326.3L1189.7,327L1193.3,327.7L1197,328.4L1200.6,329.1L1204.3,329.8L1208,330.5L1211.6,331.2L1215.3,331.9L1219,332.6L1222.6,333.2L1226.3,333.9L1230,334.5L1233.6,335.2L1237.3,335.8L1241,336.5L1244.6,337.1L1248.3,337.7L1252,338.3L1255.6,338.9L1259.3,339.5L1262.9,340.1L1266.6,340.7L1270.3,341.3L1273.9,341.9L1277.6,342.4L1281.3,343L1284.9,343.5L1288.6,344.1L1292.3,344.6L1295.9,345.1L1299.6,345.7L1303.3,346.2L1306.9,346.7L1310.6,347.2L1314.3,347.7L1317.9,348.2L1321.6,348.6L1325.3,349.1L1328.9,349.6L1332.6,350L1336.2,350.4L1339.9,350.9L1343.6,351.3L1347.2,351.7L1350.9,352.1L1354.6,352.5L1358.2,352.9L1361.9,353.3L1365.6,353.6L1369.2,354L1372.9,354.4L1376.6,354.7L1380.2,355L1383.9,355.4L1387.6,355.7L1391.2,356L1394.9,356.3L1398.5,356.5L1402.2,356.8L1405.9,357.1L1409.5,357.3L1413.2,357.6L1416.9,357.8L1420.5,358L1424.2,358.3L1427.9,358.5L1431.5,358.7L1435.2,358.9L1438.9,359L1442.5,359.2L1446.2,359.4L1449.9,359.5L1453.5,359.7L1457.2,359.8L1460.9,359.9L1464.5,360.1L1468.2,360.2L1471.8,360.3L1475.5,360.4L1479.2,360.5L1482.8,360.6L1486.5,360.7L1490.2,360.7L1493.8,360.8L1497.5,360.9L1501.2,360.9L1504.8,361L1508.5,361L1512.2,361.1L1515.8,361.1L1519.5,361.2L1523.2,361.2L1526.8,361.2L1530.5,361.2L1534.1,361.3L1537.8,361.3L1541.5,361.3L1545.1,361.3L1548.8,361.3L1552.5,361.3L1556.1,361.3L1559.8,361.2L1563.5,361.2L1567.1,361.2L1570.8,361.2L1574.5,361.1L1578.1,361.1L1581.8,361.1L1585.5,361L1589.1,361L1592.8,361L1596.5,360.9L1600.1,360.9L1603.8,360.8L1607.4,360.8L1611.1,360.7L1614.8,360.7L1618.4,360.6L1622.1,360.6L1625.8,360.5L1629.4,360.4L1633.1,360.4L1636.8,360.3L1640.4,360.3L1644.1,360.2L1647.8,360.2L1651.4,360.1L1655.1,360L1658.8,360L1662.4,359.9L1666.1,359.8L1669.7,359.8L1673.4,359.7L1677.1,359.7L1680.7,359.6L1684.4,359.6L1688.1,359.5L1691.7,359.5L1695.4,359.4L1699.1,359.4L1702.7,359.3L1706.4,359.3L1710.1,359.2L1713.7,359.2L1717.4,359.1L1721.1,359.1L1724.7,359.1L1728.4,359.1L1732.1,359L1735.7,359L1739.4,359L1743,359L1746.7,358.9L1750.4,358.9L1754,358.9L1757.7,358.9L1761.4,358.9L1765,358.9L1768.7,358.9L1772.4,358.9L1776,358.9L1779.7,358.9L1783.4,358.9L1787,358.9L1790.7,358.9L1794.4,358.9L1798,358.9L1801.7,358.9L1805.4,359L1809,359L1812.7,359L1816.3,359L1820,359L1823.7,359.1L1827.3,359.1L1831,359.1L1834.7,359.1L1838.3,359.2L1842,359.2L1845.7,359.2L1849.3,359.3L1853,359.3L1856.7,359.3L1860.3,359.4L1864,359.4L1867.7,359.4L1871.3,359.5L1875,359.5L1878.6,359.5L1882.3,359.6L1886,359.6L1889.6,359.6L1893.3,359.7L1897,359.7L1900.6,359.8L1904.3,359.8L1908,359.8L1911.6,359.9L1915.3,359.9L1919,359.9L1922.6,360L1926.3,360L1930,360.1L1933.6,360.1L1937.3,360.1L1941,360.2L1944.6,360.2L1948.3,360.3L1951.9,360.3L1955.6,360.3L1959.3,360.4L1962.9,360.4L1966.6,360.4L1970.3,360.5L1973.9,360.5L1977.6,360.5" stroke="#7CCD7C" stroke-dasharray="18.9 18.9 6.3 18.9"/>
<path d="M881.8,145.3L885.5,145.4L889.1,145.4L892.8,145.3L896.5,145.3L900.1,145.2L903.8,145L907.5,144.9L911.1,144.6L914.8,144.4L918.4,144.1L922.1,143.8L925.8,143.5L929.4,143.1L933.1,142.8L936.8,142.3L940.4,141.9L944.1,141.4L947.8,141L951.4,140.5L955.1,139.9L958.8,139.4L962.4,138.9L966.1,138.3L969.8,137.7L973.4,137.1L977.1,136.5L980.8,135.9L984.4,135.2L988.1,134.6L991.7,134L995.4,133.3L999.1,132.6L1002.7,132L1006.4,131.3L1010.1,130.7L1013.7,130L1017.4,129.3L1021.1,128.7L1024.7,128L1028.4,127.3L1032.1,126.7L1035.7,126.1L1039.4,125.4L1043.1,124.8L1046.7,124.2L1050.4,123.6L1054,123L1057.7,122.4L1061.4,121.8L1065,121.3L1068.7,120.7L1072.4,120.2L1076,119.7L1079.7,119.2L1083.4,118.7L1087,118.2L1090.7,117.7L1094.4,117.3L1098,116.8L1101.7,116.4L1105.4,116L1109,115.6L1112.7,115.2L1116.4,114.9L1120,114.5L1123.7,114.2L1127.3,113.9L1131,113.6L1134.7,113.4L1138.3,113.1L1142,112.9L1145.7,112.7L1149.3,112.5L1153,112.3L1156.7,112.2L1160.3,112L1164,111.9L1167.7,111.8L1171.3,111.8L1175,111.7L1178.7,111.7L1182.3,111.7L1186,111.8L1189.7,111.8L1193.3,111.9L1197,112L1200.6,112.1L1204.3,112.3L1208,112.5L1211.6,112.7L1215.3,112.9L1219,113.2L1222.6,113.5L1226.3,113.8L1230,114.1L1233.6,114.5L1237.3,114.9L1241,115.3L1244.6,115.8L1248.3,116.3L1252,116.8L1255.6,117.3L1259.3,117.9L1262.9,118.5L1266.6,119.1L1270.3,119.7L1273.9,120.4L1277.6,121.1L1281.3,121.7L1284.9,122.4L1288.6,123.1L1292.3,123.9L1295.9,124.6L1299.6,125.3L1303.3,126.1L1306.9,126.9L1310.6,127.6L1314.3,128.4L1317.9,129.2L1321.6,130L1325.3,130.8L1328.9,131.5L1332.6,132.3L1336.2,133.1L1339.9,133.9L1343.6,134.6L1347.2,135.4L1350.9,136.2L1354.6,136.9L1358.2,137.7L1361.9,138.4L1365.6,139.2L1369.2,139.9L1372.9,140.7L1376.6,141.4L1380.2,142.2L1383.9,142.9L1387.6,143.6L1391.2,144.4L1394.9,145.1L1398.5,145.9L1402.2,146.6L1405.9,147.4L1409.5,148.1L1413.2,148.8L1416.9,149.6L1420.5,150.3L1424.2,151.1L1427.9,151.8L1431.5,152.5L1435.2,153.3L1438.9,154L1442.5,154.7L1446.2,155.4L1449.9,156.1L1453.5,156.8L1457.2,157.4L1460.9,158.1L1464.5,158.8L1468.2,159.4L1471.8,160.1L1475.5,160.7L1479.2,161.3L1482.8,161.9L1486.5,162.6L1490.2,163.2L1493.8,163.8L1497.5,164.3L1501.2,164.9L1504.8,165.5L1508.5,166.1L1512.2,166.6L1515.8,167.2L1519.5,167.7L1523.2,168.2L1526.8,168.7L1530.5,169.3L1534.1,169.8L1537.8,170.3L1541.5,170.7L1545.1,171.2L1548.8,171.7L1552.5,172.1L1556.1,172.6L1559.8,173L1563.5,173.5L1567.1,173.9L1570.8,174.3L1574.5,174.7L1578.1,175.1L1581.8,175.5L1585.5,175.9L1589.1,176.3L1592.8,176.6L1596.5,177L1600.1,177.3L1603.8,177.7L1607.4,178L1611.1,178.3L1614.8,178.6L1618.4,178.9L1622.1,179.2L1625.8,179.5L1629.4,179.8L1633.1,180.1L1636.8,180.3L1640.4,180.6L1644.1,180.8L1647.8,181L1651.4,181.3L1655.1,181.5L1658.8,181.7L1662.4,181.9L1666.1,182.1L1669.7,182.2L1673.4,182.4L1677.1,182.6L1680.7,182.7L1684.4,182.9L1688.1,183L1691.7,183.2L1695.4,183.3L1699.1,183.4L1702.7,183.5L1706.4,183.6L1710.1,183.7L1713.7,183.8L1717.4,183.9L1721.1,184L1724.7,184.1L1728.4,184.2L1732.1,184.2L1735.7,184.3L1739.4,184.3L1743,184.4L1746.7,184.4L1750.4,184.5L1754,184.5L1757.7,184.6L1761.4,184.6L1765,184.6L1768.7,184.6L1772.4,184.7L1776,184.7L1779.7,184.7L1783.4,184.7L1787,184.7L1790.7,184.7L1794.4,184.7L1798,184.7L1801.7,184.7L1805.4,184.7L1809,184.7L1812.7,184.7L1816.3,184.7L1820,184.7L1823.7,184.7L1827.3,184.7L1831,184.7L1834.7,184.6L1838.3,184.6L1842,184.6L1845.7,184.6L1849.3,184.6L1853,184.6L1856.7,184.6L1860.3,184.5L1864,184.5L1867.7,184.5L1871.3,184.5L1875,184.5L1878.6,184.5L1882.3,184.5L1886,184.5L1889.6,184.5L1893.3,184.5L1897,184.5L1900.6,184.5L1904.3,184.5L1908,184.5L1911.6,184.5L1915.3,184.5L1919,184.6L1922.6,184.6L1926.3,184.6L1930,184.6L1933.6,184.7L1937.3,184.7L1941,184.7L1944.6,184.8L1948.3,184.8L1951.9,184.9L1955.6,184.9L1959.3,185L1962.9,185.1L1966.6,185.2L1970.3,185.2L1973.9,185.3L1977.6,185.4" stroke="#7CCD7C" stroke-dasharray="18.9 18.9 6.3 18.9"/>
<path d="M881.8,79.6L885.5,79.6L889.1,79.8L892.8,79.9L896.5,80.1L900.1,80.3L903.8,80.6L907.5,80.9L911.1,81.2L914.8,81.6L918.4,82L922.1,82.4L925.8,82.8L929.4,83.3L933.1,83.8L936.8,84.4L940.4,84.9L944.1,85.5L947.8,86.1L951.4,86.8L955.1,87.5L958.8,88.1L962.4,88.8L966.1,89.6L969.8,90.3L973.4,91.1L977.1,91.9L980.8,92.7L984.4,93.5L988.1,94.3L991.7,95.1L995.4,96L999.1,96.9L1002.7,97.7L1006.4,98.6L1010.1,99.5L1013.7,100.4L1017.4,101.3L1021.1,102.3L1024.7,103.2L1028.4,104.1L1032.1,105.1L1035.7,106L1039.4,107L1043.1,107.9L1046.7,108.8L1050.4,109.8L1054,110.7L1057.7,111.7L1061.4,112.6L1065,113.6L1068.7,114.5L1072.4,115.4L1076,116.4L1079.7,117.3L1083.4,118.2L1087,119.1L1090.7,120L1094.4,121L1098,121.9L1101.7,122.7L1105.4,123.6L1109,124.5L1112.7,125.4L1116.4,126.2L1120,127.1L1123.7,127.9L1127.3,128.8L1131,129.6L1134.7,130.4L1138.3,131.2L1142,132L1145.7,132.7L1149.3,133.5L1153,134.2L1156.7,134.9L1160.3,135.6L1164,136.3L1167.7,137L1171.3,137.7L1175,138.3L1178.7,138.9L1182.3,139.5L1186,140.1L1189.7,140.7L1193.3,141.2L1197,141.7L1200.6,142.2L1204.3,142.7L1208,143.2L1211.6,143.6L1215.3,144L1219,144.4L1222.6,144.8L1226.3,145.1L1230,145.4L1233.6,145.7L1237.3,146L1241,146.2L1244.6,146.4L1248.3,146.6L1252,146.7L1255.6,146.8L1259.3,146.9L1262.9,147L1266.6,147.1L1270.3,147.1L1273.9,147.1L1277.6,147.1L1281.3,147.1L1284.9,147L1288.6,146.9L1292.3,146.8L1295.9,146.7L1299.6,146.6L1303.3,146.5L1306.9,146.3L1310.6,146.1L1314.3,146L1317.9,145.8L1321.6,145.6L1325.3,145.3L1328.9,145.1L1332.6,144.9L1336.2,144.6L1339.9,144.3L1343.6,144.1L1347.2,143.8L1350.9,143.5L1354.6,143.2L1358.2,142.9L1361.9,142.6L1365.6,142.3L1369.2,142L1372.9,141.7L1376.6,141.4L1380.2,141.1L1383.9,140.8L1387.6,140.5L1391.2,140.2L1394.9,139.9L1398.5,139.6L1402.2,139.3L1405.9,139L1409.5,138.7L1413.2,138.4L1416.9,138.2L1420.5,137.9L1424.2,137.7L1427.9,137.4L1431.5,137.2L1435.2,137L1438.9,136.8L1442.5,136.6L1446.2,136.4L1449.9,136.3L1453.5,136.1L1457.2,136L1460.9,135.8L1464.5,135.7L1468.2,135.6L1471.8,135.5L1475.5,135.4L1479.2,135.3L1482.8,135.3L1486.5,135.2L1490.2,135.2L1493.8,135.2L1497.5,135.1L1501.2,135.1L1504.8,135.1L1508.5,135.2L1512.2,135.2L1515.8,135.2L1519.5,135.3L1523.2,135.3L1526.8,135.4L1530.5,135.5L1534.1,135.6L1537.8,135.7L1541.5,135.8L1545.1,135.9L1548.8,136.1L1552.5,136.2L1556.1,136.4L1559.8,136.6L1563.5,136.7L1567.1,136.9L1570.8,137.1L1574.5,137.4L1578.1,137.6L1581.8,137.8L1585.5,138.1L1589.1,138.3L1592.8,138.6L1596.5,138.9L1600.1,139.2L1603.8,139.5L1607.4,139.8L1611.1,140.1L1614.8,140.4L1618.4,140.8L1622.1,141.1L1625.8,141.5L1629.4,141.9L1633.1,142.2L1636.8,142.6L1640.4,143L1644.1,143.5L1647.8,143.9L1651.4,144.3L1655.1,144.8L1658.8,145.2L1662.4,145.7L1666.1,146.1L1669.7,146.6L1673.4,147.1L1677.1,147.6L1680.7,148L1684.4,148.5L1688.1,149L1691.7,149.5L1695.4,150L1699.1,150.5L1702.7,151L1706.4,151.5L1710.1,152L1713.7,152.6L1717.4,153.1L1721.1,153.6L1724.7,154.1L1728.4,154.6L1732.1,155.1L1735.7,155.6L1739.4,156.1L1743,156.5L1746.7,157L1750.4,157.5L1754,158L1757.7,158.5L1761.4,158.9L1765,159.4L1768.7,159.8L1772.4,160.3L1776,160.7L1779.7,161.1L1783.4,161.5L1787,162L1790.7,162.4L1794.4,162.8L1798,163.2L1801.7,163.5L1805.4,163.9L1809,164.3L1812.7,164.7L1816.3,165L1820,165.4L1823.7,165.7L1827.3,166.1L1831,166.4L1834.7,166.8L1838.3,167.1L1842,167.4L1845.7,167.7L1849.3,168L1853,168.4L1856.7,168.7L1860.3,169L1864,169.2L1867.7,169.5L1871.3,169.8L1875,170.1L1878.6,170.4L1882.3,170.7L1886,170.9L1889.6,171.2L1893.3,171.5L1897,171.7L1900.6,172L1904.3,172.3L1908,172.5L1911.6,172.8L1915.3,173L1919,173.3L1922.6,173.6L1926.3,173.8L1930,174.1L1933.6,174.3L1937.3,174.6L1941,174.9L1944.6,175.1L1948.3,175.4L1951.9,175.6L1955.6,175.9L1959.3,176.2L1962.9,176.4L1966.6,176.7L1970.3,177L1973.9,177.3L1977.6,177.6" stroke="#7CCD7C" stroke-dasharray="18.9 18.9 6.3 18.9"/>
</g>
<rect x="881.8" y="46.7" width="1095.8" height="492.6" fill="none" stroke="#000" stroke-width="3.0"/>
<line x1="868.3" x2="881.8" y1="539.3" y2="539.3" stroke="#000" stroke-width="3"/>
<text x="851.2" y="549.9" font-size="33.3" text-anchor="end">0</text>
<line x1="874.3" x2="881.8" y1="473.7" y2="473.7" stroke="#000" stroke-width="2.6"/>
<line x1="868.3" x2="881.8" y1="408" y2="408" stroke="#000" stroke-width="3"/>
<text x="851.2" y="418.6" font-size="33.3" text-anchor="end">2</text>
<line x1="874.3" x2="881.8" y1="342.4" y2="342.4" stroke="#000" stroke-width="2.6"/>
<line x1="868.3" x2="881.8" y1="276.8" y2="276.8" stroke="#000" stroke-width="3"/>
<text x="851.2" y="287.4" font-size="33.3" text-anchor="end">4</text>
<line x1="874.3" x2="881.8" y1="211.1" y2="211.1" stroke="#000" stroke-width="2.6"/>
<line x1="868.3" x2="881.8" y1="145.5" y2="145.5" stroke="#000" stroke-width="3"/>
<text x="851.2" y="156.1" font-size="33.3" text-anchor="end">6</text>
<line x1="874.3" x2="881.8" y1="79.9" y2="79.9" stroke="#000" stroke-width="2.6"/>
<line x1="881.8" x2="881.8" y1="539.3" y2="552.8" stroke="#000" stroke-width="3"/>
<text x="881.8" y="587.6" font-size="33.3" text-anchor="middle">0.0</text>
<line x1="1155.8" x2="1155.8" y1="539.3" y2="552.8" stroke="#000" stroke-width="3"/>
<text x="1155.8" y="587.6" font-size="33.3" text-anchor="middle">0.5</text>
<line x1="1429.7" x2="1429.7" y1="539.3" y2="552.8" stroke="#000" stroke-width="3"/>
<text x="1429.7" y="587.6" font-size="33.3" text-anchor="middle">1.0</text>
<line x1="1703.6" x2="1703.6" y1="539.3" y2="552.8" stroke="#000" stroke-width="3"/>
<text x="1703.6" y="587.6" font-size="33.3" text-anchor="middle">1.5</text>
<line x1="1977.6" x2="1977.6" y1="539.3" y2="552.8" stroke="#000" stroke-width="3"/>
<text x="1977.6" y="587.6" font-size="33.3" text-anchor="middle">2.0</text>
<text x="1430.6" y="623.3" font-size="33.3" text-anchor="middle"><tspan font-style="italic">g</tspan>/<tspan font-style="italic">ω</tspan><tspan font-style="italic" font-size="23.3" dy="6.5" dx="2">c</tspan></text>
<text transform="translate(821.8,293.2) rotate(-90)" font-size="33.3" text-anchor="middle"><tspan font-style="italic">E</tspan><tspan font-style="italic" font-size="23.3" dy="6.5">n</tspan><tspan dy="-6.5">/(</tspan><tspan font-style="italic">ħω</tspan><tspan font-size="23.3" dy="6.5">10</tspan><tspan dy="-6.5">)</tspan></text>
<text x="1939.3" y="78.9" font-size="34" text-anchor="start" font-weight="bold" textLength="18.1" lengthAdjust="spacingAndGlyphs">c</text>
<line x1="1378" x2="1438.1" y1="480.4" y2="480.4" stroke="#104E8B" stroke-width="6.3"/>
<text x="1457.9" y="490.1" font-size="33.3" text-anchor="start" textLength="54.5" lengthAdjust="spacingAndGlyphs">Full</text>
<line x1="1552.2" x2="1612.2" y1="480.4" y2="480.4" stroke="#CD2626" stroke-width="6.3" stroke-dasharray="18.9 18.9"/>
<text x="1632.5" y="490.1" font-size="33.3" text-anchor="start" textLength="74.3" lengthAdjust="spacingAndGlyphs">QRM</text>
<line x1="1745.9" x2="1805.9" y1="480.4" y2="480.4" stroke="#7CCD7C" stroke-width="6.3" stroke-dasharray="18.9 18.9 6.3 18.9"/>
<text x="1826.7" y="471.4" font-size="33.3" text-anchor="start" textLength="114.8" lengthAdjust="spacingAndGlyphs">Renorm.</text>
<text x="1837.9" y="509.3" font-size="33.3" text-anchor="start" textLength="74.4" lengthAdjust="spacingAndGlyphs">QRM</text>
<clipPath id="clipd"><rect x="881.8" y="657.6" width="524.3" height="330.9"/></clipPath>
<clipPath id="clipe"><rect x="1457.4" y="657.6" width="520.2" height="330.9"/></clipPath>
<g clip-path="url(#clipd)" fill="none" stroke-width="6.3">
<path d="M881.8,696.3L888.4,698.1L895.1,699.9L901.7,701.7L908.3,703.4L915,705.2L921.6,706.9L928.3,708.6L934.9,710.4L941.5,712.1L948.2,713.7L954.8,715.4L961.4,717.1L968.1,718.7L974.7,720.4L981.4,722L988,723.6L994.6,725.3L1001.3,726.9L1007.9,728.4L1014.5,730L1021.2,731.6L1027.8,733.1L1034.4,734.7L1041.1,736.2L1047.7,737.7L1054.4,739.3L1061,740.8L1067.6,742.3L1074.3,743.7L1080.9,745.2L1087.5,746.7L1094.2,748.1L1100.8,749.6L1107.4,751L1114.1,752.4L1120.7,753.8L1127.4,755.2L1134,756.6L1140.6,758L1147.3,759.4L1153.9,760.7L1160.5,762.1L1167.2,763.4L1173.8,764.8L1180.5,766.1L1187.1,767.4L1193.7,768.7L1200.4,770L1207,771.3L1213.6,772.6L1220.3,773.9L1226.9,775.1L1233.5,776.4L1240.2,777.6L1246.8,778.9L1253.5,780.1L1260.1,781.3L1266.7,782.5L1273.4,783.7L1280,784.9L1286.6,786.1L1293.3,787.3L1299.9,788.4L1306.5,789.6L1313.2,790.7L1319.8,791.9L1326.5,793L1333.1,794.2L1339.7,795.3L1346.4,796.4L1353,797.5L1359.6,798.6L1366.3,799.7L1372.9,800.8L1379.6,801.8L1386.2,802.9L1392.8,804L1399.5,805L1406.1,806" stroke="#CD2626" stroke-dasharray="18.9 18.9"/>
<path d="M881.8,724.3L888.4,728L895.1,731.6L901.7,735.2L908.3,738.8L915,742.3L921.6,745.8L928.3,749.3L934.9,752.8L941.5,756.3L948.2,759.7L954.8,763.2L961.4,766.6L968.1,770L974.7,773.4L981.4,776.7L988,780.1L994.6,783.4L1001.3,786.7L1007.9,790L1014.5,793.3L1021.2,796.6L1027.8,799.9L1034.4,803.1L1041.1,806.3L1047.7,809.6L1054.4,812.8L1061,816L1067.6,819.2L1074.3,822.4L1080.9,825.6L1087.5,828.8L1094.2,832L1100.8,835.2L1107.4,838.4L1114.1,841.5L1120.7,844.7L1127.4,847.9L1134,851L1140.6,854.2L1147.3,857.4L1153.9,860.5L1160.5,863.7L1167.2,866.9L1173.8,870L1180.5,873.2L1187.1,876.4L1193.7,879.5L1200.4,882.7L1207,885.9L1213.6,889.1L1220.3,892.2L1226.9,895.4L1233.5,898.6L1240.2,901.7L1246.8,904.9L1253.5,908L1260.1,911.2L1266.7,914.4L1273.4,917.5L1280,920.7L1286.6,923.8L1293.3,927L1299.9,930.1L1306.5,933.2L1313.2,936.4L1319.8,939.5L1326.5,942.6L1333.1,945.8L1339.7,948.8L1346.4,951.8L1353,954.8L1359.6,957.6L1366.3,960.3L1372.9,962.9L1379.6,965.4L1386.2,967.7L1392.8,969.8L1399.5,971.7L1406.1,973.3" stroke="#7CCD7C" stroke-dasharray="18.9 18.9 6.3 18.9"/>
</g>
<rect x="881.8" y="657.6" width="524.3" height="330.9" fill="none" stroke="#000" stroke-width="3.0"/>
<line x1="868.3" x2="881.8" y1="670.5" y2="670.5" stroke="#000" stroke-width="3"/>
<line x1="874.3" x2="881.8" y1="688.4" y2="688.4" stroke="#000" stroke-width="2.6"/>
<line x1="868.3" x2="881.8" y1="740" y2="740" stroke="#000" stroke-width="3"/>
<line x1="874.3" x2="881.8" y1="757.9" y2="757.9" stroke="#000" stroke-width="2.6"/>
<line x1="868.3" x2="881.8" y1="809.4" y2="809.4" stroke="#000" stroke-width="3"/>
<line x1="874.3" x2="881.8" y1="827.3" y2="827.3" stroke="#000" stroke-width="2.6"/>
<line x1="868.3" x2="881.8" y1="878.9" y2="878.9" stroke="#000" stroke-width="3"/>
<line x1="874.3" x2="881.8" y1="896.8" y2="896.8" stroke="#000" stroke-width="2.6"/>
<line x1="868.3" x2="881.8" y1="948.3" y2="948.3" stroke="#000" stroke-width="3"/>
<line x1="874.3" x2="881.8" y1="966.2" y2="966.2" stroke="#000" stroke-width="2.6"/>
<line x1="881.8" x2="881.8" y1="988.5" y2="1002" stroke="#000" stroke-width="3"/>
<text x="881.8" y="1037.1" font-size="33.3" text-anchor="middle">30</text>
<line x1="956.7" x2="956.7" y1="988.5" y2="1002" stroke="#000" stroke-width="3"/>
<text x="956.7" y="1037.1" font-size="33.3" text-anchor="middle">40</text>
<line x1="1031.6" x2="1031.6" y1="988.5" y2="1002" stroke="#000" stroke-width="3"/>
<text x="1031.6" y="1037.1" font-size="33.3" text-anchor="middle">50</text>
<line x1="1106.5" x2="1106.5" y1="988.5" y2="1002" stroke="#000" stroke-width="3"/>
<text x="1106.5" y="1037.1" font-size="33.3" text-anchor="middle">60</text>
<line x1="1181.4" x2="1181.4" y1="988.5" y2="1002" stroke="#000" stroke-width="3"/>
<text x="1181.4" y="1037.1" font-size="33.3" text-anchor="middle">70</text>
<line x1="1256.3" x2="1256.3" y1="988.5" y2="1002" stroke="#000" stroke-width="3"/>
<text x="1256.3" y="1037.1" font-size="33.3" text-anchor="middle">80</text>
<line x1="1331.2" x2="1331.2" y1="988.5" y2="1002" stroke="#000" stroke-width="3"/>
<text x="1331.2" y="1037.1" font-size="33.3" text-anchor="middle">90</text>
<line x1="1406.1" x2="1406.1" y1="988.5" y2="1002" stroke="#000" stroke-width="3"/>
<text x="1406.1" y="1037.1" font-size="33.3" text-anchor="middle">100</text>
<g clip-path="url(#clipe)" fill="none" stroke-width="6.3">
<path d="M1457.4,672.3L1463.8,673.7L1470.2,675L1476.6,676.3L1482.9,677.6L1489.3,679L1495.7,680.3L1502.1,681.6L1508.5,682.9L1514.9,684.2L1521.3,685.5L1527.7,686.8L1534,688.1L1540.4,689.3L1546.8,690.6L1553.2,691.9L1559.6,693.2L1566,694.4L1572.4,695.7L1578.8,697L1585.1,698.2L1591.5,699.5L1597.9,700.7L1604.3,702L1610.7,703.2L1617.1,704.5L1623.5,705.7L1629.9,707L1636.2,708.2L1642.6,709.4L1649,710.6L1655.4,711.9L1661.8,713.1L1668.2,714.3L1674.6,715.5L1681,716.7L1687.3,717.9L1693.7,719.1L1700.1,720.3L1706.5,721.5L1712.9,722.7L1719.3,723.9L1725.7,725.1L1732.1,726.3L1738.4,727.5L1744.8,728.6L1751.2,729.8L1757.6,731L1764,732.2L1770.4,733.3L1776.8,734.5L1783.2,735.7L1789.5,736.8L1795.9,738L1802.3,739.2L1808.7,740.3L1815.1,741.5L1821.5,742.6L1827.9,743.8L1834.3,744.9L1840.6,746.1L1847,747.2L1853.4,748.4L1859.8,749.5L1866.2,750.6L1872.6,751.8L1879,752.9L1885.4,754L1891.7,755.2L1898.1,756.3L1904.5,757.4L1910.9,758.6L1917.3,759.7L1923.7,760.8L1930.1,761.9L1936.5,763L1942.8,764.2L1949.2,765.3L1955.6,766.4L1962,767.5" stroke="#CD2626" stroke-dasharray="18.9 18.9"/>
<path d="M1457.4,674.5L1464,679L1470.6,683.2L1477.2,687.2L1483.7,691.1L1490.3,694.8L1496.9,698.3L1503.5,701.7L1510.1,705.1L1516.7,708.3L1523.2,711.5L1529.8,714.6L1536.4,717.6L1543,720.7L1549.6,723.7L1556.2,726.7L1562.8,729.6L1569.3,732.6L1575.9,735.6L1582.5,738.6L1589.1,741.6L1595.7,744.7L1602.3,747.7L1608.9,750.8L1615.4,753.9L1622,757L1628.6,760.1L1635.2,763.2L1641.8,766.3L1648.4,769.4L1654.9,772.4L1661.5,775.4L1668.1,778.3L1674.7,781.3L1681.3,784.2L1687.9,787.2L1694.5,790.1L1701,793.1L1707.6,796.1L1714.2,799.2L1720.8,802.2L1727.4,805.4L1734,808.6L1740.5,811.8L1747.1,815.1L1753.7,818.4L1760.3,821.7L1766.9,825.1L1773.5,828.5L1780.1,831.9L1786.6,835.3L1793.2,838.7L1799.8,842.2L1806.4,845.6L1813,849.1L1819.6,852.5L1826.1,855.9L1832.7,859.3L1839.3,862.7L1845.9,866.1L1852.5,869.5L1859.1,872.8L1865.7,876.1L1872.2,879.3L1878.8,882.5L1885.4,885.5L1892,888.5L1898.6,891.3L1905.2,894L1911.8,896.5L1918.3,898.8L1924.9,901L1931.5,902.9L1938.1,904.7L1944.7,906.3L1951.3,907.7L1957.8,908.9L1964.4,909.9L1971,910.8L1977.6,911.4" stroke="#7CCD7C" stroke-dasharray="18.9 18.9 6.3 18.9"/>
</g>
<rect x="1457.4" y="657.6" width="520.2" height="330.9" fill="none" stroke="#000" stroke-width="3.0"/>
<line x1="1443.9" x2="1457.4" y1="670.5" y2="670.5" stroke="#000" stroke-width="3"/>
<line x1="1449.9" x2="1457.4" y1="688.4" y2="688.4" stroke="#000" stroke-width="2.6"/>
<line x1="1443.9" x2="1457.4" y1="740" y2="740" stroke="#000" stroke-width="3"/>
<line x1="1449.9" x2="1457.4" y1="757.9" y2="757.9" stroke="#000" stroke-width="2.6"/>
<line x1="1443.9" x2="1457.4" y1="809.4" y2="809.4" stroke="#000" stroke-width="3"/>
<line x1="1449.9" x2="1457.4" y1="827.3" y2="827.3" stroke="#000" stroke-width="2.6"/>
<line x1="1443.9" x2="1457.4" y1="878.9" y2="878.9" stroke="#000" stroke-width="3"/>
<line x1="1449.9" x2="1457.4" y1="896.8" y2="896.8" stroke="#000" stroke-width="2.6"/>
<line x1="1443.9" x2="1457.4" y1="948.3" y2="948.3" stroke="#000" stroke-width="3"/>
<line x1="1449.9" x2="1457.4" y1="966.2" y2="966.2" stroke="#000" stroke-width="2.6"/>
<line x1="1457.4" x2="1457.4" y1="988.5" y2="1002" stroke="#000" stroke-width="3"/>
<text x="1457.4" y="1037.1" font-size="33.3" text-anchor="middle">30</text>
<line x1="1531.7" x2="1531.7" y1="988.5" y2="1002" stroke="#000" stroke-width="3"/>
<text x="1531.7" y="1037.1" font-size="33.3" text-anchor="middle">40</text>
<line x1="1606" x2="1606" y1="988.5" y2="1002" stroke="#000" stroke-width="3"/>
<text x="1606" y="1037.1" font-size="33.3" text-anchor="middle">50</text>
<line x1="1680.3" x2="1680.3" y1="988.5" y2="1002" stroke="#000" stroke-width="3"/>
<text x="1680.3" y="1037.1" font-size="33.3" text-anchor="middle">60</text>
<line x1="1754.7" x2="1754.7" y1="988.5" y2="1002" stroke="#000" stroke-width="3"/>
<text x="1754.7" y="1037.1" font-size="33.3" text-anchor="middle">70</text>
<line x1="1829" x2="1829" y1="988.5" y2="1002" stroke="#000" stroke-width="3"/>
<text x="1829" y="1037.1" font-size="33.3" text-anchor="middle">80</text>
<line x1="1903.3" x2="1903.3" y1="988.5" y2="1002" stroke="#000" stroke-width="3"/>
<text x="1903.3" y="1037.1" font-size="33.3" text-anchor="middle">90</text>
<line x1="1977.6" x2="1977.6" y1="988.5" y2="1002" stroke="#000" stroke-width="3"/>
<text x="1977.6" y="1037.1" font-size="33.3" text-anchor="middle">100</text>
<text x="806.7" y="682.5" font-size="33.3">10<tspan font-size="22.5" dy="-12.6" dx="1.2">0</tspan></text>
<text x="790.7" y="752" font-size="33.3">10</text>
<text x="825.3" y="739.4" font-size="22.5" textLength="26.4" lengthAdjust="spacingAndGlyphs">−1</text>
<text x="790.7" y="821.4" font-size="33.3">10</text>
<text x="825.3" y="808.8" font-size="22.5" textLength="26.4" lengthAdjust="spacingAndGlyphs">−2</text>
<text x="790.7" y="890.9" font-size="33.3">10</text>
<text x="825.3" y="878.2" font-size="22.5" textLength="26.4" lengthAdjust="spacingAndGlyphs">−3</text>
<text x="790.7" y="960.3" font-size="33.3">10</text>
<text x="825.3" y="947.7" font-size="22.5" textLength="26.4" lengthAdjust="spacingAndGlyphs">−4</text>
<text transform="translate(778.1,823) rotate(-90)" font-size="33.3" text-anchor="middle"><tspan font-style="italic">σ</tspan>/<tspan font-style="italic">ω</tspan><tspan font-size="23.3" dy="6.5">10</tspan></text>
<text x="1135.4" y="1073.6" font-size="33.3" font-style="italic" textLength="17.2" lengthAdjust="spacingAndGlyphs">γ</text>
<text x="1708.9" y="1073.6" font-size="33.3" font-style="italic" textLength="17.2" lengthAdjust="spacingAndGlyphs">γ</text>
<text x="909.5" y="962.8" font-size="33.3"><tspan font-style="italic">g</tspan>/<tspan font-style="italic" dx="1">ω</tspan><tspan font-style="italic" font-size="21.5" dy="6.5" dx="3">c</tspan></text>
<text x="973.8" y="962.8" font-size="33.3" textLength="24.6" lengthAdjust="spacingAndGlyphs">=</text>
<text x="1004.8" y="962.8" font-size="33.3">0.8</text>
<text x="1484.3" y="962.8" font-size="33.3"><tspan font-style="italic">g</tspan>/<tspan font-style="italic" dx="1">ω</tspan><tspan font-style="italic" font-size="21.5" dy="6.5" dx="3">c</tspan></text>
<text x="1548.6" y="962.8" font-size="33.3" textLength="24.6" lengthAdjust="spacingAndGlyphs">=</text>
<text x="1579.6" y="962.8" font-size="33.3">1.5</text>
<text x="1363.6" y="690.9" font-size="34.6" text-anchor="start" font-weight="bold" textLength="22.1" lengthAdjust="spacingAndGlyphs">d</text>
<text x="1937.2" y="690.8" font-size="34" text-anchor="start" font-weight="bold" textLength="21" lengthAdjust="spacingAndGlyphs">e</text>
</svg>
</body></html>
